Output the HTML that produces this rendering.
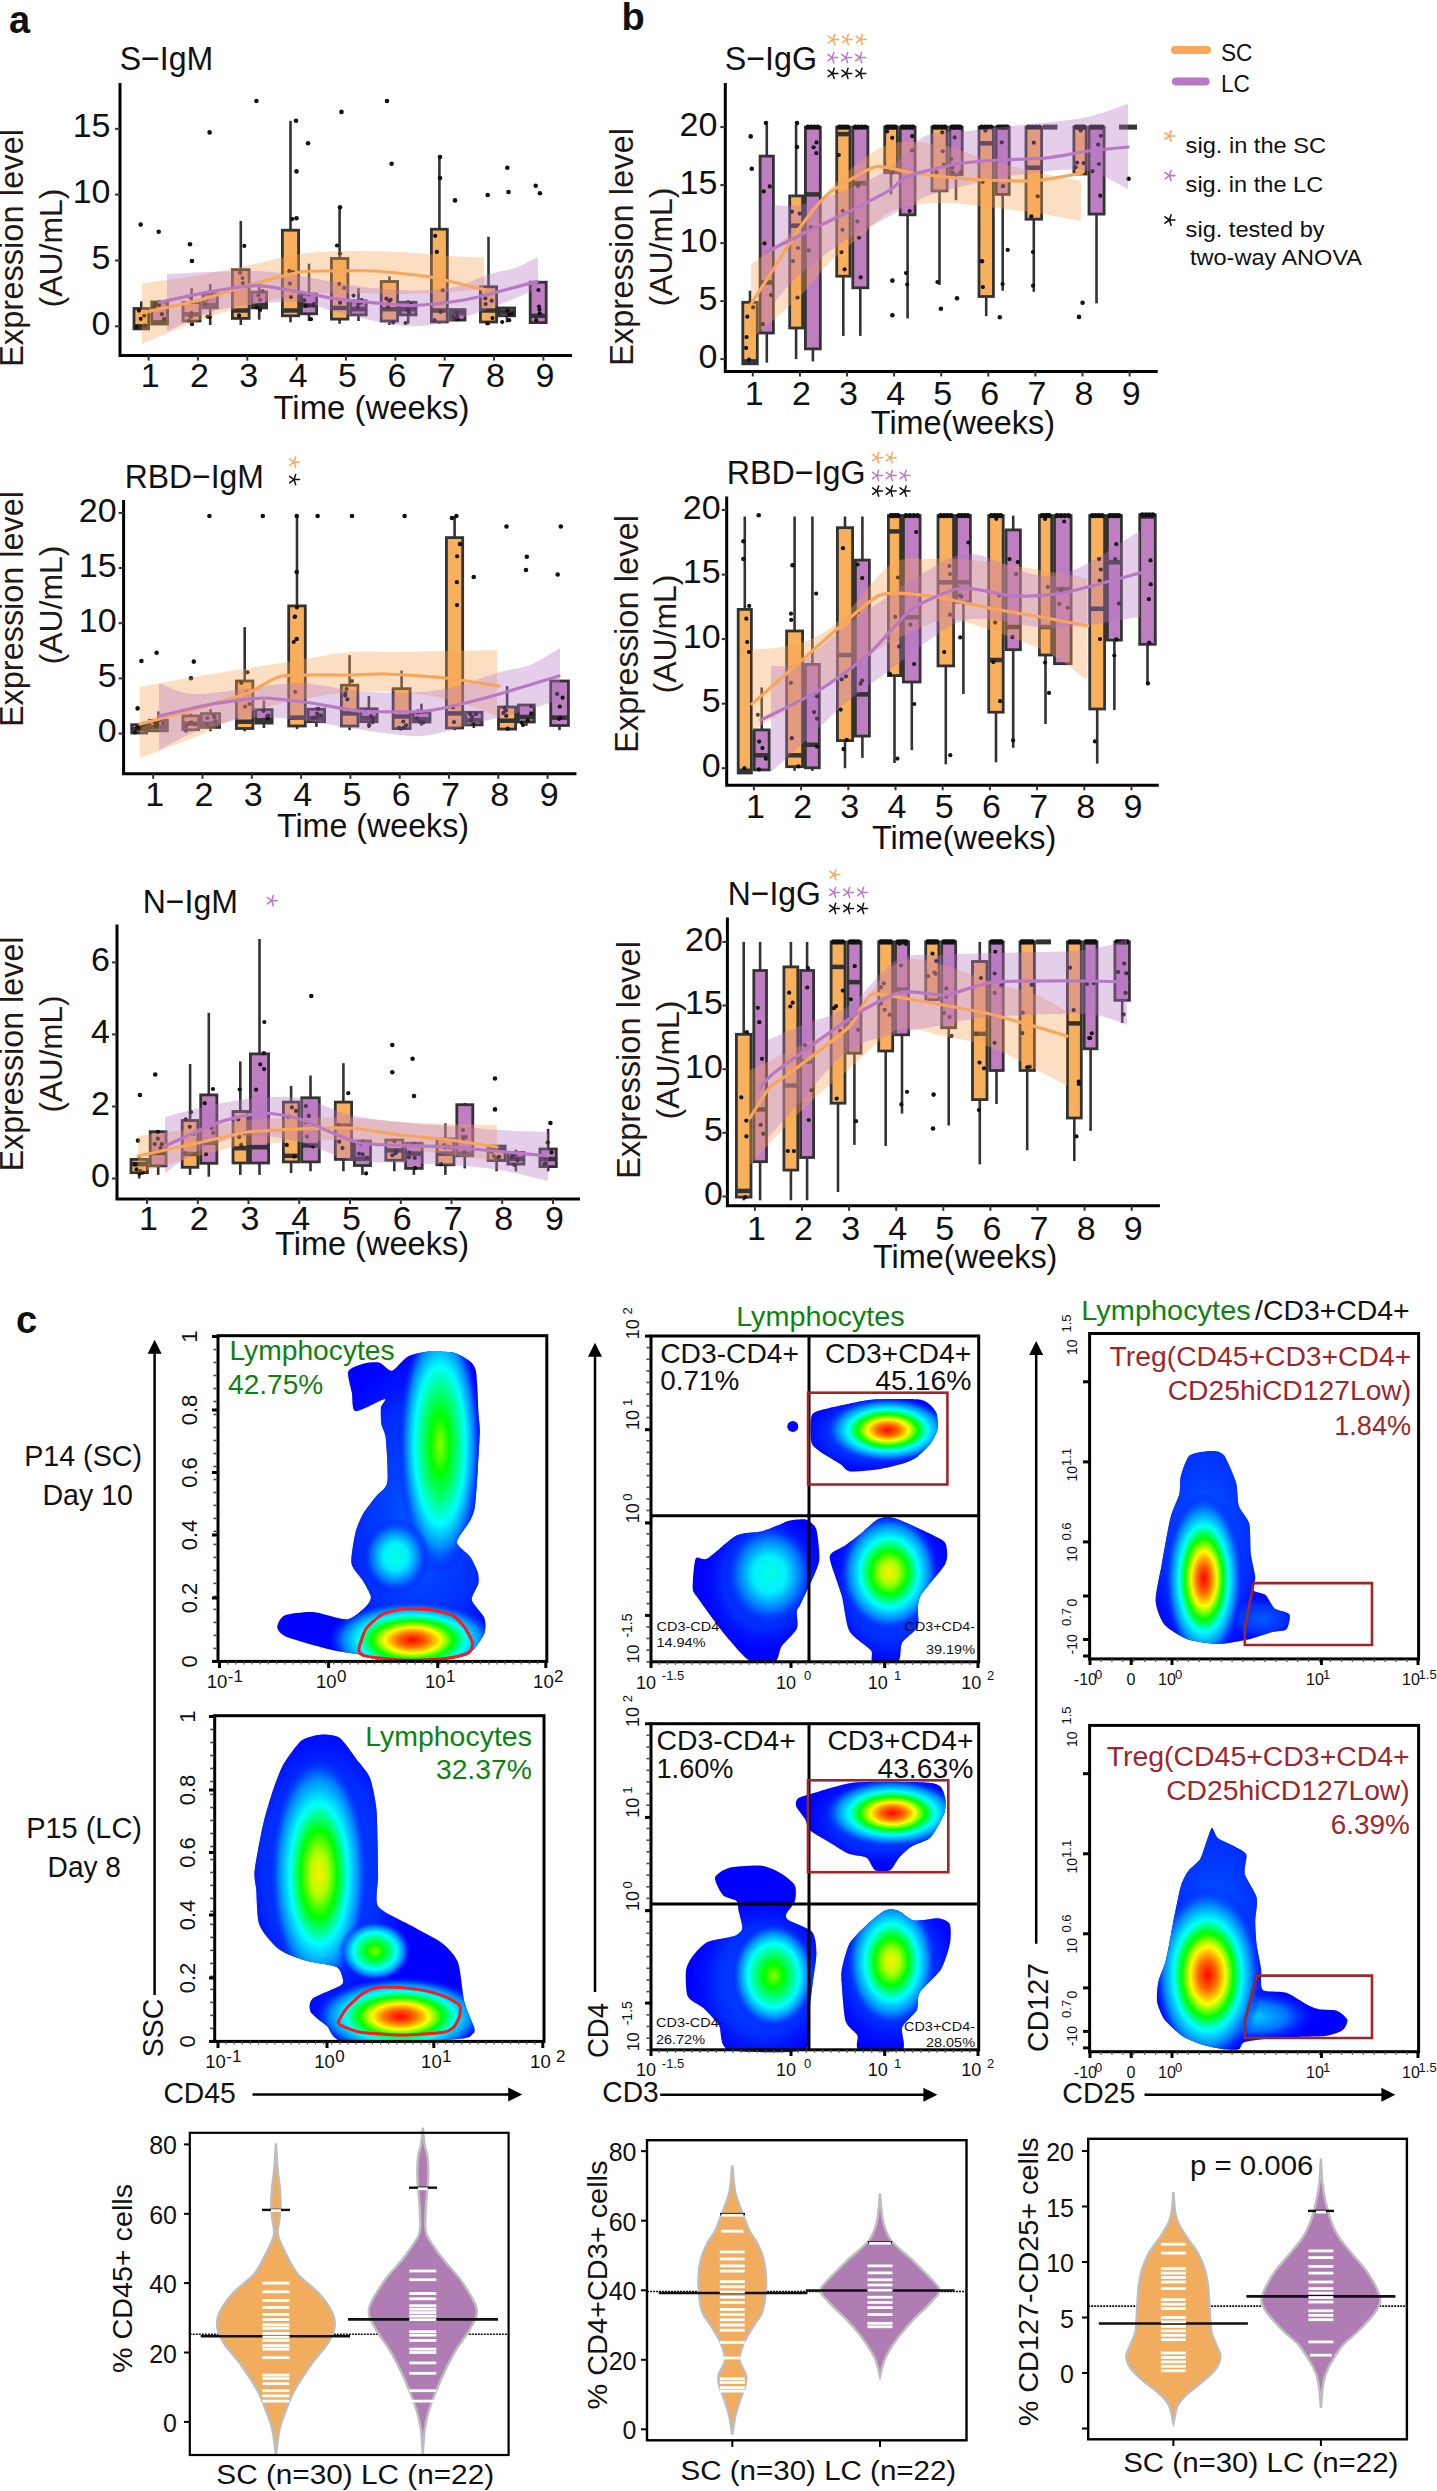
<!DOCTYPE html>
<html><head><meta charset="utf-8"><title>Figure</title>
<style>
html,body{margin:0;padding:0;background:#fff;}
body{width:1437px;height:2491px;overflow:hidden;}
svg{display:block;font-family:"Liberation Sans", sans-serif;}
</style></head><body>
<svg width="1437" height="2491" viewBox="0 0 1437 2491">
<rect width="1437" height="2491" fill="#fff"/>
<line x1="141.3" y1="301.3" x2="141.3" y2="308.5" stroke="#333333" stroke-width="2.6"/><rect x="134" y="308.5" width="14.6" height="20.4" fill="#F9B05C" stroke="#333333" stroke-width="2.8"/><line x1="134" y1="326.3" x2="148.6" y2="326.3" stroke="#333333" stroke-width="4.5"/><line x1="159.7" y1="300" x2="159.7" y2="301.9" stroke="#333333" stroke-width="2.6"/><line x1="159.7" y1="324.1" x2="159.7" y2="325" stroke="#333333" stroke-width="2.6"/><rect x="151.7" y="301.9" width="15.9" height="22.1" fill="#BE7EC1" stroke="#333333" stroke-width="2.8"/><line x1="151.7" y1="322.3" x2="167.6" y2="322.3" stroke="#333333" stroke-width="4.5"/><line x1="191.6" y1="288.1" x2="191.6" y2="302.6" stroke="#333333" stroke-width="2.6"/><line x1="191.6" y1="321" x2="191.6" y2="325" stroke="#333333" stroke-width="2.6"/><rect x="183" y="302.6" width="17.1" height="18.4" fill="#F9B05C" stroke="#333333" stroke-width="2.8"/><line x1="183" y1="314.4" x2="200.1" y2="314.4" stroke="#333333" stroke-width="4.5"/><line x1="210.2" y1="284.2" x2="210.2" y2="294" stroke="#333333" stroke-width="2.6"/><line x1="210.2" y1="307.9" x2="210.2" y2="325" stroke="#333333" stroke-width="2.6"/><rect x="202.9" y="294" width="14.5" height="13.8" fill="#BE7EC1" stroke="#333333" stroke-width="2.8"/><line x1="202.9" y1="305.2" x2="217.4" y2="305.2" stroke="#333333" stroke-width="4.5"/><line x1="240.8" y1="220.9" x2="240.8" y2="269.7" stroke="#333333" stroke-width="2.6"/><line x1="240.8" y1="318.4" x2="240.8" y2="325" stroke="#333333" stroke-width="2.6"/><rect x="232.4" y="269.7" width="16.7" height="48.7" fill="#F9B05C" stroke="#333333" stroke-width="2.8"/><line x1="232.4" y1="310.5" x2="249.1" y2="310.5" stroke="#333333" stroke-width="4.5"/><line x1="259.2" y1="282.8" x2="259.2" y2="292.1" stroke="#333333" stroke-width="2.6"/><line x1="259.2" y1="307.9" x2="259.2" y2="319.7" stroke="#333333" stroke-width="2.6"/><rect x="251.9" y="292.1" width="14.7" height="15.8" fill="#BE7EC1" stroke="#333333" stroke-width="2.8"/><line x1="251.9" y1="305.2" x2="266.6" y2="305.2" stroke="#333333" stroke-width="4.5"/><line x1="290.5" y1="120.8" x2="290.5" y2="230.2" stroke="#333333" stroke-width="2.6"/><line x1="290.5" y1="315.8" x2="290.5" y2="322.3" stroke="#333333" stroke-width="2.6"/><rect x="282.4" y="230.2" width="16.2" height="85.6" fill="#F9B05C" stroke="#333333" stroke-width="2.8"/><line x1="282.4" y1="310.5" x2="298.6" y2="310.5" stroke="#333333" stroke-width="4.5"/><line x1="309" y1="263.7" x2="309" y2="294" stroke="#333333" stroke-width="2.6"/><line x1="309" y1="313.8" x2="309" y2="321" stroke="#333333" stroke-width="2.6"/><rect x="301.4" y="294" width="15.2" height="19.8" fill="#BE7EC1" stroke="#333333" stroke-width="2.8"/><line x1="301.4" y1="305.2" x2="316.6" y2="305.2" stroke="#333333" stroke-width="4.5"/><line x1="339.6" y1="207.1" x2="339.6" y2="258.5" stroke="#333333" stroke-width="2.6"/><line x1="339.6" y1="319.1" x2="339.6" y2="323.7" stroke="#333333" stroke-width="2.6"/><rect x="331.4" y="258.5" width="16.5" height="60.6" fill="#F9B05C" stroke="#333333" stroke-width="2.8"/><line x1="331.4" y1="307.9" x2="347.9" y2="307.9" stroke="#333333" stroke-width="4.5"/><line x1="358.5" y1="288.1" x2="358.5" y2="300.9" stroke="#333333" stroke-width="2.6"/><line x1="358.5" y1="314.8" x2="358.5" y2="321" stroke="#333333" stroke-width="2.6"/><rect x="350.7" y="300.9" width="15.5" height="14" fill="#BE7EC1" stroke="#333333" stroke-width="2.8"/><line x1="350.7" y1="309.2" x2="366.2" y2="309.2" stroke="#333333" stroke-width="4.5"/><line x1="389.4" y1="276.3" x2="389.4" y2="281.5" stroke="#333333" stroke-width="2.6"/><line x1="389.4" y1="321" x2="389.4" y2="325" stroke="#333333" stroke-width="2.6"/><rect x="381.2" y="281.5" width="16.4" height="39.5" fill="#F9B05C" stroke="#333333" stroke-width="2.8"/><line x1="381.2" y1="309.2" x2="397.6" y2="309.2" stroke="#333333" stroke-width="4.5"/><line x1="408.2" y1="300" x2="408.2" y2="302.3" stroke="#333333" stroke-width="2.6"/><line x1="408.2" y1="315" x2="408.2" y2="323.7" stroke="#333333" stroke-width="2.6"/><rect x="400.4" y="302.3" width="15.6" height="12.6" fill="#BE7EC1" stroke="#333333" stroke-width="2.8"/><line x1="400.4" y1="309.2" x2="416" y2="309.2" stroke="#333333" stroke-width="4.5"/><line x1="439.4" y1="157.1" x2="439.4" y2="229.2" stroke="#333333" stroke-width="2.6"/><line x1="439.4" y1="322" x2="439.4" y2="323.7" stroke="#333333" stroke-width="2.6"/><rect x="431.4" y="229.2" width="15.9" height="92.7" fill="#F9B05C" stroke="#333333" stroke-width="2.8"/><line x1="431.4" y1="310.5" x2="447.3" y2="310.5" stroke="#333333" stroke-width="4.5"/><line x1="457.5" y1="309.2" x2="457.5" y2="309.6" stroke="#333333" stroke-width="2.6"/><line x1="457.5" y1="320.1" x2="457.5" y2="321" stroke="#333333" stroke-width="2.6"/><rect x="450.1" y="309.6" width="14.9" height="10.5" fill="#BE7EC1" stroke="#333333" stroke-width="2.8"/><line x1="450.1" y1="313.1" x2="465" y2="313.1" stroke="#333333" stroke-width="4.5"/><line x1="488.5" y1="236.7" x2="488.5" y2="286.8" stroke="#333333" stroke-width="2.6"/><line x1="488.5" y1="322" x2="488.5" y2="325" stroke="#333333" stroke-width="2.6"/><rect x="480.4" y="286.8" width="16.2" height="35.2" fill="#F9B05C" stroke="#333333" stroke-width="2.8"/><line x1="480.4" y1="310.5" x2="496.6" y2="310.5" stroke="#333333" stroke-width="4.5"/><line x1="507" y1="307.9" x2="507" y2="308" stroke="#333333" stroke-width="2.6"/><line x1="507" y1="315.8" x2="507" y2="322.3" stroke="#333333" stroke-width="2.6"/><rect x="499.4" y="308" width="15.2" height="7.8" fill="#BE7EC1" stroke="#333333" stroke-width="2.8"/><line x1="499.4" y1="311.8" x2="514.6" y2="311.8" stroke="#333333" stroke-width="4.5"/><line x1="538.2" y1="281.5" x2="538.2" y2="282.2" stroke="#333333" stroke-width="2.6"/><rect x="530.2" y="282.2" width="16" height="40.4" fill="#BE7EC1" stroke="#333333" stroke-width="2.8"/><line x1="530.2" y1="315.8" x2="546.2" y2="315.8" stroke="#333333" stroke-width="4.5"/>
<g fill="#111"><circle cx="140.7" cy="224.6" r="2.3"/><circle cx="158.7" cy="231.7" r="2.3"/><circle cx="190" cy="244.3" r="2.3"/><circle cx="192" cy="261" r="2.3"/><circle cx="209.6" cy="132.4" r="2.3"/><circle cx="256.4" cy="101" r="2.3"/><circle cx="308.1" cy="143.2" r="2.3"/><circle cx="341.5" cy="111.9" r="2.3"/><circle cx="387" cy="101" r="2.3"/><circle cx="391.6" cy="163.7" r="2.3"/><circle cx="455" cy="200.4" r="2.3"/><circle cx="487.7" cy="195" r="2.3"/><circle cx="507.3" cy="167.8" r="2.3"/><circle cx="508.5" cy="192" r="2.3"/><circle cx="535.7" cy="185.8" r="2.3"/><circle cx="539.9" cy="193.3" r="2.3"/><circle cx="296.5" cy="171.4" r="2.3"/><circle cx="296.5" cy="218.2" r="2.3"/><circle cx="440" cy="178.1" r="2.3"/><circle cx="340" cy="207.3" r="2.3"/><circle cx="296" cy="120.7" r="2.3"/><circle cx="440" cy="157" r="2.3"/><circle cx="144.8" cy="325.7" r="2.1"/><circle cx="138.9" cy="310.6" r="2.1"/><circle cx="140.8" cy="318.8" r="2.1"/><circle cx="144.2" cy="315.6" r="2.1"/><circle cx="136.6" cy="327" r="2.1"/><circle cx="159" cy="304.9" r="2.1"/><circle cx="154.7" cy="306.7" r="2.1"/><circle cx="161.9" cy="314.2" r="2.1"/><circle cx="164.1" cy="319" r="2.1"/><circle cx="155" cy="304.1" r="2.1"/><circle cx="192" cy="324.2" r="2.1"/><circle cx="190.4" cy="297.2" r="2.1"/><circle cx="190.8" cy="317" r="2.1"/><circle cx="188.8" cy="320.5" r="2.1"/><circle cx="191.5" cy="313" r="2.1"/><circle cx="207.5" cy="316.6" r="2.1"/><circle cx="209.7" cy="317.1" r="2.1"/><circle cx="205.4" cy="303.9" r="2.1"/><circle cx="210.7" cy="296.3" r="2.1"/><circle cx="207" cy="299" r="2.1"/><circle cx="244.3" cy="245.9" r="2.1"/><circle cx="239.1" cy="315.4" r="2.1"/><circle cx="242.9" cy="283.2" r="2.1"/><circle cx="240" cy="272.8" r="2.1"/><circle cx="242.5" cy="278" r="2.1"/><circle cx="260.1" cy="309.9" r="2.1"/><circle cx="262.7" cy="291.2" r="2.1"/><circle cx="260.1" cy="299.9" r="2.1"/><circle cx="256.7" cy="307.3" r="2.1"/><circle cx="258.4" cy="295.3" r="2.1"/><circle cx="291" cy="296.9" r="2.1"/><circle cx="292.2" cy="219.1" r="2.1"/><circle cx="289.9" cy="283.7" r="2.1"/><circle cx="293.3" cy="272.2" r="2.1"/><circle cx="289.4" cy="271.2" r="2.1"/><circle cx="304.3" cy="300.4" r="2.1"/><circle cx="311" cy="319.2" r="2.1"/><circle cx="309.9" cy="294.4" r="2.1"/><circle cx="305.7" cy="306" r="2.1"/><circle cx="313.8" cy="303.9" r="2.1"/><circle cx="340" cy="253.6" r="2.1"/><circle cx="337" cy="245.5" r="2.1"/><circle cx="344.2" cy="287.9" r="2.1"/><circle cx="339.2" cy="284.1" r="2.1"/><circle cx="340.1" cy="302.7" r="2.1"/><circle cx="353.5" cy="295.6" r="2.1"/><circle cx="361.7" cy="300.2" r="2.1"/><circle cx="360.9" cy="302.5" r="2.1"/><circle cx="358.6" cy="303.5" r="2.1"/><circle cx="357.7" cy="307" r="2.1"/><circle cx="393.1" cy="322.4" r="2.1"/><circle cx="386.4" cy="298.7" r="2.1"/><circle cx="389.2" cy="301.1" r="2.1"/><circle cx="387.9" cy="306.9" r="2.1"/><circle cx="390.6" cy="299.8" r="2.1"/><circle cx="407.8" cy="309.9" r="2.1"/><circle cx="405.5" cy="323" r="2.1"/><circle cx="409" cy="312.7" r="2.1"/><circle cx="411.2" cy="304.1" r="2.1"/><circle cx="411.4" cy="304.9" r="2.1"/><circle cx="442.8" cy="290.3" r="2.1"/><circle cx="435.2" cy="235.8" r="2.1"/><circle cx="434.5" cy="320.4" r="2.1"/><circle cx="436.8" cy="251.9" r="2.1"/><circle cx="440.6" cy="311.8" r="2.1"/><circle cx="453.2" cy="317" r="2.1"/><circle cx="457.8" cy="319.2" r="2.1"/><circle cx="455.3" cy="318.3" r="2.1"/><circle cx="457.1" cy="312.6" r="2.1"/><circle cx="457.3" cy="316.7" r="2.1"/><circle cx="487.4" cy="323.5" r="2.1"/><circle cx="485.4" cy="298.4" r="2.1"/><circle cx="492.5" cy="318.1" r="2.1"/><circle cx="485.6" cy="304" r="2.1"/><circle cx="491.7" cy="300.7" r="2.1"/><circle cx="502.2" cy="322" r="2.1"/><circle cx="509.2" cy="320.2" r="2.1"/><circle cx="509" cy="314.5" r="2.1"/><circle cx="507.4" cy="310.5" r="2.1"/><circle cx="511.8" cy="314" r="2.1"/><circle cx="538.4" cy="290" r="2.1"/><circle cx="539.7" cy="313.3" r="2.1"/><circle cx="539" cy="306.6" r="2.1"/><circle cx="539.5" cy="309.6" r="2.1"/><circle cx="536.2" cy="320.2" r="2.1"/></g>
<path d="M142 283.5 C151.7 282.1 182 278.1 200 275 C218 271.9 233.3 268.5 250 265 C266.7 261.5 283.3 256.3 300 254 C316.7 251.7 333.3 251.3 350 251 C366.7 250.7 383.3 251.2 400 252 C416.7 252.8 436 255.1 450 256 C464 256.9 478.3 257.2 484 257.5 L484 289 C478.3 289.5 464 291.2 450 292 C436 292.8 416.7 293.8 400 294 C383.3 294.2 366.7 292.8 350 293 C333.3 293.2 316.7 293 300 295 C283.3 297 266.7 300.8 250 305 C233.3 309.2 218 313.5 200 320 C182 326.5 151.7 340 142 344Z" fill="#F8A75A" fill-opacity="0.36"/>
<path d="M167 274 C180.8 273.5 227.8 270.7 250 271 C272.2 271.3 283.3 273.7 300 276 C316.7 278.3 333.3 282.7 350 285 C366.7 287.3 383.3 289.5 400 290 C416.7 290.5 435 290.7 450 288 C465 285.3 479.2 277.3 490 274 C500.8 270.7 507 270.8 515 268 C523 265.2 534.2 258.8 538 257 L538 288.8 C526.3 293.3 489.1 309.8 468 316 C446.9 322.2 432.4 326.7 411.5 326.3 C390.6 325.9 361.2 317.8 342.6 313.8 C324 309.8 315.4 303.9 300 302.3 C284.6 300.7 265.7 302.7 250.5 304.4 C235.3 306.1 222.9 308.2 209 312.7 C195.1 317.2 174 328.4 167 331.5Z" fill="#B878C5" fill-opacity="0.36"/>
<path d="M142 313 C147.8 311.7 189.2 302.8 200 300 C210.8 297.2 240 287.8 250 285 C260 282.2 291.1 273.4 300 272 C308.9 270.6 331.1 271.1 338.5 271 C345.9 270.9 364.9 270.4 374 271 C383.1 271.6 418.9 275.1 430 277 C441.1 278.9 479.1 288.5 484.6 289.8" fill="none" stroke="#F8A75A" stroke-width="3.2" stroke-linecap="round"/>
<path d="M159.7 302.3 C164.6 301.3 199.1 293.6 208.8 291.9 C218.5 290.2 247.7 285.6 256.8 285.6 C265.9 285.6 291.8 290.6 300 292 C308.2 293.4 327.4 297.8 338.5 299.2 C349.6 300.6 398.6 305.5 411.5 305.5 C424.4 305.5 455.5 301.6 468 299.2 C480.5 296.8 529.9 283.3 536.8 281.5" fill="none" stroke="#B878C5" stroke-width="3.2" stroke-linecap="round"/>
<path d="M120 83 V355.6 H572" fill="none" stroke="#000" stroke-width="3"/>
<line x1="115" y1="326.3" x2="120" y2="326.3" stroke="#333" stroke-width="2"/>
<text x="110.5" y="334.9" font-size="34" text-anchor="end" fill="#111111" font-weight="normal">0</text>
<line x1="115" y1="260.5" x2="120" y2="260.5" stroke="#333" stroke-width="2"/>
<text x="110.5" y="269.1" font-size="34" text-anchor="end" fill="#111111" font-weight="normal">5</text>
<line x1="115" y1="194.6" x2="120" y2="194.6" stroke="#333" stroke-width="2"/>
<text x="110.5" y="203.2" font-size="34" text-anchor="end" fill="#111111" font-weight="normal">10</text>
<line x1="115" y1="128.8" x2="120" y2="128.8" stroke="#333" stroke-width="2"/>
<text x="110.5" y="137.3" font-size="34" text-anchor="end" fill="#111111" font-weight="normal">15</text>
<line x1="148.6" y1="355.6" x2="148.6" y2="360.6" stroke="#333" stroke-width="2"/>
<text x="150.1" y="387" font-size="34" text-anchor="middle" fill="#111111" font-weight="normal">1</text>
<line x1="197.9" y1="355.6" x2="197.9" y2="360.6" stroke="#333" stroke-width="2"/>
<text x="199.4" y="387" font-size="34" text-anchor="middle" fill="#111111" font-weight="normal">2</text>
<line x1="247.3" y1="355.6" x2="247.3" y2="360.6" stroke="#333" stroke-width="2"/>
<text x="248.8" y="387" font-size="34" text-anchor="middle" fill="#111111" font-weight="normal">3</text>
<line x1="296.6" y1="355.6" x2="296.6" y2="360.6" stroke="#333" stroke-width="2"/>
<text x="298.1" y="387" font-size="34" text-anchor="middle" fill="#111111" font-weight="normal">4</text>
<line x1="346" y1="355.6" x2="346" y2="360.6" stroke="#333" stroke-width="2"/>
<text x="347.5" y="387" font-size="34" text-anchor="middle" fill="#111111" font-weight="normal">5</text>
<line x1="395.4" y1="355.6" x2="395.4" y2="360.6" stroke="#333" stroke-width="2"/>
<text x="396.9" y="387" font-size="34" text-anchor="middle" fill="#111111" font-weight="normal">6</text>
<line x1="444.7" y1="355.6" x2="444.7" y2="360.6" stroke="#333" stroke-width="2"/>
<text x="446.2" y="387" font-size="34" text-anchor="middle" fill="#111111" font-weight="normal">7</text>
<line x1="494" y1="355.6" x2="494" y2="360.6" stroke="#333" stroke-width="2"/>
<text x="495.5" y="387" font-size="34" text-anchor="middle" fill="#111111" font-weight="normal">8</text>
<line x1="543.4" y1="355.6" x2="543.4" y2="360.6" stroke="#333" stroke-width="2"/>
<text x="544.9" y="387" font-size="34" text-anchor="middle" fill="#111111" font-weight="normal">9</text>
<text x="119.7" y="70" font-size="34" text-anchor="start" fill="#111111" font-weight="normal" textLength="93.5" lengthAdjust="spacingAndGlyphs">S−IgM</text>
<text x="23" y="248" font-size="33" text-anchor="middle" fill="#231815" font-weight="normal" textLength="238" lengthAdjust="spacingAndGlyphs" transform="rotate(-90 23 248)">Expression level</text>
<text x="62" y="248" font-size="32" text-anchor="middle" fill="#231815" font-weight="normal" textLength="119" lengthAdjust="spacingAndGlyphs" transform="rotate(-90 62 248)">(AU/mL)</text>
<text x="273.5" y="418.8" font-size="32.5" text-anchor="start" fill="#111111" font-weight="normal" textLength="196" lengthAdjust="spacingAndGlyphs">Time (weeks)</text>
<rect x="131.7" y="724.7" width="14.9" height="8.3" fill="#F9B05C" stroke="#333333" stroke-width="2.8"/><line x1="131.7" y1="729.1" x2="146.6" y2="729.1" stroke="#333333" stroke-width="4.5"/><line x1="158.4" y1="711.4" x2="158.4" y2="720.3" stroke="#333333" stroke-width="2.6"/><line x1="158.4" y1="730.7" x2="158.4" y2="731.3" stroke="#333333" stroke-width="2.6"/><rect x="149.4" y="720.3" width="18" height="10.5" fill="#BE7EC1" stroke="#333333" stroke-width="2.8"/><line x1="149.4" y1="726.9" x2="167.4" y2="726.9" stroke="#333333" stroke-width="4.5"/><line x1="190.8" y1="713.6" x2="190.8" y2="715.9" stroke="#333333" stroke-width="2.6"/><line x1="190.8" y1="729.6" x2="190.8" y2="731.3" stroke="#333333" stroke-width="2.6"/><rect x="182.9" y="715.9" width="15.7" height="13.8" fill="#F9B05C" stroke="#333333" stroke-width="2.8"/><line x1="182.9" y1="723.6" x2="198.6" y2="723.6" stroke="#333333" stroke-width="4.5"/><line x1="210.5" y1="709.2" x2="210.5" y2="713.6" stroke="#333333" stroke-width="2.6"/><line x1="210.5" y1="727.4" x2="210.5" y2="731.3" stroke="#333333" stroke-width="2.6"/><rect x="201.4" y="713.6" width="18.2" height="13.8" fill="#BE7EC1" stroke="#333333" stroke-width="2.8"/><line x1="201.4" y1="723.6" x2="219.6" y2="723.6" stroke="#333333" stroke-width="4.5"/><line x1="244.7" y1="627.1" x2="244.7" y2="681" stroke="#333333" stroke-width="2.6"/><line x1="244.7" y1="728.5" x2="244.7" y2="731.3" stroke="#333333" stroke-width="2.6"/><rect x="236.4" y="681" width="16.5" height="47.5" fill="#F9B05C" stroke="#333333" stroke-width="2.8"/><line x1="236.4" y1="721.7" x2="252.9" y2="721.7" stroke="#333333" stroke-width="4.5"/><line x1="263.9" y1="700.4" x2="263.9" y2="709.6" stroke="#333333" stroke-width="2.6"/><line x1="263.9" y1="723" x2="263.9" y2="728" stroke="#333333" stroke-width="2.6"/><rect x="255.7" y="709.6" width="16.4" height="13.5" fill="#BE7EC1" stroke="#333333" stroke-width="2.8"/><line x1="255.7" y1="720.3" x2="272.1" y2="720.3" stroke="#333333" stroke-width="4.5"/><line x1="297" y1="516.2" x2="297" y2="605.9" stroke="#333333" stroke-width="2.6"/><line x1="297" y1="726" x2="297" y2="729.1" stroke="#333333" stroke-width="2.6"/><rect x="288.7" y="605.9" width="16.6" height="120.1" fill="#F9B05C" stroke="#333333" stroke-width="2.8"/><line x1="288.7" y1="717.6" x2="305.3" y2="717.6" stroke="#333333" stroke-width="4.5"/><line x1="316.4" y1="707" x2="316.4" y2="709.2" stroke="#333333" stroke-width="2.6"/><line x1="316.4" y1="721.7" x2="316.4" y2="726.9" stroke="#333333" stroke-width="2.6"/><rect x="308.1" y="709.2" width="16.5" height="12.5" fill="#BE7EC1" stroke="#333333" stroke-width="2.8"/><line x1="308.1" y1="718.1" x2="324.6" y2="718.1" stroke="#333333" stroke-width="4.5"/><line x1="349.6" y1="655.2" x2="349.6" y2="685.2" stroke="#333333" stroke-width="2.6"/><line x1="349.6" y1="726" x2="349.6" y2="730.2" stroke="#333333" stroke-width="2.6"/><rect x="341.4" y="685.2" width="16.5" height="40.8" fill="#F9B05C" stroke="#333333" stroke-width="2.8"/><line x1="341.4" y1="713.4" x2="357.9" y2="713.4" stroke="#333333" stroke-width="4.5"/><line x1="368.9" y1="696" x2="368.9" y2="708.8" stroke="#333333" stroke-width="2.6"/><line x1="368.9" y1="721.7" x2="368.9" y2="728" stroke="#333333" stroke-width="2.6"/><rect x="360.7" y="708.8" width="16.4" height="12.9" fill="#BE7EC1" stroke="#333333" stroke-width="2.8"/><line x1="360.7" y1="718.1" x2="377.1" y2="718.1" stroke="#333333" stroke-width="4.5"/><line x1="401.6" y1="670.6" x2="401.6" y2="688.7" stroke="#333333" stroke-width="2.6"/><line x1="401.6" y1="728.6" x2="401.6" y2="730.2" stroke="#333333" stroke-width="2.6"/><rect x="393.1" y="688.7" width="17" height="39.9" fill="#F9B05C" stroke="#333333" stroke-width="2.8"/><line x1="393.1" y1="716.5" x2="410.1" y2="716.5" stroke="#333333" stroke-width="4.5"/><line x1="421.4" y1="703.7" x2="421.4" y2="712.3" stroke="#333333" stroke-width="2.6"/><line x1="421.4" y1="722" x2="421.4" y2="725.8" stroke="#333333" stroke-width="2.6"/><rect x="412.9" y="712.3" width="17.1" height="9.7" fill="#BE7EC1" stroke="#333333" stroke-width="2.8"/><line x1="412.9" y1="719.2" x2="430" y2="719.2" stroke="#333333" stroke-width="4.5"/><line x1="454.6" y1="516.2" x2="454.6" y2="537.6" stroke="#333333" stroke-width="2.6"/><line x1="454.6" y1="728" x2="454.6" y2="730.2" stroke="#333333" stroke-width="2.6"/><rect x="446.4" y="537.6" width="16.3" height="190.4" fill="#F9B05C" stroke="#333333" stroke-width="2.8"/><line x1="446.4" y1="713.4" x2="462.7" y2="713.4" stroke="#333333" stroke-width="4.5"/><line x1="473.8" y1="711.4" x2="473.8" y2="712.3" stroke="#333333" stroke-width="2.6"/><line x1="473.8" y1="724.9" x2="473.8" y2="728" stroke="#333333" stroke-width="2.6"/><rect x="465.5" y="712.3" width="16.6" height="12.6" fill="#BE7EC1" stroke="#333333" stroke-width="2.8"/><line x1="465.5" y1="720.3" x2="482.1" y2="720.3" stroke="#333333" stroke-width="4.5"/><line x1="507.1" y1="686.1" x2="507.1" y2="707" stroke="#333333" stroke-width="2.6"/><line x1="507.1" y1="729.1" x2="507.1" y2="730.2" stroke="#333333" stroke-width="2.6"/><rect x="498.5" y="707" width="17.1" height="22.1" fill="#F9B05C" stroke="#333333" stroke-width="2.8"/><line x1="498.5" y1="720.7" x2="515.6" y2="720.7" stroke="#333333" stroke-width="4.5"/><line x1="526.4" y1="704.8" x2="526.4" y2="705" stroke="#333333" stroke-width="2.6"/><line x1="526.4" y1="722" x2="526.4" y2="725.8" stroke="#333333" stroke-width="2.6"/><rect x="518.4" y="705" width="15.9" height="17" fill="#BE7EC1" stroke="#333333" stroke-width="2.8"/><line x1="518.4" y1="717" x2="534.3" y2="717" stroke="#333333" stroke-width="4.5"/><line x1="559.5" y1="725.4" x2="559.5" y2="730.2" stroke="#333333" stroke-width="2.6"/><rect x="550.7" y="681" width="17.7" height="44.5" fill="#BE7EC1" stroke="#333333" stroke-width="2.8"/><line x1="550.7" y1="717.6" x2="568.4" y2="717.6" stroke="#333333" stroke-width="4.5"/>
<g fill="#111"><circle cx="296.7" cy="516" r="2.3"/><circle cx="317.6" cy="516" r="2.3"/><circle cx="352" cy="516" r="2.3"/><circle cx="404.6" cy="516" r="2.3"/><circle cx="456.4" cy="516" r="2.3"/><circle cx="506.5" cy="526.5" r="2.3"/><circle cx="526.8" cy="556.8" r="2.3"/><circle cx="526" cy="570" r="2.3"/><circle cx="560.8" cy="526.5" r="2.3"/><circle cx="557.7" cy="574.5" r="2.3"/><circle cx="473.7" cy="577" r="2.3"/><circle cx="209.4" cy="516" r="2.3"/><circle cx="262.8" cy="516" r="2.3"/><circle cx="141.4" cy="661" r="2.3"/><circle cx="156.6" cy="652.7" r="2.3"/><circle cx="137.6" cy="708.4" r="2.3"/><circle cx="193.8" cy="661.6" r="2.3"/><circle cx="191" cy="678.3" r="2.3"/><circle cx="296.7" cy="572" r="2.3"/><circle cx="296.7" cy="639" r="2.3"/><circle cx="452" cy="518" r="2.3"/><circle cx="460" cy="544" r="2.3"/><circle cx="143.6" cy="725" r="2.1"/><circle cx="135" cy="732.5" r="2.1"/><circle cx="141.5" cy="726" r="2.1"/><circle cx="137.2" cy="727.4" r="2.1"/><circle cx="140.2" cy="727.9" r="2.1"/><circle cx="155" cy="722.3" r="2.1"/><circle cx="157.3" cy="724.6" r="2.1"/><circle cx="163.3" cy="723.2" r="2.1"/><circle cx="158.8" cy="720.8" r="2.1"/><circle cx="156.1" cy="726.1" r="2.1"/><circle cx="186" cy="730.7" r="2.1"/><circle cx="188.9" cy="723.6" r="2.1"/><circle cx="194.7" cy="724.4" r="2.1"/><circle cx="191.4" cy="722.4" r="2.1"/><circle cx="186" cy="726.4" r="2.1"/><circle cx="206.9" cy="724.8" r="2.1"/><circle cx="215.5" cy="721.2" r="2.1"/><circle cx="207.3" cy="718.1" r="2.1"/><circle cx="213.5" cy="715.1" r="2.1"/><circle cx="214.6" cy="717.3" r="2.1"/><circle cx="247.5" cy="672.3" r="2.1"/><circle cx="249.5" cy="704" r="2.1"/><circle cx="241.3" cy="682.8" r="2.1"/><circle cx="246.8" cy="692.7" r="2.1"/><circle cx="245" cy="706.6" r="2.1"/><circle cx="268.1" cy="716.7" r="2.1"/><circle cx="267.2" cy="716.5" r="2.1"/><circle cx="267.7" cy="718.3" r="2.1"/><circle cx="263.5" cy="710.9" r="2.1"/><circle cx="268.1" cy="715.4" r="2.1"/><circle cx="296.9" cy="607.5" r="2.1"/><circle cx="295.2" cy="691.8" r="2.1"/><circle cx="293.7" cy="642" r="2.1"/><circle cx="294.7" cy="616.9" r="2.1"/><circle cx="295.1" cy="616.5" r="2.1"/><circle cx="318.4" cy="708.9" r="2.1"/><circle cx="316.5" cy="717.4" r="2.1"/><circle cx="317.2" cy="713.6" r="2.1"/><circle cx="313.4" cy="717.8" r="2.1"/><circle cx="320.7" cy="715.3" r="2.1"/><circle cx="345.4" cy="692.8" r="2.1"/><circle cx="351.9" cy="681" r="2.1"/><circle cx="346.6" cy="689" r="2.1"/><circle cx="345.2" cy="695.6" r="2.1"/><circle cx="347.4" cy="699.4" r="2.1"/><circle cx="372.7" cy="722.2" r="2.1"/><circle cx="369.1" cy="725.3" r="2.1"/><circle cx="366.3" cy="710.7" r="2.1"/><circle cx="372.7" cy="719" r="2.1"/><circle cx="371.1" cy="716.2" r="2.1"/><circle cx="400.2" cy="728.6" r="2.1"/><circle cx="403.3" cy="721.5" r="2.1"/><circle cx="406.1" cy="725.3" r="2.1"/><circle cx="403.9" cy="727.6" r="2.1"/><circle cx="399.2" cy="727.8" r="2.1"/><circle cx="418" cy="711.3" r="2.1"/><circle cx="423.4" cy="722.5" r="2.1"/><circle cx="416.9" cy="718.3" r="2.1"/><circle cx="418" cy="712.4" r="2.1"/><circle cx="419.9" cy="721.7" r="2.1"/><circle cx="457" cy="605.1" r="2.1"/><circle cx="452.9" cy="707.2" r="2.1"/><circle cx="454" cy="722.1" r="2.1"/><circle cx="456.9" cy="582.2" r="2.1"/><circle cx="457.1" cy="556.3" r="2.1"/><circle cx="475.9" cy="714.1" r="2.1"/><circle cx="471.1" cy="720.4" r="2.1"/><circle cx="472" cy="716.6" r="2.1"/><circle cx="473.3" cy="723.6" r="2.1"/><circle cx="470.1" cy="713.9" r="2.1"/><circle cx="506" cy="710.5" r="2.1"/><circle cx="503.5" cy="712.9" r="2.1"/><circle cx="504.6" cy="707.9" r="2.1"/><circle cx="506.2" cy="715.7" r="2.1"/><circle cx="507.6" cy="728.7" r="2.1"/><circle cx="521.9" cy="722.8" r="2.1"/><circle cx="523" cy="725.1" r="2.1"/><circle cx="527.7" cy="720.4" r="2.1"/><circle cx="531.2" cy="713.4" r="2.1"/><circle cx="531.3" cy="706.2" r="2.1"/><circle cx="559" cy="718.8" r="2.1"/><circle cx="560.5" cy="717.9" r="2.1"/><circle cx="562.6" cy="697.7" r="2.1"/><circle cx="557.1" cy="693.9" r="2.1"/><circle cx="559.8" cy="706.6" r="2.1"/></g>
<path d="M140 687 C150 685.2 181.7 679.2 200 676 C218.3 672.8 233.3 670.7 250 668 C266.7 665.3 283.3 662.7 300 660 C316.7 657.3 333.3 653.3 350 652 C366.7 650.7 383.3 652.2 400 652 C416.7 651.8 433.8 651.3 450 651 C466.2 650.7 489.2 650.2 497 650 L497 716 C489.2 713.3 466.2 704 450 700 C433.8 696 416.7 693.3 400 692 C383.3 690.7 366.7 690.7 350 692 C333.3 693.3 316.7 696.7 300 700 C283.3 703.3 266.7 706.2 250 712 C233.3 717.8 218.3 727.3 200 735 C181.7 742.7 150 754.2 140 758Z" fill="#F8A75A" fill-opacity="0.36"/>
<path d="M159 683 C164.7 684.8 177.8 693.2 193 694 C208.2 694.8 232.2 689.8 250 688 C267.8 686.2 283.3 682.7 300 683 C316.7 683.3 333.3 688.3 350 690 C366.7 691.7 383.3 693.3 400 693 C416.7 692.7 433.3 691.5 450 688 C466.7 684.5 486.7 675.8 500 672 C513.3 668.2 520 669 530 665 C540 661 555 650.8 560 648 L560 700 C553.3 702 533.3 708.3 520 712 C506.7 715.7 495 718.2 480 722 C465 725.8 443.3 732.8 430 735 C416.7 737.2 413.3 736.2 400 735 C386.7 733.8 366.7 730.5 350 728 C333.3 725.5 316.7 721.7 300 720 C283.3 718.3 266.7 716.3 250 718 C233.3 719.7 215.2 724.7 200 730 C184.8 735.3 165.8 746.7 159 750Z" fill="#B878C5" fill-opacity="0.36"/>
<path d="M140 724 C146 722.4 189 711.2 200 708 C211 704.8 241.8 695.2 250 692 C258.2 688.8 272.1 677.7 282 676 C291.9 674.3 338.5 675.2 349 675 C359.5 674.8 377.4 673.7 387 674 C396.6 674.3 433.8 676.8 445 678 C456.2 679.2 493.6 685.2 499 686" fill="none" stroke="#F8A75A" stroke-width="3.2" stroke-linecap="round"/>
<path d="M159 716 C164.3 714.8 201.6 705.8 212 704 C222.4 702.2 253.1 698.1 263 698 C272.9 697.9 301.4 701.7 311 703 C320.6 704.3 347.5 710.2 359 711 C370.5 711.8 413 712.4 426 711 C439 709.6 475.7 700.5 489 697 C502.3 693.5 552 678.1 559 676" fill="none" stroke="#B878C5" stroke-width="3.2" stroke-linecap="round"/>
<path d="M123.6 500 V773.8 H576.4" fill="none" stroke="#000" stroke-width="3"/>
<line x1="118.6" y1="733.5" x2="123.6" y2="733.5" stroke="#333" stroke-width="2"/>
<text x="116.6" y="742.1" font-size="34" text-anchor="end" fill="#111111" font-weight="normal">0</text>
<line x1="118.6" y1="678.4" x2="123.6" y2="678.4" stroke="#333" stroke-width="2"/>
<text x="116.6" y="687" font-size="34" text-anchor="end" fill="#111111" font-weight="normal">5</text>
<line x1="118.6" y1="623.2" x2="123.6" y2="623.2" stroke="#333" stroke-width="2"/>
<text x="116.6" y="631.8" font-size="34" text-anchor="end" fill="#111111" font-weight="normal">10</text>
<line x1="118.6" y1="568" x2="123.6" y2="568" stroke="#333" stroke-width="2"/>
<text x="116.6" y="576.6" font-size="34" text-anchor="end" fill="#111111" font-weight="normal">15</text>
<line x1="118.6" y1="512.9" x2="123.6" y2="512.9" stroke="#333" stroke-width="2"/>
<text x="116.6" y="521.5" font-size="34" text-anchor="end" fill="#111111" font-weight="normal">20</text>
<line x1="153.2" y1="773.8" x2="153.2" y2="778.8" stroke="#333" stroke-width="2"/>
<text x="154.7" y="806" font-size="34" text-anchor="middle" fill="#111111" font-weight="normal">1</text>
<line x1="202.5" y1="773.8" x2="202.5" y2="778.8" stroke="#333" stroke-width="2"/>
<text x="204" y="806" font-size="34" text-anchor="middle" fill="#111111" font-weight="normal">2</text>
<line x1="251.8" y1="773.8" x2="251.8" y2="778.8" stroke="#333" stroke-width="2"/>
<text x="253.3" y="806" font-size="34" text-anchor="middle" fill="#111111" font-weight="normal">3</text>
<line x1="301.1" y1="773.8" x2="301.1" y2="778.8" stroke="#333" stroke-width="2"/>
<text x="302.6" y="806" font-size="34" text-anchor="middle" fill="#111111" font-weight="normal">4</text>
<line x1="350.4" y1="773.8" x2="350.4" y2="778.8" stroke="#333" stroke-width="2"/>
<text x="351.9" y="806" font-size="34" text-anchor="middle" fill="#111111" font-weight="normal">5</text>
<line x1="399.7" y1="773.8" x2="399.7" y2="778.8" stroke="#333" stroke-width="2"/>
<text x="401.2" y="806" font-size="34" text-anchor="middle" fill="#111111" font-weight="normal">6</text>
<line x1="449" y1="773.8" x2="449" y2="778.8" stroke="#333" stroke-width="2"/>
<text x="450.5" y="806" font-size="34" text-anchor="middle" fill="#111111" font-weight="normal">7</text>
<line x1="498.3" y1="773.8" x2="498.3" y2="778.8" stroke="#333" stroke-width="2"/>
<text x="499.8" y="806" font-size="34" text-anchor="middle" fill="#111111" font-weight="normal">8</text>
<line x1="547.6" y1="773.8" x2="547.6" y2="778.8" stroke="#333" stroke-width="2"/>
<text x="549.1" y="806" font-size="34" text-anchor="middle" fill="#111111" font-weight="normal">9</text>
<text x="124.8" y="488" font-size="34" text-anchor="start" fill="#111111" font-weight="normal" textLength="139" lengthAdjust="spacingAndGlyphs">RBD−IgM</text>
<text x="23" y="609" font-size="33" text-anchor="middle" fill="#231815" font-weight="normal" textLength="236" lengthAdjust="spacingAndGlyphs" transform="rotate(-90 23 609)">Expression level</text>
<text x="62" y="605" font-size="32" text-anchor="middle" fill="#231815" font-weight="normal" textLength="119" lengthAdjust="spacingAndGlyphs" transform="rotate(-90 62 605)">(AU/mL)</text>
<text x="277" y="837.3" font-size="32.5" text-anchor="start" fill="#111111" font-weight="normal" textLength="192" lengthAdjust="spacingAndGlyphs">Time (weeks)</text>
<line x1="294" y1="462.3" x2="299.5" y2="462.3" stroke="#F9A85C" stroke-width="1.5" stroke-linecap="round"/><line x1="294" y1="462.3" x2="295.7" y2="467.5" stroke="#F9A85C" stroke-width="1.5" stroke-linecap="round"/><line x1="294" y1="462.3" x2="289.6" y2="465.5" stroke="#F9A85C" stroke-width="1.5" stroke-linecap="round"/><line x1="294" y1="462.3" x2="289.6" y2="459.1" stroke="#F9A85C" stroke-width="1.5" stroke-linecap="round"/><line x1="294" y1="462.3" x2="295.7" y2="457.1" stroke="#F9A85C" stroke-width="1.5" stroke-linecap="round"/>
<line x1="294" y1="479.6" x2="299.5" y2="479.6" stroke="#111" stroke-width="1.5" stroke-linecap="round"/><line x1="294" y1="479.6" x2="295.7" y2="484.8" stroke="#111" stroke-width="1.5" stroke-linecap="round"/><line x1="294" y1="479.6" x2="289.6" y2="482.8" stroke="#111" stroke-width="1.5" stroke-linecap="round"/><line x1="294" y1="479.6" x2="289.6" y2="476.4" stroke="#111" stroke-width="1.5" stroke-linecap="round"/><line x1="294" y1="479.6" x2="295.7" y2="474.4" stroke="#111" stroke-width="1.5" stroke-linecap="round"/>
<line x1="139.2" y1="1156.9" x2="139.2" y2="1159.4" stroke="#333333" stroke-width="2.6"/><line x1="139.2" y1="1172.7" x2="139.2" y2="1178.5" stroke="#333333" stroke-width="2.6"/><rect x="131" y="1159.4" width="16.4" height="13.3" fill="#F9B05C" stroke="#333333" stroke-width="2.8"/><line x1="131" y1="1164.1" x2="147.4" y2="1164.1" stroke="#333333" stroke-width="4.5"/><line x1="158.2" y1="1165.9" x2="158.2" y2="1174.9" stroke="#333333" stroke-width="2.6"/><rect x="150.2" y="1131.7" width="15.9" height="34.2" fill="#BE7EC1" stroke="#333333" stroke-width="2.8"/><line x1="150.2" y1="1152.9" x2="166.1" y2="1152.9" stroke="#333333" stroke-width="4.5"/><line x1="190.1" y1="1064" x2="190.1" y2="1120.5" stroke="#333333" stroke-width="2.6"/><line x1="190.1" y1="1167.3" x2="190.1" y2="1174.9" stroke="#333333" stroke-width="2.6"/><rect x="182.2" y="1120.5" width="15.7" height="46.8" fill="#F9B05C" stroke="#333333" stroke-width="2.8"/><line x1="182.2" y1="1154" x2="197.9" y2="1154" stroke="#333333" stroke-width="4.5"/><line x1="208.8" y1="1012.8" x2="208.8" y2="1094.9" stroke="#333333" stroke-width="2.6"/><line x1="208.8" y1="1163.4" x2="208.8" y2="1176.7" stroke="#333333" stroke-width="2.6"/><rect x="200.7" y="1094.9" width="16.2" height="68.4" fill="#BE7EC1" stroke="#333333" stroke-width="2.8"/><line x1="200.7" y1="1142.8" x2="216.9" y2="1142.8" stroke="#333333" stroke-width="4.5"/><line x1="240.3" y1="1061.4" x2="240.3" y2="1111.5" stroke="#333333" stroke-width="2.6"/><line x1="240.3" y1="1163" x2="240.3" y2="1174.9" stroke="#333333" stroke-width="2.6"/><rect x="233" y="1111.5" width="14.6" height="51.5" fill="#F9B05C" stroke="#333333" stroke-width="2.8"/><line x1="233" y1="1148.2" x2="247.6" y2="1148.2" stroke="#333333" stroke-width="4.5"/><line x1="259.5" y1="939" x2="259.5" y2="1053.9" stroke="#333333" stroke-width="2.6"/><line x1="259.5" y1="1163" x2="259.5" y2="1174.9" stroke="#333333" stroke-width="2.6"/><rect x="250.4" y="1053.9" width="18.2" height="109.1" fill="#BE7EC1" stroke="#333333" stroke-width="2.8"/><line x1="250.4" y1="1147.2" x2="268.6" y2="1147.2" stroke="#333333" stroke-width="4.5"/><line x1="291.1" y1="1085.9" x2="291.1" y2="1102.1" stroke="#333333" stroke-width="2.6"/><line x1="291.1" y1="1161.9" x2="291.1" y2="1173.1" stroke="#333333" stroke-width="2.6"/><rect x="283.4" y="1102.1" width="15.5" height="59.8" fill="#F9B05C" stroke="#333333" stroke-width="2.8"/><line x1="283.4" y1="1155.8" x2="298.9" y2="1155.8" stroke="#333333" stroke-width="4.5"/><line x1="310.5" y1="1075.5" x2="310.5" y2="1097.8" stroke="#333333" stroke-width="2.6"/><line x1="310.5" y1="1161.9" x2="310.5" y2="1171.3" stroke="#333333" stroke-width="2.6"/><rect x="301.7" y="1097.8" width="17.6" height="64.1" fill="#BE7EC1" stroke="#333333" stroke-width="2.8"/><line x1="301.7" y1="1145.4" x2="319.3" y2="1145.4" stroke="#333333" stroke-width="4.5"/><line x1="343.4" y1="1063.2" x2="343.4" y2="1102.1" stroke="#333333" stroke-width="2.6"/><line x1="343.4" y1="1159.4" x2="343.4" y2="1171.3" stroke="#333333" stroke-width="2.6"/><rect x="335.3" y="1102.1" width="16.3" height="57.3" fill="#F9B05C" stroke="#333333" stroke-width="2.8"/><line x1="335.3" y1="1125.6" x2="351.6" y2="1125.6" stroke="#333333" stroke-width="4.5"/><line x1="362.4" y1="1138.9" x2="362.4" y2="1141" stroke="#333333" stroke-width="2.6"/><line x1="362.4" y1="1165.5" x2="362.4" y2="1174.9" stroke="#333333" stroke-width="2.6"/><rect x="354.4" y="1141" width="16.1" height="24.5" fill="#BE7EC1" stroke="#333333" stroke-width="2.8"/><line x1="354.4" y1="1158.7" x2="370.5" y2="1158.7" stroke="#333333" stroke-width="4.5"/><line x1="394.3" y1="1138.9" x2="394.3" y2="1140" stroke="#333333" stroke-width="2.6"/><line x1="394.3" y1="1160.1" x2="394.3" y2="1171.3" stroke="#333333" stroke-width="2.6"/><rect x="385.8" y="1140" width="17" height="20.2" fill="#F9B05C" stroke="#333333" stroke-width="2.8"/><line x1="385.8" y1="1150.4" x2="402.8" y2="1150.4" stroke="#333333" stroke-width="4.5"/><line x1="413.9" y1="1142.5" x2="413.9" y2="1143.2" stroke="#333333" stroke-width="2.6"/><line x1="413.9" y1="1168.4" x2="413.9" y2="1174.9" stroke="#333333" stroke-width="2.6"/><rect x="405.6" y="1143.2" width="16.6" height="25.2" fill="#BE7EC1" stroke="#333333" stroke-width="2.8"/><line x1="405.6" y1="1153.6" x2="422.2" y2="1153.6" stroke="#333333" stroke-width="4.5"/><line x1="445.4" y1="1123.4" x2="445.4" y2="1138.9" stroke="#333333" stroke-width="2.6"/><line x1="445.4" y1="1164.8" x2="445.4" y2="1174.9" stroke="#333333" stroke-width="2.6"/><rect x="436.9" y="1138.9" width="17.1" height="25.9" fill="#F9B05C" stroke="#333333" stroke-width="2.8"/><line x1="436.9" y1="1153.6" x2="454" y2="1153.6" stroke="#333333" stroke-width="4.5"/><line x1="464.8" y1="1102.9" x2="464.8" y2="1104.7" stroke="#333333" stroke-width="2.6"/><line x1="464.8" y1="1155.8" x2="464.8" y2="1168.4" stroke="#333333" stroke-width="2.6"/><rect x="456.8" y="1104.7" width="16" height="51.1" fill="#BE7EC1" stroke="#333333" stroke-width="2.8"/><line x1="456.8" y1="1153.6" x2="472.8" y2="1153.6" stroke="#333333" stroke-width="4.5"/><line x1="496.6" y1="1160.5" x2="496.6" y2="1171.3" stroke="#333333" stroke-width="2.6"/><rect x="488.1" y="1146.1" width="17" height="14.4" fill="#F9B05C" stroke="#333333" stroke-width="2.8"/><line x1="488.1" y1="1149.7" x2="505.1" y2="1149.7" stroke="#333333" stroke-width="4.5"/><line x1="515.9" y1="1149.7" x2="515.9" y2="1152.6" stroke="#333333" stroke-width="2.6"/><line x1="515.9" y1="1164.1" x2="515.9" y2="1171.3" stroke="#333333" stroke-width="2.6"/><rect x="507.9" y="1152.6" width="16" height="11.5" fill="#BE7EC1" stroke="#333333" stroke-width="2.8"/><line x1="507.9" y1="1158.7" x2="523.9" y2="1158.7" stroke="#333333" stroke-width="4.5"/><line x1="548.1" y1="1128.8" x2="548.1" y2="1149" stroke="#333333" stroke-width="2.6"/><line x1="548.1" y1="1166.6" x2="548.1" y2="1171.3" stroke="#333333" stroke-width="2.6"/><rect x="539.9" y="1149" width="16.4" height="17.6" fill="#BE7EC1" stroke="#333333" stroke-width="2.8"/><line x1="539.9" y1="1159" x2="556.3" y2="1159" stroke="#333333" stroke-width="4.5"/>
<g fill="#111"><circle cx="311.3" cy="996" r="2.3"/><circle cx="392.3" cy="1045" r="2.3"/><circle cx="392.3" cy="1072.2" r="2.3"/><circle cx="412.6" cy="1058.7" r="2.3"/><circle cx="414" cy="1096" r="2.3"/><circle cx="495" cy="1078.5" r="2.3"/><circle cx="495" cy="1109.4" r="2.3"/><circle cx="550.4" cy="1123" r="2.3"/><circle cx="139.9" cy="1095" r="2.3"/><circle cx="155.2" cy="1074.5" r="2.3"/><circle cx="138" cy="1140.6" r="2.3"/><circle cx="139.6" cy="1173.7" r="2.1"/><circle cx="140.2" cy="1171" r="2.1"/><circle cx="134.9" cy="1164.4" r="2.1"/><circle cx="142.6" cy="1172.6" r="2.1"/><circle cx="136.5" cy="1169.3" r="2.1"/><circle cx="157.9" cy="1131.9" r="2.1"/><circle cx="157.9" cy="1138.7" r="2.1"/><circle cx="154.7" cy="1144" r="2.1"/><circle cx="161.8" cy="1144.2" r="2.1"/><circle cx="160.6" cy="1148" r="2.1"/><circle cx="185.7" cy="1119.4" r="2.1"/><circle cx="191" cy="1112.2" r="2.1"/><circle cx="185.4" cy="1153.2" r="2.1"/><circle cx="189.8" cy="1126.8" r="2.1"/><circle cx="193.8" cy="1133.7" r="2.1"/><circle cx="213" cy="1089" r="2.1"/><circle cx="211.8" cy="1128.2" r="2.1"/><circle cx="213.2" cy="1132.9" r="2.1"/><circle cx="204.8" cy="1103.2" r="2.1"/><circle cx="206" cy="1154.1" r="2.1"/><circle cx="239.7" cy="1089.5" r="2.1"/><circle cx="238.3" cy="1119.5" r="2.1"/><circle cx="239.2" cy="1136.9" r="2.1"/><circle cx="241.2" cy="1144.9" r="2.1"/><circle cx="244.3" cy="1132.9" r="2.1"/><circle cx="263.8" cy="1053.2" r="2.1"/><circle cx="264.4" cy="1022" r="2.1"/><circle cx="256.1" cy="1089.7" r="2.1"/><circle cx="264.1" cy="1069.1" r="2.1"/><circle cx="260.2" cy="1064.3" r="2.1"/><circle cx="288.3" cy="1116.7" r="2.1"/><circle cx="291.9" cy="1107.3" r="2.1"/><circle cx="286.8" cy="1144.9" r="2.1"/><circle cx="296" cy="1110.9" r="2.1"/><circle cx="294.2" cy="1156.6" r="2.1"/><circle cx="307" cy="1136.6" r="2.1"/><circle cx="313.2" cy="1146.4" r="2.1"/><circle cx="305.9" cy="1106" r="2.1"/><circle cx="305.9" cy="1122.5" r="2.1"/><circle cx="308.8" cy="1115.9" r="2.1"/><circle cx="348.3" cy="1093.2" r="2.1"/><circle cx="348.4" cy="1126.5" r="2.1"/><circle cx="339.2" cy="1141.7" r="2.1"/><circle cx="338.8" cy="1125.1" r="2.1"/><circle cx="342.5" cy="1148.1" r="2.1"/><circle cx="359" cy="1153.6" r="2.1"/><circle cx="366.1" cy="1173.4" r="2.1"/><circle cx="367" cy="1157.8" r="2.1"/><circle cx="361.2" cy="1143.6" r="2.1"/><circle cx="362.7" cy="1154.3" r="2.1"/><circle cx="395.3" cy="1150.8" r="2.1"/><circle cx="395.5" cy="1153.5" r="2.1"/><circle cx="394.4" cy="1141.2" r="2.1"/><circle cx="396.5" cy="1151.4" r="2.1"/><circle cx="392.3" cy="1155.3" r="2.1"/><circle cx="414.1" cy="1143.6" r="2.1"/><circle cx="409" cy="1157.3" r="2.1"/><circle cx="414.7" cy="1157.9" r="2.1"/><circle cx="415.1" cy="1167.9" r="2.1"/><circle cx="409.5" cy="1152.5" r="2.1"/><circle cx="445.1" cy="1147.4" r="2.1"/><circle cx="444" cy="1145.2" r="2.1"/><circle cx="447.8" cy="1146.5" r="2.1"/><circle cx="441.1" cy="1164.2" r="2.1"/><circle cx="450.1" cy="1147.3" r="2.1"/><circle cx="464.4" cy="1152.2" r="2.1"/><circle cx="463" cy="1130.1" r="2.1"/><circle cx="462.9" cy="1137.2" r="2.1"/><circle cx="465.8" cy="1136.9" r="2.1"/><circle cx="463.6" cy="1140.4" r="2.1"/><circle cx="491.9" cy="1151.8" r="2.1"/><circle cx="499" cy="1156.9" r="2.1"/><circle cx="493.8" cy="1156" r="2.1"/><circle cx="494" cy="1148.9" r="2.1"/><circle cx="496" cy="1157.8" r="2.1"/><circle cx="511.9" cy="1157.2" r="2.1"/><circle cx="514.2" cy="1164.8" r="2.1"/><circle cx="515.3" cy="1154.5" r="2.1"/><circle cx="512.6" cy="1154.2" r="2.1"/><circle cx="517.4" cy="1160.2" r="2.1"/><circle cx="547.6" cy="1142.6" r="2.1"/><circle cx="544.3" cy="1164" r="2.1"/><circle cx="545" cy="1157.3" r="2.1"/><circle cx="551.5" cy="1152.4" r="2.1"/><circle cx="545.9" cy="1163.4" r="2.1"/></g>
<path d="M138 1136 C148 1134.7 179.7 1130.7 198 1128 C216.3 1125.3 231 1121.7 248 1120 C265 1118.3 283 1118.3 300 1118 C317 1117.7 333.3 1117.3 350 1118 C366.7 1118.7 383.3 1121 400 1122 C416.7 1123 433.8 1123.5 450 1124 C466.2 1124.5 489.2 1124.8 497 1125 L497 1161 C489.2 1160 466.2 1157.2 450 1155 C433.8 1152.8 416.7 1150.5 400 1148 C383.3 1145.5 366.7 1141 350 1140 C333.3 1139 317 1141.2 300 1142 C283 1142.8 265 1142.7 248 1145 C231 1147.3 216.3 1151.3 198 1156 C179.7 1160.7 148 1170.2 138 1173Z" fill="#F8A75A" fill-opacity="0.36"/>
<path d="M165 1117 C170.8 1115.5 186.2 1111 200 1108 C213.8 1105 231.3 1100.7 248 1099 C264.7 1097.3 283 1095.3 300 1098 C317 1100.7 333.3 1111 350 1115 C366.7 1119 383.3 1120.2 400 1122 C416.7 1123.8 433.3 1124.7 450 1126 C466.7 1127.3 483.7 1129 500 1130 C516.3 1131 540 1131.7 548 1132 L548 1181 C540 1179.2 516.3 1172.7 500 1170 C483.7 1167.3 466.7 1166.2 450 1165 C433.3 1163.8 416.7 1163.8 400 1163 C383.3 1162.2 366.7 1163.5 350 1160 C333.3 1156.5 317 1146 300 1142 C283 1138 264.7 1134.7 248 1136 C231.3 1137.3 213.8 1143.8 200 1150 C186.2 1156.2 170.8 1169.2 165 1173Z" fill="#B878C5" fill-opacity="0.36"/>
<path d="M138 1156 C144 1154.7 187 1145.4 198 1143 C209 1140.6 237.8 1133.4 248 1132 C258.2 1130.6 289.8 1129.4 300 1129 C310.2 1128.6 340 1127.4 350 1128 C360 1128.6 390 1133.8 400 1135 C410 1136.2 440.3 1138.8 450 1140 C459.7 1141.2 492.3 1146.3 497 1147" fill="none" stroke="#F8A75A" stroke-width="3.2" stroke-linecap="round"/>
<path d="M165 1146 C170.5 1143.6 210.3 1125.3 220 1122 C229.7 1118.7 254 1113.3 262 1113 C270 1112.7 290.2 1116 300 1119 C309.8 1122 345 1140.2 360 1143 C375 1145.8 431.2 1145.7 450 1147 C468.8 1148.3 538.2 1155.1 548 1156" fill="none" stroke="#B878C5" stroke-width="3.2" stroke-linecap="round"/>
<path d="M117 924.6 V1199 H580" fill="none" stroke="#000" stroke-width="3"/>
<line x1="112" y1="1178.5" x2="117" y2="1178.5" stroke="#333" stroke-width="2"/>
<text x="110" y="1187.1" font-size="34" text-anchor="end" fill="#111111" font-weight="normal">0</text>
<line x1="112" y1="1106.5" x2="117" y2="1106.5" stroke="#333" stroke-width="2"/>
<text x="110" y="1115.1" font-size="34" text-anchor="end" fill="#111111" font-weight="normal">2</text>
<line x1="112" y1="1034.4" x2="117" y2="1034.4" stroke="#333" stroke-width="2"/>
<text x="110" y="1043" font-size="34" text-anchor="end" fill="#111111" font-weight="normal">4</text>
<line x1="112" y1="962.4" x2="117" y2="962.4" stroke="#333" stroke-width="2"/>
<text x="110" y="971" font-size="34" text-anchor="end" fill="#111111" font-weight="normal">6</text>
<line x1="147" y1="1199" x2="147" y2="1204" stroke="#333" stroke-width="2"/>
<text x="148.5" y="1229.5" font-size="34" text-anchor="middle" fill="#111111" font-weight="normal">1</text>
<line x1="197.8" y1="1199" x2="197.8" y2="1204" stroke="#333" stroke-width="2"/>
<text x="199.2" y="1229.5" font-size="34" text-anchor="middle" fill="#111111" font-weight="normal">2</text>
<line x1="248.5" y1="1199" x2="248.5" y2="1204" stroke="#333" stroke-width="2"/>
<text x="250" y="1229.5" font-size="34" text-anchor="middle" fill="#111111" font-weight="normal">3</text>
<line x1="299.2" y1="1199" x2="299.2" y2="1204" stroke="#333" stroke-width="2"/>
<text x="300.8" y="1229.5" font-size="34" text-anchor="middle" fill="#111111" font-weight="normal">4</text>
<line x1="350" y1="1199" x2="350" y2="1204" stroke="#333" stroke-width="2"/>
<text x="351.5" y="1229.5" font-size="34" text-anchor="middle" fill="#111111" font-weight="normal">5</text>
<line x1="400.8" y1="1199" x2="400.8" y2="1204" stroke="#333" stroke-width="2"/>
<text x="402.2" y="1229.5" font-size="34" text-anchor="middle" fill="#111111" font-weight="normal">6</text>
<line x1="451.5" y1="1199" x2="451.5" y2="1204" stroke="#333" stroke-width="2"/>
<text x="453" y="1229.5" font-size="34" text-anchor="middle" fill="#111111" font-weight="normal">7</text>
<line x1="502.2" y1="1199" x2="502.2" y2="1204" stroke="#333" stroke-width="2"/>
<text x="503.8" y="1229.5" font-size="34" text-anchor="middle" fill="#111111" font-weight="normal">8</text>
<line x1="553" y1="1199" x2="553" y2="1204" stroke="#333" stroke-width="2"/>
<text x="554.5" y="1229.5" font-size="34" text-anchor="middle" fill="#111111" font-weight="normal">9</text>
<text x="142.7" y="913.4" font-size="34" text-anchor="start" fill="#111111" font-weight="normal" textLength="95.2" lengthAdjust="spacingAndGlyphs">N−IgM</text>
<text x="23" y="1054" font-size="33" text-anchor="middle" fill="#231815" font-weight="normal" textLength="235" lengthAdjust="spacingAndGlyphs" transform="rotate(-90 23 1054)">Expression level</text>
<text x="62" y="1054" font-size="32" text-anchor="middle" fill="#231815" font-weight="normal" textLength="117" lengthAdjust="spacingAndGlyphs" transform="rotate(-90 62 1054)">(AU/mL)</text>
<text x="275" y="1255.3" font-size="32.5" text-anchor="start" fill="#111111" font-weight="normal" textLength="194" lengthAdjust="spacingAndGlyphs">Time (weeks)</text>
<line x1="271.7" y1="900.7" x2="277.2" y2="900.7" stroke="#B87BC4" stroke-width="1.5" stroke-linecap="round"/><line x1="271.7" y1="900.7" x2="273.4" y2="905.9" stroke="#B87BC4" stroke-width="1.5" stroke-linecap="round"/><line x1="271.7" y1="900.7" x2="267.3" y2="903.9" stroke="#B87BC4" stroke-width="1.5" stroke-linecap="round"/><line x1="271.7" y1="900.7" x2="267.3" y2="897.5" stroke="#B87BC4" stroke-width="1.5" stroke-linecap="round"/><line x1="271.7" y1="900.7" x2="273.4" y2="895.5" stroke="#B87BC4" stroke-width="1.5" stroke-linecap="round"/>
<line x1="750" y1="290.7" x2="750" y2="302.3" stroke="#333333" stroke-width="2.6"/><rect x="742.8" y="302.3" width="14.5" height="61.5" fill="#F9B05C" stroke="#333333" stroke-width="2.8"/><line x1="742.8" y1="361.4" x2="757.3" y2="361.4" stroke="#333333" stroke-width="4.5"/><line x1="766.8" y1="124.8" x2="766.8" y2="156.1" stroke="#333333" stroke-width="2.6"/><line x1="766.8" y1="333" x2="766.8" y2="362.6" stroke="#333333" stroke-width="2.6"/><rect x="760.1" y="156.1" width="13.3" height="176.9" fill="#BE7EC1" stroke="#333333" stroke-width="2.8"/><line x1="760.1" y1="282.5" x2="773.4" y2="282.5" stroke="#333333" stroke-width="4.5"/><line x1="796.1" y1="124.8" x2="796.1" y2="195.9" stroke="#333333" stroke-width="2.6"/><line x1="796.1" y1="328" x2="796.1" y2="359.1" stroke="#333333" stroke-width="2.6"/><rect x="789.7" y="195.9" width="12.9" height="132.1" fill="#F9B05C" stroke="#333333" stroke-width="2.8"/><line x1="789.7" y1="225.7" x2="802.6" y2="225.7" stroke="#333333" stroke-width="4.5"/><line x1="812.9" y1="348.9" x2="812.9" y2="361.4" stroke="#333333" stroke-width="2.6"/><rect x="805.4" y="127.1" width="14.9" height="221.8" fill="#BE7EC1" stroke="#333333" stroke-width="2.8"/><line x1="805.4" y1="194.4" x2="820.3" y2="194.4" stroke="#333333" stroke-width="4.5"/><line x1="843.3" y1="276.2" x2="843.3" y2="335.9" stroke="#333333" stroke-width="2.6"/><rect x="836.7" y="127.1" width="13.3" height="149.1" fill="#F9B05C" stroke="#333333" stroke-width="2.8"/><line x1="836.7" y1="134.1" x2="850" y2="134.1" stroke="#333333" stroke-width="4.5"/><line x1="860.3" y1="287.8" x2="860.3" y2="335.9" stroke="#333333" stroke-width="2.6"/><rect x="852.8" y="127.1" width="15.1" height="160.7" fill="#BE7EC1" stroke="#333333" stroke-width="2.8"/><line x1="852.8" y1="183.4" x2="867.9" y2="183.4" stroke="#333333" stroke-width="4.5"/><line x1="891" y1="172.8" x2="891" y2="194.4" stroke="#333333" stroke-width="2.6"/><rect x="884.7" y="127.1" width="12.7" height="45.7" fill="#F9B05C" stroke="#333333" stroke-width="2.8"/><line x1="884.7" y1="127.1" x2="897.4" y2="127.1" stroke="#333333" stroke-width="4.5"/><line x1="907.6" y1="214.8" x2="907.6" y2="318.5" stroke="#333333" stroke-width="2.6"/><rect x="900.2" y="127.1" width="14.9" height="87.7" fill="#BE7EC1" stroke="#333333" stroke-width="2.8"/><line x1="900.2" y1="127.1" x2="915.1" y2="127.1" stroke="#333333" stroke-width="4.5"/><line x1="939.5" y1="190.9" x2="939.5" y2="284.9" stroke="#333333" stroke-width="2.6"/><rect x="931.9" y="127.1" width="15.2" height="63.8" fill="#F9B05C" stroke="#333333" stroke-width="2.8"/><line x1="931.9" y1="127.1" x2="947.1" y2="127.1" stroke="#333333" stroke-width="4.5"/><line x1="956" y1="174.7" x2="956" y2="200.2" stroke="#333333" stroke-width="2.6"/><rect x="949.9" y="127.1" width="12.3" height="47.6" fill="#BE7EC1" stroke="#333333" stroke-width="2.8"/><line x1="949.9" y1="127.1" x2="962.2" y2="127.1" stroke="#333333" stroke-width="4.5"/><line x1="986.2" y1="296.5" x2="986.2" y2="316.2" stroke="#333333" stroke-width="2.6"/><rect x="979" y="127.1" width="14.4" height="169.4" fill="#F9B05C" stroke="#333333" stroke-width="2.8"/><line x1="979" y1="143.3" x2="993.4" y2="143.3" stroke="#333333" stroke-width="4.5"/><line x1="1002.7" y1="194.4" x2="1002.7" y2="290.7" stroke="#333333" stroke-width="2.6"/><rect x="996.2" y="127.1" width="13" height="67.3" fill="#BE7EC1" stroke="#333333" stroke-width="2.8"/><line x1="996.2" y1="127.1" x2="1009.2" y2="127.1" stroke="#333333" stroke-width="4.5"/><line x1="1033.8" y1="219.2" x2="1033.8" y2="291.8" stroke="#333333" stroke-width="2.6"/><rect x="1026" y="127.1" width="15.6" height="92.1" fill="#F9B05C" stroke="#333333" stroke-width="2.8"/><line x1="1026" y1="167.7" x2="1041.6" y2="167.7" stroke="#333333" stroke-width="4.5"/><line x1="1043" y1="127.1" x2="1057.4" y2="127.1" stroke="#333333" stroke-width="5"/><rect x="1073.9" y="127.1" width="12.3" height="46.9" fill="#F9B05C" stroke="#333333" stroke-width="2.8"/><line x1="1073.9" y1="127.1" x2="1086.2" y2="127.1" stroke="#333333" stroke-width="4.5"/><line x1="1096.5" y1="214.1" x2="1096.5" y2="303.4" stroke="#333333" stroke-width="2.6"/><rect x="1089" y="127.1" width="15.1" height="87" fill="#BE7EC1" stroke="#333333" stroke-width="2.8"/><line x1="1089" y1="127.1" x2="1104.1" y2="127.1" stroke="#333333" stroke-width="4.5"/><line x1="1119" y1="127.1" x2="1137" y2="127.1" stroke="#333333" stroke-width="5"/>
<g fill="#111"><circle cx="750.7" cy="136.4" r="2.3"/><circle cx="751.8" cy="168.7" r="2.3"/><circle cx="892.4" cy="280.6" r="2.3"/><circle cx="892.4" cy="315.2" r="2.3"/><circle cx="940.9" cy="308.7" r="2.3"/><circle cx="957" cy="298.3" r="2.3"/><circle cx="999.8" cy="317.3" r="2.3"/><circle cx="1079" cy="316.9" r="2.3"/><circle cx="1082.6" cy="302.7" r="2.3"/><circle cx="1128.6" cy="178.8" r="2.3"/><circle cx="766" cy="123" r="2.3"/><circle cx="797" cy="123" r="2.3"/><circle cx="797" cy="147" r="2.3"/><circle cx="746.1" cy="347.9" r="2.1"/><circle cx="746.6" cy="337.1" r="2.1"/><circle cx="749.1" cy="359.7" r="2.1"/><circle cx="753.1" cy="307.3" r="2.1"/><circle cx="747.3" cy="316.7" r="2.1"/><circle cx="764.5" cy="243.4" r="2.1"/><circle cx="762.8" cy="324.2" r="2.1"/><circle cx="771" cy="295.1" r="2.1"/><circle cx="769.8" cy="186.4" r="2.1"/><circle cx="763.7" cy="191.4" r="2.1"/><circle cx="797.4" cy="297.5" r="2.1"/><circle cx="799.7" cy="213.6" r="2.1"/><circle cx="792" cy="211.7" r="2.1"/><circle cx="797.9" cy="248" r="2.1"/><circle cx="792.9" cy="261.2" r="2.1"/><circle cx="808.7" cy="250.4" r="2.1"/><circle cx="816.5" cy="142.4" r="2.1"/><circle cx="810.9" cy="227.4" r="2.1"/><circle cx="813.6" cy="147.3" r="2.1"/><circle cx="816.3" cy="153.2" r="2.1"/><circle cx="808" cy="127.1" r="2.6"/><circle cx="811.2" cy="127.1" r="2.6"/><circle cx="814.5" cy="127.1" r="2.6"/><circle cx="817.7" cy="127.1" r="2.6"/><circle cx="842.5" cy="229.8" r="2.1"/><circle cx="842.7" cy="210.8" r="2.1"/><circle cx="841.4" cy="252.1" r="2.1"/><circle cx="838.8" cy="155" r="2.1"/><circle cx="844.6" cy="269.3" r="2.1"/><circle cx="839.3" cy="127.1" r="2.6"/><circle cx="842" cy="127.1" r="2.6"/><circle cx="844.7" cy="127.1" r="2.6"/><circle cx="847.4" cy="127.1" r="2.6"/><circle cx="860.7" cy="277.3" r="2.1"/><circle cx="858.8" cy="237.5" r="2.1"/><circle cx="857.3" cy="127.5" r="2.1"/><circle cx="857.4" cy="221.4" r="2.1"/><circle cx="858.1" cy="186.1" r="2.1"/><circle cx="855.4" cy="127.1" r="2.6"/><circle cx="858.7" cy="127.1" r="2.6"/><circle cx="862" cy="127.1" r="2.6"/><circle cx="865.3" cy="127.1" r="2.6"/><circle cx="893.5" cy="170.4" r="2.1"/><circle cx="891.6" cy="172.8" r="2.1"/><circle cx="887.1" cy="131.5" r="2.1"/><circle cx="888.3" cy="170" r="2.1"/><circle cx="892.2" cy="137.8" r="2.1"/><circle cx="887.3" cy="127.1" r="2.6"/><circle cx="889.8" cy="127.1" r="2.6"/><circle cx="892.3" cy="127.1" r="2.6"/><circle cx="894.8" cy="127.1" r="2.6"/><circle cx="906" cy="273.1" r="2.1"/><circle cx="907.2" cy="284.5" r="2.1"/><circle cx="909.6" cy="211" r="2.1"/><circle cx="912.2" cy="136.2" r="2.1"/><circle cx="912.2" cy="150.4" r="2.1"/><circle cx="902.8" cy="127.1" r="2.6"/><circle cx="906" cy="127.1" r="2.6"/><circle cx="909.3" cy="127.1" r="2.6"/><circle cx="912.5" cy="127.1" r="2.6"/><circle cx="937.4" cy="282" r="2.1"/><circle cx="942.3" cy="132.5" r="2.1"/><circle cx="943.9" cy="164.7" r="2.1"/><circle cx="942.7" cy="151.3" r="2.1"/><circle cx="936.4" cy="172.2" r="2.1"/><circle cx="934.5" cy="127.1" r="2.6"/><circle cx="937.8" cy="127.1" r="2.6"/><circle cx="941.2" cy="127.1" r="2.6"/><circle cx="944.5" cy="127.1" r="2.6"/><circle cx="952.4" cy="167.7" r="2.1"/><circle cx="960.7" cy="172.3" r="2.1"/><circle cx="951.1" cy="158.9" r="2.1"/><circle cx="952.7" cy="172.5" r="2.1"/><circle cx="954.7" cy="137.4" r="2.1"/><circle cx="952.5" cy="127.1" r="2.6"/><circle cx="954.9" cy="127.1" r="2.6"/><circle cx="957.2" cy="127.1" r="2.6"/><circle cx="959.6" cy="127.1" r="2.6"/><circle cx="982.2" cy="261.3" r="2.1"/><circle cx="985.4" cy="130.6" r="2.1"/><circle cx="981.8" cy="261.2" r="2.1"/><circle cx="982.9" cy="287.1" r="2.1"/><circle cx="982.7" cy="181.8" r="2.1"/><circle cx="981.6" cy="127.1" r="2.6"/><circle cx="984.7" cy="127.1" r="2.6"/><circle cx="987.7" cy="127.1" r="2.6"/><circle cx="990.8" cy="127.1" r="2.6"/><circle cx="1002.6" cy="284" r="2.1"/><circle cx="1007.7" cy="249.9" r="2.1"/><circle cx="1003" cy="186.2" r="2.1"/><circle cx="1001.8" cy="142.3" r="2.1"/><circle cx="1002.5" cy="127.9" r="2.1"/><circle cx="998.8" cy="127.1" r="2.6"/><circle cx="1001.4" cy="127.1" r="2.6"/><circle cx="1004" cy="127.1" r="2.6"/><circle cx="1006.6" cy="127.1" r="2.6"/><circle cx="1032.9" cy="252" r="2.1"/><circle cx="1033" cy="285.7" r="2.1"/><circle cx="1037.7" cy="196.3" r="2.1"/><circle cx="1033.8" cy="142.7" r="2.1"/><circle cx="1031.3" cy="216.3" r="2.1"/><circle cx="1028.6" cy="127.1" r="2.6"/><circle cx="1032.1" cy="127.1" r="2.6"/><circle cx="1035.5" cy="127.1" r="2.6"/><circle cx="1039" cy="127.1" r="2.6"/><circle cx="1077.1" cy="162.6" r="2.1"/><circle cx="1083.7" cy="163.1" r="2.1"/><circle cx="1075.6" cy="167.3" r="2.1"/><circle cx="1080.7" cy="130.5" r="2.1"/><circle cx="1079.1" cy="127.5" r="2.1"/><circle cx="1076.5" cy="127.1" r="2.6"/><circle cx="1078.9" cy="127.1" r="2.6"/><circle cx="1081.2" cy="127.1" r="2.6"/><circle cx="1083.6" cy="127.1" r="2.6"/><circle cx="1098.1" cy="144.6" r="2.1"/><circle cx="1099" cy="164" r="2.1"/><circle cx="1092.5" cy="171.1" r="2.1"/><circle cx="1100.3" cy="195.7" r="2.1"/><circle cx="1100.8" cy="135.8" r="2.1"/><circle cx="1091.6" cy="127.1" r="2.6"/><circle cx="1094.9" cy="127.1" r="2.6"/><circle cx="1098.2" cy="127.1" r="2.6"/><circle cx="1101.5" cy="127.1" r="2.6"/></g>
<path d="M751 265 C759 258.5 785.8 238.7 799 226 C812.2 213.3 819.5 200 830 189 C840.5 178 851.3 167.7 862 160 C872.7 152.3 880.8 145.5 894 143 C907.2 140.5 925.3 142.2 941 145 C956.7 147.8 972.2 155.5 988 160 C1003.8 164.5 1020.5 168.5 1036 172 C1051.5 175.5 1073.5 179.5 1081 181 L1081 221 C1073.5 219.7 1051.5 215.3 1036 213 C1020.5 210.7 1003.8 208.7 988 207 C972.2 205.3 956.7 202.5 941 203 C925.3 203.5 907.2 204.7 894 210 C880.8 215.3 872.7 226.3 862 235 C851.3 243.7 840.5 251.7 830 262 C819.5 272.3 812.2 284.2 799 297 C785.8 309.8 759 332 751 339Z" fill="#F8A75A" fill-opacity="0.36"/>
<path d="M774 205 C778.2 205 787 207.5 799 205 C811 202.5 830.8 196.2 846 190 C861.2 183.8 876.8 177 890 168 C903.2 159 912 142.2 925 136 C938 129.8 953.7 132.7 968 131 C982.3 129.3 992 128.2 1011 126 C1030 123.8 1062.5 121.7 1082 118 C1101.5 114.3 1120.3 106.3 1128 104 L1128 189 C1120.3 185.8 1101.5 172.2 1082 170 C1062.5 167.8 1030 173.5 1011 176 C992 178.5 982.3 181.5 968 185 C953.7 188.5 938 191.8 925 197 C912 202.2 903.2 208.8 890 216 C876.8 223.2 861.2 230.2 846 240 C830.8 249.8 811 264.5 799 275 C787 285.5 778.2 298.3 774 303Z" fill="#B878C5" fill-opacity="0.36"/>
<path d="M751 304 C753.7 299.8 773 269.8 778 262 C783 254.2 796 232.8 801 226 C806 219.2 820.6 199.9 828 194 C835.4 188.1 866.6 169.1 875 167 C883.4 164.9 902.7 171.8 912 173 C921.3 174.2 955.9 178.2 968 179 C980.1 179.8 1021.6 181.6 1033 181 C1044.4 180.4 1077.1 173.8 1082 173" fill="none" stroke="#F8A75A" stroke-width="3.2" stroke-linecap="round"/>
<path d="M765 253 C768.5 251.2 791.9 239 800 235 C808.1 231 837 217.5 846 213 C855 208.5 883.8 193.7 890 190 C896.2 186.3 901.3 178.6 908 176 C914.7 173.4 947.8 165.6 957 164 C966.2 162.4 991.1 160.6 1000 160 C1008.9 159.4 1037.1 158.9 1046 158 C1054.9 157.1 1080.8 152.1 1089 151 C1097.2 149.9 1124.1 147.4 1128 147" fill="none" stroke="#B878C5" stroke-width="3.2" stroke-linecap="round"/>
<path d="M725.3 83 V371.5 H1157.7" fill="none" stroke="#000" stroke-width="3"/>
<line x1="720.3" y1="359.1" x2="725.3" y2="359.1" stroke="#333" stroke-width="2"/>
<text x="717.3" y="367.7" font-size="34" text-anchor="end" fill="#111111" font-weight="normal">0</text>
<line x1="720.3" y1="301.1" x2="725.3" y2="301.1" stroke="#333" stroke-width="2"/>
<text x="717.3" y="309.7" font-size="34" text-anchor="end" fill="#111111" font-weight="normal">5</text>
<line x1="720.3" y1="243.1" x2="725.3" y2="243.1" stroke="#333" stroke-width="2"/>
<text x="717.3" y="251.7" font-size="34" text-anchor="end" fill="#111111" font-weight="normal">10</text>
<line x1="720.3" y1="185.1" x2="725.3" y2="185.1" stroke="#333" stroke-width="2"/>
<text x="717.3" y="193.7" font-size="34" text-anchor="end" fill="#111111" font-weight="normal">15</text>
<line x1="720.3" y1="127.1" x2="725.3" y2="127.1" stroke="#333" stroke-width="2"/>
<text x="717.3" y="135.7" font-size="34" text-anchor="end" fill="#111111" font-weight="normal">20</text>
<line x1="752.8" y1="371.5" x2="752.8" y2="376.5" stroke="#333" stroke-width="2"/>
<text x="754.3" y="404.5" font-size="34" text-anchor="middle" fill="#111111" font-weight="normal">1</text>
<line x1="799.9" y1="371.5" x2="799.9" y2="376.5" stroke="#333" stroke-width="2"/>
<text x="801.4" y="404.5" font-size="34" text-anchor="middle" fill="#111111" font-weight="normal">2</text>
<line x1="847" y1="371.5" x2="847" y2="376.5" stroke="#333" stroke-width="2"/>
<text x="848.5" y="404.5" font-size="34" text-anchor="middle" fill="#111111" font-weight="normal">3</text>
<line x1="894.1" y1="371.5" x2="894.1" y2="376.5" stroke="#333" stroke-width="2"/>
<text x="895.6" y="404.5" font-size="34" text-anchor="middle" fill="#111111" font-weight="normal">4</text>
<line x1="941.2" y1="371.5" x2="941.2" y2="376.5" stroke="#333" stroke-width="2"/>
<text x="942.7" y="404.5" font-size="34" text-anchor="middle" fill="#111111" font-weight="normal">5</text>
<line x1="988.3" y1="371.5" x2="988.3" y2="376.5" stroke="#333" stroke-width="2"/>
<text x="989.8" y="404.5" font-size="34" text-anchor="middle" fill="#111111" font-weight="normal">6</text>
<line x1="1035.4" y1="371.5" x2="1035.4" y2="376.5" stroke="#333" stroke-width="2"/>
<text x="1036.9" y="404.5" font-size="34" text-anchor="middle" fill="#111111" font-weight="normal">7</text>
<line x1="1082.5" y1="371.5" x2="1082.5" y2="376.5" stroke="#333" stroke-width="2"/>
<text x="1084" y="404.5" font-size="34" text-anchor="middle" fill="#111111" font-weight="normal">8</text>
<line x1="1129.6" y1="371.5" x2="1129.6" y2="376.5" stroke="#333" stroke-width="2"/>
<text x="1131.1" y="404.5" font-size="34" text-anchor="middle" fill="#111111" font-weight="normal">9</text>
<text x="724.7" y="70" font-size="34" text-anchor="start" fill="#111111" font-weight="normal" textLength="92.3" lengthAdjust="spacingAndGlyphs">S−IgG</text>
<text x="632.5" y="247" font-size="33" text-anchor="middle" fill="#231815" font-weight="normal" textLength="238" lengthAdjust="spacingAndGlyphs" transform="rotate(-90 632.5 247)">Expression level</text>
<text x="672" y="247" font-size="32" text-anchor="middle" fill="#231815" font-weight="normal" textLength="119" lengthAdjust="spacingAndGlyphs" transform="rotate(-90 672 247)">(AU/mL)</text>
<text x="870.8" y="434.3" font-size="32.5" text-anchor="start" fill="#111111" font-weight="normal" textLength="184.2" lengthAdjust="spacingAndGlyphs">Time(weeks)</text>
<line x1="833.1" y1="39.5" x2="838.6" y2="39.5" stroke="#F9A85C" stroke-width="1.5" stroke-linecap="round"/><line x1="833.1" y1="39.5" x2="834.8" y2="44.7" stroke="#F9A85C" stroke-width="1.5" stroke-linecap="round"/><line x1="833.1" y1="39.5" x2="828.7" y2="42.7" stroke="#F9A85C" stroke-width="1.5" stroke-linecap="round"/><line x1="833.1" y1="39.5" x2="828.7" y2="36.3" stroke="#F9A85C" stroke-width="1.5" stroke-linecap="round"/><line x1="833.1" y1="39.5" x2="834.8" y2="34.3" stroke="#F9A85C" stroke-width="1.5" stroke-linecap="round"/>
<line x1="846.7" y1="39.5" x2="852.2" y2="39.5" stroke="#F9A85C" stroke-width="1.5" stroke-linecap="round"/><line x1="846.7" y1="39.5" x2="848.4" y2="44.7" stroke="#F9A85C" stroke-width="1.5" stroke-linecap="round"/><line x1="846.7" y1="39.5" x2="842.3" y2="42.7" stroke="#F9A85C" stroke-width="1.5" stroke-linecap="round"/><line x1="846.7" y1="39.5" x2="842.3" y2="36.3" stroke="#F9A85C" stroke-width="1.5" stroke-linecap="round"/><line x1="846.7" y1="39.5" x2="848.4" y2="34.3" stroke="#F9A85C" stroke-width="1.5" stroke-linecap="round"/>
<line x1="860.7" y1="39.5" x2="866.2" y2="39.5" stroke="#F9A85C" stroke-width="1.5" stroke-linecap="round"/><line x1="860.7" y1="39.5" x2="862.4" y2="44.7" stroke="#F9A85C" stroke-width="1.5" stroke-linecap="round"/><line x1="860.7" y1="39.5" x2="856.3" y2="42.7" stroke="#F9A85C" stroke-width="1.5" stroke-linecap="round"/><line x1="860.7" y1="39.5" x2="856.3" y2="36.3" stroke="#F9A85C" stroke-width="1.5" stroke-linecap="round"/><line x1="860.7" y1="39.5" x2="862.4" y2="34.3" stroke="#F9A85C" stroke-width="1.5" stroke-linecap="round"/>
<line x1="832.2" y1="57.6" x2="837.7" y2="57.6" stroke="#B87BC4" stroke-width="1.5" stroke-linecap="round"/><line x1="832.2" y1="57.6" x2="833.9" y2="62.8" stroke="#B87BC4" stroke-width="1.5" stroke-linecap="round"/><line x1="832.2" y1="57.6" x2="827.8" y2="60.8" stroke="#B87BC4" stroke-width="1.5" stroke-linecap="round"/><line x1="832.2" y1="57.6" x2="827.8" y2="54.4" stroke="#B87BC4" stroke-width="1.5" stroke-linecap="round"/><line x1="832.2" y1="57.6" x2="833.9" y2="52.4" stroke="#B87BC4" stroke-width="1.5" stroke-linecap="round"/>
<line x1="846" y1="57.6" x2="851.5" y2="57.6" stroke="#B87BC4" stroke-width="1.5" stroke-linecap="round"/><line x1="846" y1="57.6" x2="847.7" y2="62.8" stroke="#B87BC4" stroke-width="1.5" stroke-linecap="round"/><line x1="846" y1="57.6" x2="841.6" y2="60.8" stroke="#B87BC4" stroke-width="1.5" stroke-linecap="round"/><line x1="846" y1="57.6" x2="841.6" y2="54.4" stroke="#B87BC4" stroke-width="1.5" stroke-linecap="round"/><line x1="846" y1="57.6" x2="847.7" y2="52.4" stroke="#B87BC4" stroke-width="1.5" stroke-linecap="round"/>
<line x1="860" y1="57.6" x2="865.5" y2="57.6" stroke="#B87BC4" stroke-width="1.5" stroke-linecap="round"/><line x1="860" y1="57.6" x2="861.7" y2="62.8" stroke="#B87BC4" stroke-width="1.5" stroke-linecap="round"/><line x1="860" y1="57.6" x2="855.6" y2="60.8" stroke="#B87BC4" stroke-width="1.5" stroke-linecap="round"/><line x1="860" y1="57.6" x2="855.6" y2="54.4" stroke="#B87BC4" stroke-width="1.5" stroke-linecap="round"/><line x1="860" y1="57.6" x2="861.7" y2="52.4" stroke="#B87BC4" stroke-width="1.5" stroke-linecap="round"/>
<line x1="832.5" y1="73.4" x2="838" y2="73.4" stroke="#111" stroke-width="1.5" stroke-linecap="round"/><line x1="832.5" y1="73.4" x2="834.2" y2="78.6" stroke="#111" stroke-width="1.5" stroke-linecap="round"/><line x1="832.5" y1="73.4" x2="828.1" y2="76.6" stroke="#111" stroke-width="1.5" stroke-linecap="round"/><line x1="832.5" y1="73.4" x2="828.1" y2="70.2" stroke="#111" stroke-width="1.5" stroke-linecap="round"/><line x1="832.5" y1="73.4" x2="834.2" y2="68.2" stroke="#111" stroke-width="1.5" stroke-linecap="round"/>
<line x1="846.3" y1="73.4" x2="851.8" y2="73.4" stroke="#111" stroke-width="1.5" stroke-linecap="round"/><line x1="846.3" y1="73.4" x2="848" y2="78.6" stroke="#111" stroke-width="1.5" stroke-linecap="round"/><line x1="846.3" y1="73.4" x2="841.9" y2="76.6" stroke="#111" stroke-width="1.5" stroke-linecap="round"/><line x1="846.3" y1="73.4" x2="841.9" y2="70.2" stroke="#111" stroke-width="1.5" stroke-linecap="round"/><line x1="846.3" y1="73.4" x2="848" y2="68.2" stroke="#111" stroke-width="1.5" stroke-linecap="round"/>
<line x1="860.3" y1="73.4" x2="865.8" y2="73.4" stroke="#111" stroke-width="1.5" stroke-linecap="round"/><line x1="860.3" y1="73.4" x2="862" y2="78.6" stroke="#111" stroke-width="1.5" stroke-linecap="round"/><line x1="860.3" y1="73.4" x2="855.9" y2="76.6" stroke="#111" stroke-width="1.5" stroke-linecap="round"/><line x1="860.3" y1="73.4" x2="855.9" y2="70.2" stroke="#111" stroke-width="1.5" stroke-linecap="round"/><line x1="860.3" y1="73.4" x2="862" y2="68.2" stroke="#111" stroke-width="1.5" stroke-linecap="round"/>
<line x1="744.8" y1="516.5" x2="744.8" y2="609.4" stroke="#333333" stroke-width="2.6"/><rect x="738.2" y="609.4" width="13.2" height="163.6" fill="#F9B05C" stroke="#333333" stroke-width="2.8"/><line x1="738.2" y1="770.8" x2="751.4" y2="770.8" stroke="#333333" stroke-width="4.5"/><line x1="761.7" y1="687.4" x2="761.7" y2="729.9" stroke="#333333" stroke-width="2.6"/><line x1="761.7" y1="769.9" x2="761.7" y2="770.8" stroke="#333333" stroke-width="2.6"/><rect x="754.2" y="729.9" width="15" height="40" fill="#BE7EC1" stroke="#333333" stroke-width="2.8"/><line x1="754.2" y1="755.3" x2="769.2" y2="755.3" stroke="#333333" stroke-width="4.5"/><line x1="794.6" y1="516.5" x2="794.6" y2="631" stroke="#333333" stroke-width="2.6"/><line x1="794.6" y1="766.7" x2="794.6" y2="770.8" stroke="#333333" stroke-width="2.6"/><rect x="786.6" y="631" width="16" height="135.7" fill="#F9B05C" stroke="#333333" stroke-width="2.8"/><line x1="786.6" y1="755.3" x2="802.6" y2="755.3" stroke="#333333" stroke-width="4.5"/><line x1="812.4" y1="516.5" x2="812.4" y2="664.4" stroke="#333333" stroke-width="2.6"/><line x1="812.4" y1="767.8" x2="812.4" y2="770.8" stroke="#333333" stroke-width="2.6"/><rect x="805.4" y="664.4" width="13.9" height="103.4" fill="#BE7EC1" stroke="#333333" stroke-width="2.8"/><line x1="805.4" y1="744.8" x2="819.3" y2="744.8" stroke="#333333" stroke-width="4.5"/><line x1="845" y1="516.5" x2="845" y2="527.7" stroke="#333333" stroke-width="2.6"/><line x1="845" y1="740.6" x2="845" y2="768.2" stroke="#333333" stroke-width="2.6"/><rect x="837.4" y="527.7" width="15.2" height="212.9" fill="#F9B05C" stroke="#333333" stroke-width="2.8"/><line x1="837.4" y1="655" x2="852.6" y2="655" stroke="#333333" stroke-width="4.5"/><line x1="862.4" y1="516.5" x2="862.4" y2="560.1" stroke="#333333" stroke-width="2.6"/><line x1="862.4" y1="736.1" x2="862.4" y2="757.9" stroke="#333333" stroke-width="2.6"/><rect x="855.4" y="560.1" width="14" height="176" fill="#BE7EC1" stroke="#333333" stroke-width="2.8"/><line x1="855.4" y1="694.4" x2="869.4" y2="694.4" stroke="#333333" stroke-width="4.5"/><line x1="894.5" y1="675.5" x2="894.5" y2="763" stroke="#333333" stroke-width="2.6"/><rect x="888.4" y="515.6" width="12.2" height="160" fill="#F9B05C" stroke="#333333" stroke-width="2.8"/><line x1="888.4" y1="531.4" x2="900.6" y2="531.4" stroke="#333333" stroke-width="4.5"/><line x1="911.8" y1="682" x2="911.8" y2="750.1" stroke="#333333" stroke-width="2.6"/><rect x="903.4" y="515.6" width="16.7" height="166.4" fill="#BE7EC1" stroke="#333333" stroke-width="2.8"/><line x1="903.4" y1="617.3" x2="920.1" y2="617.3" stroke="#333333" stroke-width="4.5"/><line x1="945.8" y1="665.8" x2="945.8" y2="764.3" stroke="#333333" stroke-width="2.6"/><rect x="938" y="515.6" width="15.6" height="150.3" fill="#F9B05C" stroke="#333333" stroke-width="2.8"/><line x1="938" y1="582.3" x2="953.6" y2="582.3" stroke="#333333" stroke-width="4.5"/><line x1="963.4" y1="602.2" x2="963.4" y2="694" stroke="#333333" stroke-width="2.6"/><rect x="956.4" y="515.6" width="14" height="86.6" fill="#BE7EC1" stroke="#333333" stroke-width="2.8"/><line x1="956.4" y1="582.3" x2="970.4" y2="582.3" stroke="#333333" stroke-width="4.5"/><line x1="996" y1="712.2" x2="996" y2="762.3" stroke="#333333" stroke-width="2.6"/><rect x="988.7" y="515.6" width="14.5" height="196.6" fill="#F9B05C" stroke="#333333" stroke-width="2.8"/><line x1="988.7" y1="660" x2="1003.2" y2="660" stroke="#333333" stroke-width="4.5"/><line x1="1013.2" y1="515.6" x2="1013.2" y2="529.9" stroke="#333333" stroke-width="2.6"/><line x1="1013.2" y1="649.7" x2="1013.2" y2="747.8" stroke="#333333" stroke-width="2.6"/><rect x="1006" y="529.9" width="14.4" height="119.8" fill="#BE7EC1" stroke="#333333" stroke-width="2.8"/><line x1="1006" y1="627" x2="1020.4" y2="627" stroke="#333333" stroke-width="4.5"/><line x1="1045.5" y1="655" x2="1045.5" y2="724" stroke="#333333" stroke-width="2.6"/><rect x="1039.4" y="515.6" width="12.3" height="139.4" fill="#F9B05C" stroke="#333333" stroke-width="2.8"/><line x1="1039.4" y1="627" x2="1051.7" y2="627" stroke="#333333" stroke-width="4.5"/><rect x="1054.5" y="515.6" width="16.6" height="148.1" fill="#BE7EC1" stroke="#333333" stroke-width="2.8"/><line x1="1054.5" y1="589.1" x2="1071.1" y2="589.1" stroke="#333333" stroke-width="4.5"/><line x1="1097.2" y1="708.9" x2="1097.2" y2="763.6" stroke="#333333" stroke-width="2.6"/><rect x="1089.7" y="515.6" width="14.9" height="193.4" fill="#F9B05C" stroke="#333333" stroke-width="2.8"/><line x1="1089.7" y1="608.8" x2="1104.6" y2="608.8" stroke="#333333" stroke-width="4.5"/><line x1="1114.4" y1="640" x2="1114.4" y2="710.1" stroke="#333333" stroke-width="2.6"/><rect x="1107.4" y="515.6" width="14" height="124.5" fill="#BE7EC1" stroke="#333333" stroke-width="2.8"/><line x1="1107.4" y1="562.3" x2="1121.4" y2="562.3" stroke="#333333" stroke-width="4.5"/><line x1="1147.5" y1="644.3" x2="1147.5" y2="685.3" stroke="#333333" stroke-width="2.6"/><rect x="1139.7" y="514.8" width="15.6" height="129.5" fill="#BE7EC1" stroke="#333333" stroke-width="2.8"/><line x1="1139.7" y1="516.5" x2="1155.3" y2="516.5" stroke="#333333" stroke-width="4.5"/>
<g fill="#111"><circle cx="758.7" cy="515.2" r="2.3"/><circle cx="743.4" cy="541.3" r="2.3"/><circle cx="743.4" cy="559" r="2.3"/><circle cx="792.5" cy="565.3" r="2.3"/><circle cx="843.7" cy="749" r="2.3"/><circle cx="747.2" cy="642.1" r="2.1"/><circle cx="749.2" cy="605.9" r="2.1"/><circle cx="749" cy="652" r="2.1"/><circle cx="744.5" cy="768.2" r="2.1"/><circle cx="746.3" cy="618.7" r="2.1"/><circle cx="757.8" cy="714.8" r="2.1"/><circle cx="759.2" cy="741.6" r="2.1"/><circle cx="762.4" cy="748.1" r="2.1"/><circle cx="758.9" cy="769.4" r="2.1"/><circle cx="765.9" cy="758.7" r="2.1"/><circle cx="791.2" cy="619.9" r="2.1"/><circle cx="791" cy="613.7" r="2.1"/><circle cx="790.9" cy="682.9" r="2.1"/><circle cx="798.3" cy="766.4" r="2.1"/><circle cx="791.8" cy="738.2" r="2.1"/><circle cx="816.1" cy="593.6" r="2.1"/><circle cx="817" cy="718.6" r="2.1"/><circle cx="814.1" cy="712.1" r="2.1"/><circle cx="816.8" cy="746.6" r="2.1"/><circle cx="817" cy="696.4" r="2.1"/><circle cx="843" cy="548.2" r="2.1"/><circle cx="841.7" cy="679.3" r="2.1"/><circle cx="840.7" cy="709.6" r="2.1"/><circle cx="846" cy="676.4" r="2.1"/><circle cx="846.8" cy="739.9" r="2.1"/><circle cx="860.5" cy="683.7" r="2.1"/><circle cx="862.2" cy="578.1" r="2.1"/><circle cx="862.2" cy="680.5" r="2.1"/><circle cx="858" cy="612.1" r="2.1"/><circle cx="857.6" cy="564.5" r="2.1"/><circle cx="897.9" cy="577.5" r="2.1"/><circle cx="897.4" cy="758.6" r="2.1"/><circle cx="895.3" cy="616.9" r="2.1"/><circle cx="890" cy="674.1" r="2.1"/><circle cx="899.1" cy="646.6" r="2.1"/><circle cx="891" cy="515.6" r="2.6"/><circle cx="893.3" cy="515.6" r="2.6"/><circle cx="895.7" cy="515.6" r="2.6"/><circle cx="898" cy="515.6" r="2.6"/><circle cx="914.3" cy="704" r="2.1"/><circle cx="916.2" cy="532.1" r="2.1"/><circle cx="910.3" cy="624.7" r="2.1"/><circle cx="914.5" cy="594.6" r="2.1"/><circle cx="914.2" cy="664" r="2.1"/><circle cx="906" cy="515.6" r="2.6"/><circle cx="909.8" cy="515.6" r="2.6"/><circle cx="913.7" cy="515.6" r="2.6"/><circle cx="917.5" cy="515.6" r="2.6"/><circle cx="949.4" cy="566" r="2.1"/><circle cx="950.3" cy="755.2" r="2.1"/><circle cx="944.2" cy="652.1" r="2.1"/><circle cx="950" cy="574" r="2.1"/><circle cx="950" cy="614.7" r="2.1"/><circle cx="940.6" cy="515.6" r="2.6"/><circle cx="944.1" cy="515.6" r="2.6"/><circle cx="947.5" cy="515.6" r="2.6"/><circle cx="951" cy="515.6" r="2.6"/><circle cx="961.5" cy="596.7" r="2.1"/><circle cx="960.2" cy="637.4" r="2.1"/><circle cx="959.9" cy="595.4" r="2.1"/><circle cx="968.4" cy="542.5" r="2.1"/><circle cx="958.9" cy="588.2" r="2.1"/><circle cx="959" cy="515.6" r="2.6"/><circle cx="961.9" cy="515.6" r="2.6"/><circle cx="964.9" cy="515.6" r="2.6"/><circle cx="967.8" cy="515.6" r="2.6"/><circle cx="996.3" cy="518.8" r="2.1"/><circle cx="993.3" cy="662.1" r="2.1"/><circle cx="999.2" cy="595.4" r="2.1"/><circle cx="995.2" cy="622.6" r="2.1"/><circle cx="1000.1" cy="701.2" r="2.1"/><circle cx="991.3" cy="515.6" r="2.6"/><circle cx="994.4" cy="515.6" r="2.6"/><circle cx="997.5" cy="515.6" r="2.6"/><circle cx="1000.6" cy="515.6" r="2.6"/><circle cx="1013.1" cy="740.4" r="2.1"/><circle cx="1009.5" cy="559.1" r="2.1"/><circle cx="1017.7" cy="562" r="2.1"/><circle cx="1016.1" cy="574.2" r="2.1"/><circle cx="1012.5" cy="636.9" r="2.1"/><circle cx="1049" cy="692.9" r="2.1"/><circle cx="1045.1" cy="662.6" r="2.1"/><circle cx="1049.1" cy="515.6" r="2.1"/><circle cx="1045.1" cy="518.9" r="2.1"/><circle cx="1047.8" cy="586.9" r="2.1"/><circle cx="1042" cy="515.6" r="2.6"/><circle cx="1044.4" cy="515.6" r="2.6"/><circle cx="1046.7" cy="515.6" r="2.6"/><circle cx="1049.1" cy="515.6" r="2.6"/><circle cx="1060.7" cy="592.7" r="2.1"/><circle cx="1059.3" cy="603.8" r="2.1"/><circle cx="1067.7" cy="607.8" r="2.1"/><circle cx="1064.1" cy="521.5" r="2.1"/><circle cx="1061.2" cy="589.7" r="2.1"/><circle cx="1057.1" cy="515.6" r="2.6"/><circle cx="1060.9" cy="515.6" r="2.6"/><circle cx="1064.7" cy="515.6" r="2.6"/><circle cx="1068.5" cy="515.6" r="2.6"/><circle cx="1094.9" cy="741.4" r="2.1"/><circle cx="1100.8" cy="569.6" r="2.1"/><circle cx="1100" cy="639.1" r="2.1"/><circle cx="1099.1" cy="559.1" r="2.1"/><circle cx="1099.7" cy="580.5" r="2.1"/><circle cx="1092.3" cy="515.6" r="2.6"/><circle cx="1095.5" cy="515.6" r="2.6"/><circle cx="1098.8" cy="515.6" r="2.6"/><circle cx="1102" cy="515.6" r="2.6"/><circle cx="1116.4" cy="639.4" r="2.1"/><circle cx="1114.3" cy="655.5" r="2.1"/><circle cx="1116.3" cy="544.2" r="2.1"/><circle cx="1118.9" cy="603.4" r="2.1"/><circle cx="1115.2" cy="559.1" r="2.1"/><circle cx="1110" cy="515.6" r="2.6"/><circle cx="1112.9" cy="515.6" r="2.6"/><circle cx="1115.9" cy="515.6" r="2.6"/><circle cx="1118.8" cy="515.6" r="2.6"/><circle cx="1148" cy="683.3" r="2.1"/><circle cx="1149.2" cy="642.6" r="2.1"/><circle cx="1150.7" cy="584.3" r="2.1"/><circle cx="1150.5" cy="560.4" r="2.1"/><circle cx="1148.9" cy="599.2" r="2.1"/><circle cx="1142.3" cy="514.8" r="2.6"/><circle cx="1145.8" cy="514.8" r="2.6"/><circle cx="1149.2" cy="514.8" r="2.6"/><circle cx="1152.7" cy="514.8" r="2.6"/></g>
<path d="M752 650 C760.2 648.8 786.3 648 801 643 C815.7 638 825.2 633 840 620 C854.8 607 875.2 575.2 890 565 C904.8 554.8 918.2 560 929 559 C939.8 558 944.8 558.5 955 559 C965.2 559.5 975.8 560.2 990 562 C1004.2 563.8 1023.8 567.3 1040 570 C1056.2 572.7 1079.2 576.7 1087 578 L1087 680 C1080 675.2 1064.2 660.3 1045 651 C1025.8 641.7 989.2 629.2 972 624 C954.8 618.8 954.8 617.3 942 620 C929.2 622.7 910.7 632 895 640 C879.3 648 863.7 657.8 848 668 C832.3 678.2 817 690.5 801 701 C785 711.5 760.2 726 752 731Z" fill="#F8A75A" fill-opacity="0.36"/>
<path d="M771 666 C776 665.3 788.2 669 801 662 C813.8 655 833.2 635.2 848 624 C862.8 612.8 877.2 603.7 890 595 C902.8 586.3 911.3 578.8 925 572 C938.7 565.2 950.5 553.3 972 554 C993.5 554.7 1026 579.8 1054 576 C1082 572.2 1125.7 538.5 1140 531 L1140 617 C1125.7 618.8 1082 627.7 1054 628 C1026 628.3 993.5 616.5 972 619 C950.5 621.5 938.7 634.5 925 643 C911.3 651.5 902.8 660.3 890 670 C877.2 679.7 862.8 688.5 848 701 C833.2 713.5 813.8 733.2 801 745 C788.2 756.8 776 767.5 771 772Z" fill="#B878C5" fill-opacity="0.36"/>
<path d="M752 704 C756.9 699.7 788.4 671.8 801 661 C813.6 650.2 865.2 602.5 878 596 C890.8 589.5 920.7 595.4 929 596 C937.3 596.6 954.5 600.7 961 602 C967.5 603.3 986 607.5 994 609 C1002 610.5 1031.6 615.3 1041 617 C1050.4 618.7 1083.3 625.1 1088 626" fill="none" stroke="#F8A75A" stroke-width="3.2" stroke-linecap="round"/>
<path d="M761 720 C766.7 717.1 807.3 697.5 818 691 C828.7 684.5 858.6 663.2 868 655 C877.4 646.8 902.7 615.7 912 609 C921.3 602.3 950.9 589.3 961 588 C971.1 586.7 1002.8 595.5 1013 596 C1023.2 596.5 1050.3 595.3 1063 593 C1075.7 590.7 1132.3 575 1140 573" fill="none" stroke="#B878C5" stroke-width="3.2" stroke-linecap="round"/>
<path d="M726.7 496.4 V785.3 H1158.8" fill="none" stroke="#000" stroke-width="3"/>
<line x1="721.7" y1="768.2" x2="726.7" y2="768.2" stroke="#333" stroke-width="2"/>
<text x="720.7" y="776.8" font-size="34" text-anchor="end" fill="#111111" font-weight="normal">0</text>
<line x1="721.7" y1="703.7" x2="726.7" y2="703.7" stroke="#333" stroke-width="2"/>
<text x="720.7" y="712.3" font-size="34" text-anchor="end" fill="#111111" font-weight="normal">5</text>
<line x1="721.7" y1="639.1" x2="726.7" y2="639.1" stroke="#333" stroke-width="2"/>
<text x="720.7" y="647.7" font-size="34" text-anchor="end" fill="#111111" font-weight="normal">10</text>
<line x1="721.7" y1="574.6" x2="726.7" y2="574.6" stroke="#333" stroke-width="2"/>
<text x="720.7" y="583.2" font-size="34" text-anchor="end" fill="#111111" font-weight="normal">15</text>
<line x1="721.7" y1="510" x2="726.7" y2="510" stroke="#333" stroke-width="2"/>
<text x="720.7" y="518.6" font-size="34" text-anchor="end" fill="#111111" font-weight="normal">20</text>
<line x1="753.9" y1="785.3" x2="753.9" y2="790.3" stroke="#333" stroke-width="2"/>
<text x="755.4" y="818.1" font-size="34" text-anchor="middle" fill="#111111" font-weight="normal">1</text>
<line x1="801.1" y1="785.3" x2="801.1" y2="790.3" stroke="#333" stroke-width="2"/>
<text x="802.6" y="818.1" font-size="34" text-anchor="middle" fill="#111111" font-weight="normal">2</text>
<line x1="848.3" y1="785.3" x2="848.3" y2="790.3" stroke="#333" stroke-width="2"/>
<text x="849.8" y="818.1" font-size="34" text-anchor="middle" fill="#111111" font-weight="normal">3</text>
<line x1="895.5" y1="785.3" x2="895.5" y2="790.3" stroke="#333" stroke-width="2"/>
<text x="897" y="818.1" font-size="34" text-anchor="middle" fill="#111111" font-weight="normal">4</text>
<line x1="942.7" y1="785.3" x2="942.7" y2="790.3" stroke="#333" stroke-width="2"/>
<text x="944.2" y="818.1" font-size="34" text-anchor="middle" fill="#111111" font-weight="normal">5</text>
<line x1="989.9" y1="785.3" x2="989.9" y2="790.3" stroke="#333" stroke-width="2"/>
<text x="991.4" y="818.1" font-size="34" text-anchor="middle" fill="#111111" font-weight="normal">6</text>
<line x1="1037.1" y1="785.3" x2="1037.1" y2="790.3" stroke="#333" stroke-width="2"/>
<text x="1038.6" y="818.1" font-size="34" text-anchor="middle" fill="#111111" font-weight="normal">7</text>
<line x1="1084.3" y1="785.3" x2="1084.3" y2="790.3" stroke="#333" stroke-width="2"/>
<text x="1085.8" y="818.1" font-size="34" text-anchor="middle" fill="#111111" font-weight="normal">8</text>
<line x1="1131.5" y1="785.3" x2="1131.5" y2="790.3" stroke="#333" stroke-width="2"/>
<text x="1133" y="818.1" font-size="34" text-anchor="middle" fill="#111111" font-weight="normal">9</text>
<text x="726.8" y="483.8" font-size="34" text-anchor="start" fill="#111111" font-weight="normal" textLength="138.8" lengthAdjust="spacingAndGlyphs">RBD−IgG</text>
<text x="637.5" y="634" font-size="33" text-anchor="middle" fill="#231815" font-weight="normal" textLength="238" lengthAdjust="spacingAndGlyphs" transform="rotate(-90 637.5 634)">Expression level</text>
<text x="676" y="634" font-size="32" text-anchor="middle" fill="#231815" font-weight="normal" textLength="119" lengthAdjust="spacingAndGlyphs" transform="rotate(-90 676 634)">(AU/mL)</text>
<text x="871.9" y="849.3" font-size="32.5" text-anchor="start" fill="#111111" font-weight="normal" textLength="184.4" lengthAdjust="spacingAndGlyphs">Time(weeks)</text>
<line x1="877" y1="457.7" x2="882.5" y2="457.7" stroke="#F9A85C" stroke-width="1.5" stroke-linecap="round"/><line x1="877" y1="457.7" x2="878.7" y2="462.9" stroke="#F9A85C" stroke-width="1.5" stroke-linecap="round"/><line x1="877" y1="457.7" x2="872.6" y2="460.9" stroke="#F9A85C" stroke-width="1.5" stroke-linecap="round"/><line x1="877" y1="457.7" x2="872.6" y2="454.5" stroke="#F9A85C" stroke-width="1.5" stroke-linecap="round"/><line x1="877" y1="457.7" x2="878.7" y2="452.5" stroke="#F9A85C" stroke-width="1.5" stroke-linecap="round"/>
<line x1="890.7" y1="457.7" x2="896.2" y2="457.7" stroke="#F9A85C" stroke-width="1.5" stroke-linecap="round"/><line x1="890.7" y1="457.7" x2="892.4" y2="462.9" stroke="#F9A85C" stroke-width="1.5" stroke-linecap="round"/><line x1="890.7" y1="457.7" x2="886.3" y2="460.9" stroke="#F9A85C" stroke-width="1.5" stroke-linecap="round"/><line x1="890.7" y1="457.7" x2="886.3" y2="454.5" stroke="#F9A85C" stroke-width="1.5" stroke-linecap="round"/><line x1="890.7" y1="457.7" x2="892.4" y2="452.5" stroke="#F9A85C" stroke-width="1.5" stroke-linecap="round"/>
<line x1="877" y1="475.5" x2="882.5" y2="475.5" stroke="#B87BC4" stroke-width="1.5" stroke-linecap="round"/><line x1="877" y1="475.5" x2="878.7" y2="480.7" stroke="#B87BC4" stroke-width="1.5" stroke-linecap="round"/><line x1="877" y1="475.5" x2="872.6" y2="478.7" stroke="#B87BC4" stroke-width="1.5" stroke-linecap="round"/><line x1="877" y1="475.5" x2="872.6" y2="472.3" stroke="#B87BC4" stroke-width="1.5" stroke-linecap="round"/><line x1="877" y1="475.5" x2="878.7" y2="470.3" stroke="#B87BC4" stroke-width="1.5" stroke-linecap="round"/>
<line x1="890.7" y1="475.5" x2="896.2" y2="475.5" stroke="#B87BC4" stroke-width="1.5" stroke-linecap="round"/><line x1="890.7" y1="475.5" x2="892.4" y2="480.7" stroke="#B87BC4" stroke-width="1.5" stroke-linecap="round"/><line x1="890.7" y1="475.5" x2="886.3" y2="478.7" stroke="#B87BC4" stroke-width="1.5" stroke-linecap="round"/><line x1="890.7" y1="475.5" x2="886.3" y2="472.3" stroke="#B87BC4" stroke-width="1.5" stroke-linecap="round"/><line x1="890.7" y1="475.5" x2="892.4" y2="470.3" stroke="#B87BC4" stroke-width="1.5" stroke-linecap="round"/>
<line x1="904.5" y1="475.5" x2="910" y2="475.5" stroke="#B87BC4" stroke-width="1.5" stroke-linecap="round"/><line x1="904.5" y1="475.5" x2="906.2" y2="480.7" stroke="#B87BC4" stroke-width="1.5" stroke-linecap="round"/><line x1="904.5" y1="475.5" x2="900.1" y2="478.7" stroke="#B87BC4" stroke-width="1.5" stroke-linecap="round"/><line x1="904.5" y1="475.5" x2="900.1" y2="472.3" stroke="#B87BC4" stroke-width="1.5" stroke-linecap="round"/><line x1="904.5" y1="475.5" x2="906.2" y2="470.3" stroke="#B87BC4" stroke-width="1.5" stroke-linecap="round"/>
<line x1="877" y1="491.1" x2="882.5" y2="491.1" stroke="#111" stroke-width="1.5" stroke-linecap="round"/><line x1="877" y1="491.1" x2="878.7" y2="496.3" stroke="#111" stroke-width="1.5" stroke-linecap="round"/><line x1="877" y1="491.1" x2="872.6" y2="494.3" stroke="#111" stroke-width="1.5" stroke-linecap="round"/><line x1="877" y1="491.1" x2="872.6" y2="487.9" stroke="#111" stroke-width="1.5" stroke-linecap="round"/><line x1="877" y1="491.1" x2="878.7" y2="485.9" stroke="#111" stroke-width="1.5" stroke-linecap="round"/>
<line x1="890.7" y1="491.1" x2="896.2" y2="491.1" stroke="#111" stroke-width="1.5" stroke-linecap="round"/><line x1="890.7" y1="491.1" x2="892.4" y2="496.3" stroke="#111" stroke-width="1.5" stroke-linecap="round"/><line x1="890.7" y1="491.1" x2="886.3" y2="494.3" stroke="#111" stroke-width="1.5" stroke-linecap="round"/><line x1="890.7" y1="491.1" x2="886.3" y2="487.9" stroke="#111" stroke-width="1.5" stroke-linecap="round"/><line x1="890.7" y1="491.1" x2="892.4" y2="485.9" stroke="#111" stroke-width="1.5" stroke-linecap="round"/>
<line x1="904.5" y1="491.1" x2="910" y2="491.1" stroke="#111" stroke-width="1.5" stroke-linecap="round"/><line x1="904.5" y1="491.1" x2="906.2" y2="496.3" stroke="#111" stroke-width="1.5" stroke-linecap="round"/><line x1="904.5" y1="491.1" x2="900.1" y2="494.3" stroke="#111" stroke-width="1.5" stroke-linecap="round"/><line x1="904.5" y1="491.1" x2="900.1" y2="487.9" stroke="#111" stroke-width="1.5" stroke-linecap="round"/><line x1="904.5" y1="491.1" x2="906.2" y2="485.9" stroke="#111" stroke-width="1.5" stroke-linecap="round"/>
<line x1="743.7" y1="941.9" x2="743.7" y2="1034.3" stroke="#333333" stroke-width="2.6"/><line x1="743.7" y1="1197.1" x2="743.7" y2="1200.3" stroke="#333333" stroke-width="2.6"/><rect x="736.4" y="1034.3" width="14.6" height="162.8" fill="#F9B05C" stroke="#333333" stroke-width="2.8"/><line x1="736.4" y1="1190.9" x2="751" y2="1190.9" stroke="#333333" stroke-width="4.5"/><line x1="760.1" y1="941.9" x2="760.1" y2="970.5" stroke="#333333" stroke-width="2.6"/><line x1="760.1" y1="1161.7" x2="760.1" y2="1200.3" stroke="#333333" stroke-width="2.6"/><rect x="753.8" y="970.5" width="12.7" height="191.2" fill="#BE7EC1" stroke="#333333" stroke-width="2.8"/><line x1="753.8" y1="1109.4" x2="766.5" y2="1109.4" stroke="#333333" stroke-width="4.5"/><line x1="790.9" y1="941.9" x2="790.9" y2="966.9" stroke="#333333" stroke-width="2.6"/><line x1="790.9" y1="1170" x2="790.9" y2="1200.3" stroke="#333333" stroke-width="2.6"/><rect x="783.9" y="966.9" width="13.9" height="203.2" fill="#F9B05C" stroke="#333333" stroke-width="2.8"/><line x1="783.9" y1="1085.5" x2="797.8" y2="1085.5" stroke="#333333" stroke-width="4.5"/><line x1="807.1" y1="941.9" x2="807.1" y2="970.5" stroke="#333333" stroke-width="2.6"/><line x1="807.1" y1="1157.5" x2="807.1" y2="1200.3" stroke="#333333" stroke-width="2.6"/><rect x="800.6" y="970.5" width="13" height="187" fill="#BE7EC1" stroke="#333333" stroke-width="2.8"/><line x1="800.6" y1="1061.6" x2="813.6" y2="1061.6" stroke="#333333" stroke-width="4.5"/><line x1="838" y1="1103.2" x2="838" y2="1192" stroke="#333333" stroke-width="2.6"/><rect x="831.1" y="941.9" width="13.9" height="161.3" fill="#F9B05C" stroke="#333333" stroke-width="2.8"/><line x1="831.1" y1="966.9" x2="845" y2="966.9" stroke="#333333" stroke-width="4.5"/><line x1="854.4" y1="1053.2" x2="854.4" y2="1144.9" stroke="#333333" stroke-width="2.6"/><rect x="847.8" y="941.9" width="13.2" height="111.3" fill="#BE7EC1" stroke="#333333" stroke-width="2.8"/><line x1="847.8" y1="982.1" x2="861" y2="982.1" stroke="#333333" stroke-width="4.5"/><line x1="885.7" y1="1051" x2="885.7" y2="1146" stroke="#333333" stroke-width="2.6"/><rect x="878.7" y="941.9" width="14" height="109.1" fill="#F9B05C" stroke="#333333" stroke-width="2.8"/><line x1="878.7" y1="941.9" x2="892.7" y2="941.9" stroke="#333333" stroke-width="4.5"/><line x1="902" y1="1034.8" x2="902" y2="1113.6" stroke="#333333" stroke-width="2.6"/><rect x="895.5" y="941.9" width="13.1" height="92.9" fill="#BE7EC1" stroke="#333333" stroke-width="2.8"/><line x1="895.5" y1="989.5" x2="908.6" y2="989.5" stroke="#333333" stroke-width="4.5"/><rect x="925.7" y="941.9" width="13.2" height="57.8" fill="#F9B05C" stroke="#333333" stroke-width="2.8"/><line x1="925.7" y1="941.9" x2="938.9" y2="941.9" stroke="#333333" stroke-width="4.5"/><line x1="948.7" y1="1027.7" x2="948.7" y2="1125.5" stroke="#333333" stroke-width="2.6"/><rect x="941.7" y="941.9" width="14" height="85.8" fill="#BE7EC1" stroke="#333333" stroke-width="2.8"/><line x1="941.7" y1="941.9" x2="955.7" y2="941.9" stroke="#333333" stroke-width="4.5"/><line x1="979.8" y1="941.9" x2="979.8" y2="961.5" stroke="#333333" stroke-width="2.6"/><line x1="979.8" y1="1099.6" x2="979.8" y2="1164.3" stroke="#333333" stroke-width="2.6"/><rect x="972.5" y="961.5" width="14.5" height="138.1" fill="#F9B05C" stroke="#333333" stroke-width="2.8"/><line x1="972.5" y1="1033.8" x2="987" y2="1033.8" stroke="#333333" stroke-width="4.5"/><line x1="996.5" y1="1070.5" x2="996.5" y2="1104" stroke="#333333" stroke-width="2.6"/><rect x="989.8" y="941.9" width="13.4" height="128.6" fill="#BE7EC1" stroke="#333333" stroke-width="2.8"/><line x1="989.8" y1="941.9" x2="1003.2" y2="941.9" stroke="#333333" stroke-width="4.5"/><line x1="1027.2" y1="1070.5" x2="1027.2" y2="1150.3" stroke="#333333" stroke-width="2.6"/><rect x="1020" y="941.9" width="14.4" height="128.6" fill="#F9B05C" stroke="#333333" stroke-width="2.8"/><line x1="1020" y1="941.9" x2="1034.4" y2="941.9" stroke="#333333" stroke-width="4.5"/><line x1="1035.8" y1="941.9" x2="1051" y2="941.9" stroke="#333333" stroke-width="5"/><line x1="1074.3" y1="1118" x2="1074.3" y2="1161" stroke="#333333" stroke-width="2.6"/><rect x="1067.4" y="941.9" width="13.9" height="176.1" fill="#F9B05C" stroke="#333333" stroke-width="2.8"/><line x1="1067.4" y1="1023.4" x2="1081.3" y2="1023.4" stroke="#333333" stroke-width="4.5"/><line x1="1090.6" y1="1048.8" x2="1090.6" y2="1130.9" stroke="#333333" stroke-width="2.6"/><rect x="1084.1" y="941.9" width="12.9" height="106.9" fill="#BE7EC1" stroke="#333333" stroke-width="2.8"/><line x1="1084.1" y1="941.9" x2="1097" y2="941.9" stroke="#333333" stroke-width="4.5"/><line x1="1122.2" y1="1000.3" x2="1122.2" y2="1023" stroke="#333333" stroke-width="2.6"/><rect x="1114.9" y="941.9" width="14.5" height="58.4" fill="#BE7EC1" stroke="#333333" stroke-width="2.8"/><line x1="1114.9" y1="941.9" x2="1129.4" y2="941.9" stroke="#333333" stroke-width="4.5"/>
<g fill="#111"><circle cx="933.6" cy="1094.6" r="2.3"/><circle cx="933" cy="1128.5" r="2.3"/><circle cx="746.9" cy="1032" r="2.1"/><circle cx="741.3" cy="1097.4" r="2.1"/><circle cx="745.3" cy="1197.1" r="2.1"/><circle cx="746.3" cy="1120.6" r="2.1"/><circle cx="746.4" cy="1136.4" r="2.1"/><circle cx="763.2" cy="1133.8" r="2.1"/><circle cx="759.3" cy="1022.2" r="2.1"/><circle cx="762" cy="1058.8" r="2.1"/><circle cx="760.7" cy="1124.8" r="2.1"/><circle cx="757.8" cy="1007.8" r="2.1"/><circle cx="792.7" cy="1002.7" r="2.1"/><circle cx="789.2" cy="992.7" r="2.1"/><circle cx="793.9" cy="1151.1" r="2.1"/><circle cx="790.3" cy="1006.5" r="2.1"/><circle cx="787.8" cy="1151" r="2.1"/><circle cx="805" cy="1045.3" r="2.1"/><circle cx="808" cy="968.1" r="2.1"/><circle cx="808.7" cy="1120" r="2.1"/><circle cx="811.4" cy="1090.2" r="2.1"/><circle cx="807.2" cy="987.5" r="2.1"/><circle cx="840" cy="1030.8" r="2.1"/><circle cx="842.8" cy="990.6" r="2.1"/><circle cx="836.7" cy="1098.6" r="2.1"/><circle cx="836.1" cy="1006.1" r="2.1"/><circle cx="833.9" cy="1008.2" r="2.1"/><circle cx="833.7" cy="941.9" r="2.6"/><circle cx="836.6" cy="941.9" r="2.6"/><circle cx="839.5" cy="941.9" r="2.6"/><circle cx="842.4" cy="941.9" r="2.6"/><circle cx="854.7" cy="966.2" r="2.1"/><circle cx="856" cy="1121.2" r="2.1"/><circle cx="851.4" cy="1018.4" r="2.1"/><circle cx="850.8" cy="999.3" r="2.1"/><circle cx="858.1" cy="1029.8" r="2.1"/><circle cx="850.4" cy="941.9" r="2.6"/><circle cx="853.1" cy="941.9" r="2.6"/><circle cx="855.7" cy="941.9" r="2.6"/><circle cx="858.4" cy="941.9" r="2.6"/><circle cx="880.8" cy="1003.5" r="2.1"/><circle cx="880.9" cy="987.2" r="2.1"/><circle cx="889.7" cy="1014.7" r="2.1"/><circle cx="883.8" cy="983.3" r="2.1"/><circle cx="884.6" cy="1009.8" r="2.1"/><circle cx="881.3" cy="941.9" r="2.6"/><circle cx="884.2" cy="941.9" r="2.6"/><circle cx="887.2" cy="941.9" r="2.6"/><circle cx="890.1" cy="941.9" r="2.6"/><circle cx="907" cy="1091.8" r="2.1"/><circle cx="901.3" cy="1104.4" r="2.1"/><circle cx="901" cy="965.5" r="2.1"/><circle cx="899.5" cy="943.7" r="2.1"/><circle cx="906" cy="943.8" r="2.1"/><circle cx="898.1" cy="941.9" r="2.6"/><circle cx="900.7" cy="941.9" r="2.6"/><circle cx="903.4" cy="941.9" r="2.6"/><circle cx="906" cy="941.9" r="2.6"/><circle cx="936.2" cy="961" r="2.1"/><circle cx="935.6" cy="973.8" r="2.1"/><circle cx="932.5" cy="953.7" r="2.1"/><circle cx="934.4" cy="972.5" r="2.1"/><circle cx="928.2" cy="976.1" r="2.1"/><circle cx="928.3" cy="941.9" r="2.6"/><circle cx="931" cy="941.9" r="2.6"/><circle cx="933.6" cy="941.9" r="2.6"/><circle cx="936.3" cy="941.9" r="2.6"/><circle cx="946.4" cy="988.4" r="2.1"/><circle cx="951.5" cy="1035.9" r="2.1"/><circle cx="943.9" cy="1012.9" r="2.1"/><circle cx="949.6" cy="1017.1" r="2.1"/><circle cx="946.3" cy="996.7" r="2.1"/><circle cx="944.3" cy="941.9" r="2.6"/><circle cx="947.2" cy="941.9" r="2.6"/><circle cx="950.2" cy="941.9" r="2.6"/><circle cx="953.1" cy="941.9" r="2.6"/><circle cx="984" cy="1068.3" r="2.1"/><circle cx="978.9" cy="1110.1" r="2.1"/><circle cx="980.9" cy="978.2" r="2.1"/><circle cx="979.5" cy="1062.6" r="2.1"/><circle cx="976.2" cy="1033.5" r="2.1"/><circle cx="994.6" cy="1042.8" r="2.1"/><circle cx="994.7" cy="973.5" r="2.1"/><circle cx="1001.2" cy="985.7" r="2.1"/><circle cx="995.3" cy="951.8" r="2.1"/><circle cx="994.7" cy="992.9" r="2.1"/><circle cx="992.4" cy="941.9" r="2.6"/><circle cx="995.1" cy="941.9" r="2.6"/><circle cx="997.9" cy="941.9" r="2.6"/><circle cx="1000.6" cy="941.9" r="2.6"/><circle cx="1027.1" cy="1067.3" r="2.1"/><circle cx="1031.6" cy="984.9" r="2.1"/><circle cx="1022.3" cy="1033.1" r="2.1"/><circle cx="1022.8" cy="1012.7" r="2.1"/><circle cx="1029.9" cy="1066.6" r="2.1"/><circle cx="1022.6" cy="941.9" r="2.6"/><circle cx="1025.7" cy="941.9" r="2.6"/><circle cx="1028.7" cy="941.9" r="2.6"/><circle cx="1031.8" cy="941.9" r="2.6"/><circle cx="1076.5" cy="1136.4" r="2.1"/><circle cx="1078.7" cy="1081.7" r="2.1"/><circle cx="1070" cy="967.7" r="2.1"/><circle cx="1078.8" cy="1084" r="2.1"/><circle cx="1073.6" cy="1010" r="2.1"/><circle cx="1070" cy="941.9" r="2.6"/><circle cx="1072.9" cy="941.9" r="2.6"/><circle cx="1075.8" cy="941.9" r="2.6"/><circle cx="1078.7" cy="941.9" r="2.6"/><circle cx="1093.7" cy="983.1" r="2.1"/><circle cx="1090.2" cy="1038" r="2.1"/><circle cx="1089.2" cy="1038.1" r="2.1"/><circle cx="1091.8" cy="1033.3" r="2.1"/><circle cx="1087" cy="984" r="2.1"/><circle cx="1086.7" cy="941.9" r="2.6"/><circle cx="1089.3" cy="941.9" r="2.6"/><circle cx="1091.8" cy="941.9" r="2.6"/><circle cx="1094.4" cy="941.9" r="2.6"/><circle cx="1118.1" cy="972.1" r="2.1"/><circle cx="1123.6" cy="1014.4" r="2.1"/><circle cx="1126.1" cy="973.3" r="2.1"/><circle cx="1124.2" cy="963.6" r="2.1"/><circle cx="1125.5" cy="992.9" r="2.1"/><circle cx="1117.5" cy="941.9" r="2.6"/><circle cx="1120.6" cy="941.9" r="2.6"/><circle cx="1123.7" cy="941.9" r="2.6"/><circle cx="1126.8" cy="941.9" r="2.6"/></g>
<path d="M750 1070 C758.7 1065.8 785.5 1053.5 802 1045 C818.5 1036.5 833.2 1032.7 849 1019 C864.8 1005.3 881.3 972 897 963 C912.7 954 927.5 961.8 943 965 C958.5 968.2 974.3 977 990 982 C1005.7 987 1024.2 990 1037 995 C1049.8 1000 1062 1009.2 1067 1012 L1067 1086 C1062 1083.3 1049.8 1076.5 1037 1070 C1024.2 1063.5 1005.7 1052.7 990 1047 C974.3 1041.3 958.5 1038.8 943 1036 C927.5 1033.2 912.7 1024.5 897 1030 C881.3 1035.5 864.8 1055.7 849 1069 C833.2 1082.3 818.5 1094 802 1110 C785.5 1126 758.7 1155.8 750 1165Z" fill="#F8A75A" fill-opacity="0.36"/>
<path d="M768 1040 C773.7 1037.5 788.5 1030.7 802 1025 C815.5 1019.3 833.2 1016.8 849 1006 C864.8 995.2 881.3 968.5 897 960 C912.7 951.5 927.5 956.2 943 955 C958.5 953.8 966.3 953.8 990 953 C1013.7 952.2 1062.2 952.3 1085 950 C1107.8 947.7 1120 940.8 1127 939 L1127 1025 C1120 1023.2 1107.8 1015.3 1085 1014 C1062.2 1012.7 1013.7 1015.2 990 1017 C966.3 1018.8 958.5 1022.2 943 1025 C927.5 1027.8 912.7 1029.8 897 1034 C881.3 1038.2 864.8 1039 849 1050 C833.2 1061 815.5 1085.3 802 1100 C788.5 1114.7 773.7 1131.7 768 1138Z" fill="#B878C5" fill-opacity="0.36"/>
<path d="M750 1118 C752 1114.9 766 1091.5 770 1087 C774 1082.5 782.1 1079 790 1073 C797.9 1067 841 1034.8 849 1027 C857 1019.2 865.2 998 870 995 C874.8 992 885 995.1 897 997 C909 998.9 973 1010.1 990 1014 C1007 1017.9 1059.3 1033.8 1067 1036" fill="none" stroke="#F8A75A" stroke-width="3.2" stroke-linecap="round"/>
<path d="M760 1088 C761.4 1086.5 764.5 1080.3 774 1073 C783.5 1065.7 842.3 1023.1 855 1015 C867.7 1006.9 891.9 994 901 992 C910.1 990 936.7 996 946 995 C955.3 994 979.9 983.4 994 982 C1008.1 980.6 1073.7 981 1087 981 C1100.3 981 1123 981.9 1127 982" fill="none" stroke="#B878C5" stroke-width="3.2" stroke-linecap="round"/>
<path d="M727.4 917.4 V1205.8 H1159.9" fill="none" stroke="#000" stroke-width="3"/>
<line x1="722.4" y1="1196.5" x2="727.4" y2="1196.5" stroke="#333" stroke-width="2"/>
<text x="722.9" y="1205.1" font-size="34" text-anchor="end" fill="#111111" font-weight="normal">0</text>
<line x1="722.4" y1="1132.8" x2="727.4" y2="1132.8" stroke="#333" stroke-width="2"/>
<text x="722.9" y="1141.4" font-size="34" text-anchor="end" fill="#111111" font-weight="normal">5</text>
<line x1="722.4" y1="1069.2" x2="727.4" y2="1069.2" stroke="#333" stroke-width="2"/>
<text x="722.9" y="1077.8" font-size="34" text-anchor="end" fill="#111111" font-weight="normal">10</text>
<line x1="722.4" y1="1005.5" x2="727.4" y2="1005.5" stroke="#333" stroke-width="2"/>
<text x="722.9" y="1014.1" font-size="34" text-anchor="end" fill="#111111" font-weight="normal">15</text>
<line x1="722.4" y1="941.9" x2="727.4" y2="941.9" stroke="#333" stroke-width="2"/>
<text x="722.9" y="950.5" font-size="34" text-anchor="end" fill="#111111" font-weight="normal">20</text>
<line x1="754.9" y1="1205.8" x2="754.9" y2="1210.8" stroke="#333" stroke-width="2"/>
<text x="756.4" y="1239.5" font-size="34" text-anchor="middle" fill="#111111" font-weight="normal">1</text>
<line x1="802" y1="1205.8" x2="802" y2="1210.8" stroke="#333" stroke-width="2"/>
<text x="803.5" y="1239.5" font-size="34" text-anchor="middle" fill="#111111" font-weight="normal">2</text>
<line x1="849.1" y1="1205.8" x2="849.1" y2="1210.8" stroke="#333" stroke-width="2"/>
<text x="850.6" y="1239.5" font-size="34" text-anchor="middle" fill="#111111" font-weight="normal">3</text>
<line x1="896.2" y1="1205.8" x2="896.2" y2="1210.8" stroke="#333" stroke-width="2"/>
<text x="897.7" y="1239.5" font-size="34" text-anchor="middle" fill="#111111" font-weight="normal">4</text>
<line x1="943.3" y1="1205.8" x2="943.3" y2="1210.8" stroke="#333" stroke-width="2"/>
<text x="944.8" y="1239.5" font-size="34" text-anchor="middle" fill="#111111" font-weight="normal">5</text>
<line x1="990.4" y1="1205.8" x2="990.4" y2="1210.8" stroke="#333" stroke-width="2"/>
<text x="991.9" y="1239.5" font-size="34" text-anchor="middle" fill="#111111" font-weight="normal">6</text>
<line x1="1037.5" y1="1205.8" x2="1037.5" y2="1210.8" stroke="#333" stroke-width="2"/>
<text x="1039" y="1239.5" font-size="34" text-anchor="middle" fill="#111111" font-weight="normal">7</text>
<line x1="1084.6" y1="1205.8" x2="1084.6" y2="1210.8" stroke="#333" stroke-width="2"/>
<text x="1086.1" y="1239.5" font-size="34" text-anchor="middle" fill="#111111" font-weight="normal">8</text>
<line x1="1131.7" y1="1205.8" x2="1131.7" y2="1210.8" stroke="#333" stroke-width="2"/>
<text x="1133.2" y="1239.5" font-size="34" text-anchor="middle" fill="#111111" font-weight="normal">9</text>
<text x="727.8" y="904.9" font-size="34" text-anchor="start" fill="#111111" font-weight="normal" textLength="92.9" lengthAdjust="spacingAndGlyphs">N−IgG</text>
<text x="639.5" y="1060" font-size="33" text-anchor="middle" fill="#231815" font-weight="normal" textLength="238" lengthAdjust="spacingAndGlyphs" transform="rotate(-90 639.5 1060)">Expression level</text>
<text x="679" y="1060" font-size="32" text-anchor="middle" fill="#231815" font-weight="normal" textLength="119" lengthAdjust="spacingAndGlyphs" transform="rotate(-90 679 1060)">(AU/mL)</text>
<text x="873" y="1268.3" font-size="32.5" text-anchor="start" fill="#111111" font-weight="normal" textLength="184.4" lengthAdjust="spacingAndGlyphs">Time(weeks)</text>
<line x1="834.3" y1="874.6" x2="839.8" y2="874.6" stroke="#F9A85C" stroke-width="1.5" stroke-linecap="round"/><line x1="834.3" y1="874.6" x2="836" y2="879.8" stroke="#F9A85C" stroke-width="1.5" stroke-linecap="round"/><line x1="834.3" y1="874.6" x2="829.9" y2="877.8" stroke="#F9A85C" stroke-width="1.5" stroke-linecap="round"/><line x1="834.3" y1="874.6" x2="829.9" y2="871.4" stroke="#F9A85C" stroke-width="1.5" stroke-linecap="round"/><line x1="834.3" y1="874.6" x2="836" y2="869.4" stroke="#F9A85C" stroke-width="1.5" stroke-linecap="round"/>
<line x1="834" y1="892.4" x2="839.5" y2="892.4" stroke="#B87BC4" stroke-width="1.5" stroke-linecap="round"/><line x1="834" y1="892.4" x2="835.7" y2="897.6" stroke="#B87BC4" stroke-width="1.5" stroke-linecap="round"/><line x1="834" y1="892.4" x2="829.6" y2="895.6" stroke="#B87BC4" stroke-width="1.5" stroke-linecap="round"/><line x1="834" y1="892.4" x2="829.6" y2="889.2" stroke="#B87BC4" stroke-width="1.5" stroke-linecap="round"/><line x1="834" y1="892.4" x2="835.7" y2="887.2" stroke="#B87BC4" stroke-width="1.5" stroke-linecap="round"/>
<line x1="848" y1="892.4" x2="853.5" y2="892.4" stroke="#B87BC4" stroke-width="1.5" stroke-linecap="round"/><line x1="848" y1="892.4" x2="849.7" y2="897.6" stroke="#B87BC4" stroke-width="1.5" stroke-linecap="round"/><line x1="848" y1="892.4" x2="843.6" y2="895.6" stroke="#B87BC4" stroke-width="1.5" stroke-linecap="round"/><line x1="848" y1="892.4" x2="843.6" y2="889.2" stroke="#B87BC4" stroke-width="1.5" stroke-linecap="round"/><line x1="848" y1="892.4" x2="849.7" y2="887.2" stroke="#B87BC4" stroke-width="1.5" stroke-linecap="round"/>
<line x1="862" y1="892.4" x2="867.5" y2="892.4" stroke="#B87BC4" stroke-width="1.5" stroke-linecap="round"/><line x1="862" y1="892.4" x2="863.7" y2="897.6" stroke="#B87BC4" stroke-width="1.5" stroke-linecap="round"/><line x1="862" y1="892.4" x2="857.6" y2="895.6" stroke="#B87BC4" stroke-width="1.5" stroke-linecap="round"/><line x1="862" y1="892.4" x2="857.6" y2="889.2" stroke="#B87BC4" stroke-width="1.5" stroke-linecap="round"/><line x1="862" y1="892.4" x2="863.7" y2="887.2" stroke="#B87BC4" stroke-width="1.5" stroke-linecap="round"/>
<line x1="834" y1="908.4" x2="839.5" y2="908.4" stroke="#111" stroke-width="1.5" stroke-linecap="round"/><line x1="834" y1="908.4" x2="835.7" y2="913.6" stroke="#111" stroke-width="1.5" stroke-linecap="round"/><line x1="834" y1="908.4" x2="829.6" y2="911.6" stroke="#111" stroke-width="1.5" stroke-linecap="round"/><line x1="834" y1="908.4" x2="829.6" y2="905.2" stroke="#111" stroke-width="1.5" stroke-linecap="round"/><line x1="834" y1="908.4" x2="835.7" y2="903.2" stroke="#111" stroke-width="1.5" stroke-linecap="round"/>
<line x1="848" y1="908.4" x2="853.5" y2="908.4" stroke="#111" stroke-width="1.5" stroke-linecap="round"/><line x1="848" y1="908.4" x2="849.7" y2="913.6" stroke="#111" stroke-width="1.5" stroke-linecap="round"/><line x1="848" y1="908.4" x2="843.6" y2="911.6" stroke="#111" stroke-width="1.5" stroke-linecap="round"/><line x1="848" y1="908.4" x2="843.6" y2="905.2" stroke="#111" stroke-width="1.5" stroke-linecap="round"/><line x1="848" y1="908.4" x2="849.7" y2="903.2" stroke="#111" stroke-width="1.5" stroke-linecap="round"/>
<line x1="862" y1="908.4" x2="867.5" y2="908.4" stroke="#111" stroke-width="1.5" stroke-linecap="round"/><line x1="862" y1="908.4" x2="863.7" y2="913.6" stroke="#111" stroke-width="1.5" stroke-linecap="round"/><line x1="862" y1="908.4" x2="857.6" y2="911.6" stroke="#111" stroke-width="1.5" stroke-linecap="round"/><line x1="862" y1="908.4" x2="857.6" y2="905.2" stroke="#111" stroke-width="1.5" stroke-linecap="round"/><line x1="862" y1="908.4" x2="863.7" y2="903.2" stroke="#111" stroke-width="1.5" stroke-linecap="round"/>
<line x1="1175" y1="50" x2="1207" y2="50" stroke="#F8A75A" stroke-width="8" stroke-linecap="round"/>
<line x1="1176" y1="81.6" x2="1205.6" y2="81.6" stroke="#B878C5" stroke-width="8" stroke-linecap="round"/>
<text x="1221" y="61" font-size="23" text-anchor="start" fill="#111111" font-weight="normal" textLength="31.4" lengthAdjust="spacingAndGlyphs">SC</text>
<text x="1221" y="91.6" font-size="23" text-anchor="start" fill="#111111" font-weight="normal" textLength="29" lengthAdjust="spacingAndGlyphs">LC</text>
<line x1="1169.4" y1="136" x2="1174.9" y2="136" stroke="#F9A85C" stroke-width="1.6" stroke-linecap="round"/><line x1="1169.4" y1="136" x2="1171.1" y2="141.2" stroke="#F9A85C" stroke-width="1.6" stroke-linecap="round"/><line x1="1169.4" y1="136" x2="1165" y2="139.2" stroke="#F9A85C" stroke-width="1.6" stroke-linecap="round"/><line x1="1169.4" y1="136" x2="1165" y2="132.8" stroke="#F9A85C" stroke-width="1.6" stroke-linecap="round"/><line x1="1169.4" y1="136" x2="1171.1" y2="130.8" stroke="#F9A85C" stroke-width="1.6" stroke-linecap="round"/>
<line x1="1169.4" y1="175.6" x2="1174.9" y2="175.6" stroke="#B87BC4" stroke-width="1.6" stroke-linecap="round"/><line x1="1169.4" y1="175.6" x2="1171.1" y2="180.8" stroke="#B87BC4" stroke-width="1.6" stroke-linecap="round"/><line x1="1169.4" y1="175.6" x2="1165" y2="178.8" stroke="#B87BC4" stroke-width="1.6" stroke-linecap="round"/><line x1="1169.4" y1="175.6" x2="1165" y2="172.4" stroke="#B87BC4" stroke-width="1.6" stroke-linecap="round"/><line x1="1169.4" y1="175.6" x2="1171.1" y2="170.4" stroke="#B87BC4" stroke-width="1.6" stroke-linecap="round"/>
<line x1="1169.4" y1="220" x2="1174.9" y2="220" stroke="#111" stroke-width="1.6" stroke-linecap="round"/><line x1="1169.4" y1="220" x2="1171.1" y2="225.2" stroke="#111" stroke-width="1.6" stroke-linecap="round"/><line x1="1169.4" y1="220" x2="1165" y2="223.2" stroke="#111" stroke-width="1.6" stroke-linecap="round"/><line x1="1169.4" y1="220" x2="1165" y2="216.8" stroke="#111" stroke-width="1.6" stroke-linecap="round"/><line x1="1169.4" y1="220" x2="1171.1" y2="214.8" stroke="#111" stroke-width="1.6" stroke-linecap="round"/>
<text x="1185.6" y="153" font-size="22" text-anchor="start" fill="#111111" font-weight="normal" textLength="140.4" lengthAdjust="spacingAndGlyphs">sig. in the SC</text>
<text x="1185.6" y="192.4" font-size="22" text-anchor="start" fill="#111111" font-weight="normal" textLength="137.6" lengthAdjust="spacingAndGlyphs">sig. in the LC</text>
<text x="1185.6" y="237" font-size="22" text-anchor="start" fill="#111111" font-weight="normal" textLength="139" lengthAdjust="spacingAndGlyphs">sig. tested by</text>
<text x="1190" y="265" font-size="22" text-anchor="start" fill="#111111" font-weight="normal" textLength="172" lengthAdjust="spacingAndGlyphs">two-way ANOVA</text>
<text x="9" y="33" font-size="38" text-anchor="start" fill="#111111" font-weight="bold">a</text><text x="621.5" y="30" font-size="38" text-anchor="start" fill="#111111" font-weight="bold">b</text>
<defs>
<radialGradient id="jR"><stop offset="0" stop-color="#ff0000"/><stop offset="0.17" stop-color="#ff6a00"/><stop offset="0.32" stop-color="#ffff00"/><stop offset="0.47" stop-color="#00ff00"/><stop offset="0.62" stop-color="#00ffff"/><stop offset="0.8" stop-color="#0080ff"/><stop offset="1" stop-color="#0000ff" stop-opacity="0"/></radialGradient>
<radialGradient id="jY"><stop offset="0" stop-color="#ffee00"/><stop offset="0.18" stop-color="#b0ff00"/><stop offset="0.36" stop-color="#00ff00"/><stop offset="0.58" stop-color="#00ffff"/><stop offset="0.8" stop-color="#0080ff"/><stop offset="1" stop-color="#0000ff" stop-opacity="0"/></radialGradient>
<radialGradient id="jG"><stop offset="0" stop-color="#90ff00"/><stop offset="0.22" stop-color="#00ff00"/><stop offset="0.42" stop-color="#00ff80"/><stop offset="0.6" stop-color="#00ffff"/><stop offset="0.8" stop-color="#0080ff"/><stop offset="1" stop-color="#0000ff" stop-opacity="0"/></radialGradient>
<radialGradient id="jC"><stop offset="0" stop-color="#00ffe0"/><stop offset="0.35" stop-color="#00f0ff"/><stop offset="0.7" stop-color="#0070ff"/><stop offset="1" stop-color="#0000ff" stop-opacity="0"/></radialGradient>
<radialGradient id="jB"><stop offset="0" stop-color="#0060ff"/><stop offset="0.6" stop-color="#0040ff" stop-opacity="0.7"/><stop offset="1" stop-color="#0000ff" stop-opacity="0"/></radialGradient>
<radialGradient id="jL"><stop offset="0" stop-color="#00c8ff"/><stop offset="0.5" stop-color="#0070ff"/><stop offset="1" stop-color="#0000ff" stop-opacity="0"/></radialGradient>
</defs>
<clipPath id="cl1"><path d="M348.3 1371.2 C349.7 1367.8 360.3 1364.5 364 1363.5 C367.7 1362.5 376.5 1361.9 379.7 1362.7 C383 1363.6 388.6 1371.5 391.8 1370.8 C395.1 1370.1 403.5 1358.9 407.6 1356.7 C411.6 1354.5 421.2 1352.3 426.6 1351.8 C431.9 1351.4 448.1 1351.5 453.2 1352.6 C458.3 1353.8 467.5 1359.2 470.1 1361.5 C472.8 1363.8 475.2 1366.2 476.2 1372.4 C477.2 1378.6 478.2 1407.9 478.6 1414.8 C479 1421.7 479.9 1425 479.8 1431.3 C479.7 1437.6 478.4 1460.2 477.8 1468.9 C477.2 1477.6 475.9 1500 475 1506 C474.1 1512 472.3 1516.3 470.1 1520.5 C468 1524.8 456.8 1538.1 456.8 1542.3 C456.8 1546.5 467.7 1553.3 470.1 1556.8 C472.6 1560.4 476.9 1569.4 477.8 1572.6 C478.7 1575.7 478.9 1580.7 478.2 1583.9 C477.5 1587.1 471 1596.1 471.8 1600 C472.5 1604 482.8 1613.9 484.3 1617.8 C485.7 1621.7 485.9 1629.4 484.3 1633.5 C482.6 1637.6 474.6 1649.9 470.1 1652.9 C465.7 1655.9 456.2 1658.5 445.9 1659.3 C435.7 1660.2 392.2 1660.7 382.2 1660.1 C372.1 1659.6 365.5 1655.7 359.6 1654.5 C353.6 1653.3 339.5 1651.7 330.9 1649.7 C322.3 1647.6 292.4 1639.4 286.1 1636.7 C279.9 1634.1 277.4 1629.5 277.2 1627.1 C277.1 1624.6 280.3 1617.1 284.5 1615.4 C288.7 1613.6 305.9 1611.7 313.2 1612.1 C320.5 1612.6 340.9 1620 347.1 1619.4 C353.2 1618.7 363.2 1609.1 366 1606.5 C368.8 1603.8 371.2 1599.8 370.9 1596.8 C370.5 1593.8 365.1 1584.6 362.8 1580.6 C360.5 1576.7 352.3 1568.9 351.5 1563.3 C350.6 1557.7 354.2 1538.3 355.5 1532.6 C356.8 1526.9 360.4 1518.7 362.8 1514.5 C365.2 1510.2 373.2 1500.1 376.1 1496.3 C379 1492.5 386.3 1488.9 387.4 1482.2 C388.5 1475.4 386.5 1445.4 385.8 1438.6 C385.1 1431.8 381.9 1427.7 381.4 1424.1 C380.8 1420.4 380.6 1410.4 381 1407.5 C381.3 1404.6 387.6 1398.6 384.6 1399 C381.6 1399.5 359.3 1411.9 355.5 1411.2 C351.7 1410.4 352.7 1397.7 351.9 1393 C351 1388.3 346.9 1374.6 348.3 1371.2Z"/></clipPath><path d="M348.3 1371.2 C349.7 1367.8 360.3 1364.5 364 1363.5 C367.7 1362.5 376.5 1361.9 379.7 1362.7 C383 1363.6 388.6 1371.5 391.8 1370.8 C395.1 1370.1 403.5 1358.9 407.6 1356.7 C411.6 1354.5 421.2 1352.3 426.6 1351.8 C431.9 1351.4 448.1 1351.5 453.2 1352.6 C458.3 1353.8 467.5 1359.2 470.1 1361.5 C472.8 1363.8 475.2 1366.2 476.2 1372.4 C477.2 1378.6 478.2 1407.9 478.6 1414.8 C479 1421.7 479.9 1425 479.8 1431.3 C479.7 1437.6 478.4 1460.2 477.8 1468.9 C477.2 1477.6 475.9 1500 475 1506 C474.1 1512 472.3 1516.3 470.1 1520.5 C468 1524.8 456.8 1538.1 456.8 1542.3 C456.8 1546.5 467.7 1553.3 470.1 1556.8 C472.6 1560.4 476.9 1569.4 477.8 1572.6 C478.7 1575.7 478.9 1580.7 478.2 1583.9 C477.5 1587.1 471 1596.1 471.8 1600 C472.5 1604 482.8 1613.9 484.3 1617.8 C485.7 1621.7 485.9 1629.4 484.3 1633.5 C482.6 1637.6 474.6 1649.9 470.1 1652.9 C465.7 1655.9 456.2 1658.5 445.9 1659.3 C435.7 1660.2 392.2 1660.7 382.2 1660.1 C372.1 1659.6 365.5 1655.7 359.6 1654.5 C353.6 1653.3 339.5 1651.7 330.9 1649.7 C322.3 1647.6 292.4 1639.4 286.1 1636.7 C279.9 1634.1 277.4 1629.5 277.2 1627.1 C277.1 1624.6 280.3 1617.1 284.5 1615.4 C288.7 1613.6 305.9 1611.7 313.2 1612.1 C320.5 1612.6 340.9 1620 347.1 1619.4 C353.2 1618.7 363.2 1609.1 366 1606.5 C368.8 1603.8 371.2 1599.8 370.9 1596.8 C370.5 1593.8 365.1 1584.6 362.8 1580.6 C360.5 1576.7 352.3 1568.9 351.5 1563.3 C350.6 1557.7 354.2 1538.3 355.5 1532.6 C356.8 1526.9 360.4 1518.7 362.8 1514.5 C365.2 1510.2 373.2 1500.1 376.1 1496.3 C379 1492.5 386.3 1488.9 387.4 1482.2 C388.5 1475.4 386.5 1445.4 385.8 1438.6 C385.1 1431.8 381.9 1427.7 381.4 1424.1 C380.8 1420.4 380.6 1410.4 381 1407.5 C381.3 1404.6 387.6 1398.6 384.6 1399 C381.6 1399.5 359.3 1411.9 355.5 1411.2 C351.7 1410.4 352.7 1397.7 351.9 1393 C351 1388.3 346.9 1374.6 348.3 1371.2Z" fill="#0000ff"/><g clip-path="url(#cl1)"><ellipse cx="419.7" cy="1522.1" rx="104.9" ry="193.7" fill="url(#jB)"/><ellipse cx="439.9" cy="1444.6" rx="42.4" ry="131.2" fill="url(#jG)"/><ellipse cx="395.5" cy="1556.4" rx="34.3" ry="38.3" fill="url(#jC)"/><ellipse cx="412.4" cy="1640" rx="86.8" ry="40.4" fill="url(#jR)"/></g>
<path d="M358.8 1649.7 C358.8 1646.9 363.7 1632.2 366 1628.7 C368.4 1625.2 378.5 1616.5 382.2 1614.5 C385.8 1612.6 397.9 1609.4 402.7 1608.9 C407.5 1608.4 425.2 1609.1 430.2 1609.7 C435.1 1610.3 449 1613.6 452.4 1615.4 C455.8 1617.1 462.5 1624.3 464.5 1627.1 C466.5 1629.8 472.2 1640.6 472.6 1643.2 C473 1645.8 471.2 1651.3 468.5 1652.9 C465.9 1654.4 452.2 1657.8 445.9 1658.5 C439.7 1659.3 414 1660.4 406 1660.1 C398 1659.9 370.7 1657.2 366 1656.1 C361.3 1655.1 358.8 1652.4 358.8 1649.7Z" fill="none" stroke="#ff1a1a" stroke-width="3"/>
<rect x="218" y="1335.7" width="328.8" height="325.7" fill="none" stroke="#000" stroke-width="3"/>
<line x1="219.5" y1="1661.4" x2="219.5" y2="1664.4" stroke="#555" stroke-width="1.3"/><line x1="227.7" y1="1661.4" x2="227.7" y2="1664.4" stroke="#555" stroke-width="1.3"/><line x1="235.8" y1="1661.4" x2="235.8" y2="1664.4" stroke="#555" stroke-width="1.3"/><line x1="244" y1="1661.4" x2="244" y2="1664.4" stroke="#555" stroke-width="1.3"/><line x1="252.1" y1="1661.4" x2="252.1" y2="1664.4" stroke="#555" stroke-width="1.3"/><line x1="260.3" y1="1661.4" x2="260.3" y2="1664.4" stroke="#555" stroke-width="1.3"/><line x1="268.4" y1="1661.4" x2="268.4" y2="1664.4" stroke="#555" stroke-width="1.3"/><line x1="276.6" y1="1661.4" x2="276.6" y2="1664.4" stroke="#555" stroke-width="1.3"/><line x1="284.8" y1="1661.4" x2="284.8" y2="1664.4" stroke="#555" stroke-width="1.3"/><line x1="292.9" y1="1661.4" x2="292.9" y2="1664.4" stroke="#555" stroke-width="1.3"/><line x1="301.1" y1="1661.4" x2="301.1" y2="1664.4" stroke="#555" stroke-width="1.3"/><line x1="309.2" y1="1661.4" x2="309.2" y2="1664.4" stroke="#555" stroke-width="1.3"/><line x1="317.4" y1="1661.4" x2="317.4" y2="1664.4" stroke="#555" stroke-width="1.3"/><line x1="325.5" y1="1661.4" x2="325.5" y2="1664.4" stroke="#555" stroke-width="1.3"/><line x1="333.7" y1="1661.4" x2="333.7" y2="1664.4" stroke="#555" stroke-width="1.3"/><line x1="341.9" y1="1661.4" x2="341.9" y2="1664.4" stroke="#555" stroke-width="1.3"/><line x1="350" y1="1661.4" x2="350" y2="1664.4" stroke="#555" stroke-width="1.3"/><line x1="358.2" y1="1661.4" x2="358.2" y2="1664.4" stroke="#555" stroke-width="1.3"/><line x1="366.3" y1="1661.4" x2="366.3" y2="1664.4" stroke="#555" stroke-width="1.3"/><line x1="374.5" y1="1661.4" x2="374.5" y2="1664.4" stroke="#555" stroke-width="1.3"/><line x1="382.6" y1="1661.4" x2="382.6" y2="1664.4" stroke="#555" stroke-width="1.3"/><line x1="390.8" y1="1661.4" x2="390.8" y2="1664.4" stroke="#555" stroke-width="1.3"/><line x1="399" y1="1661.4" x2="399" y2="1664.4" stroke="#555" stroke-width="1.3"/><line x1="407.1" y1="1661.4" x2="407.1" y2="1664.4" stroke="#555" stroke-width="1.3"/><line x1="415.3" y1="1661.4" x2="415.3" y2="1664.4" stroke="#555" stroke-width="1.3"/><line x1="423.4" y1="1661.4" x2="423.4" y2="1664.4" stroke="#555" stroke-width="1.3"/><line x1="431.6" y1="1661.4" x2="431.6" y2="1664.4" stroke="#555" stroke-width="1.3"/><line x1="439.8" y1="1661.4" x2="439.8" y2="1664.4" stroke="#555" stroke-width="1.3"/><line x1="447.9" y1="1661.4" x2="447.9" y2="1664.4" stroke="#555" stroke-width="1.3"/><line x1="456.1" y1="1661.4" x2="456.1" y2="1664.4" stroke="#555" stroke-width="1.3"/><line x1="464.2" y1="1661.4" x2="464.2" y2="1664.4" stroke="#555" stroke-width="1.3"/><line x1="472.4" y1="1661.4" x2="472.4" y2="1664.4" stroke="#555" stroke-width="1.3"/><line x1="480.5" y1="1661.4" x2="480.5" y2="1664.4" stroke="#555" stroke-width="1.3"/><line x1="488.7" y1="1661.4" x2="488.7" y2="1664.4" stroke="#555" stroke-width="1.3"/><line x1="496.9" y1="1661.4" x2="496.9" y2="1664.4" stroke="#555" stroke-width="1.3"/><line x1="505" y1="1661.4" x2="505" y2="1664.4" stroke="#555" stroke-width="1.3"/><line x1="513.2" y1="1661.4" x2="513.2" y2="1664.4" stroke="#555" stroke-width="1.3"/><line x1="521.3" y1="1661.4" x2="521.3" y2="1664.4" stroke="#555" stroke-width="1.3"/><line x1="529.5" y1="1661.4" x2="529.5" y2="1664.4" stroke="#555" stroke-width="1.3"/><line x1="537.6" y1="1661.4" x2="537.6" y2="1664.4" stroke="#555" stroke-width="1.3"/><line x1="545.8" y1="1661.4" x2="545.8" y2="1664.4" stroke="#555" stroke-width="1.3"/>
<line x1="213.5" y1="1336.5" x2="216.5" y2="1336.5" stroke="#444" stroke-width="1.6"/><line x1="213.5" y1="1349.5" x2="216.5" y2="1349.5" stroke="#444" stroke-width="1.6"/><line x1="213.5" y1="1362.5" x2="216.5" y2="1362.5" stroke="#444" stroke-width="1.6"/><line x1="213.5" y1="1375.5" x2="216.5" y2="1375.5" stroke="#444" stroke-width="1.6"/><line x1="213.5" y1="1388.5" x2="216.5" y2="1388.5" stroke="#444" stroke-width="1.6"/><line x1="213.5" y1="1401.5" x2="216.5" y2="1401.5" stroke="#444" stroke-width="1.6"/><line x1="213.5" y1="1414.5" x2="216.5" y2="1414.5" stroke="#444" stroke-width="1.6"/><line x1="213.5" y1="1427.5" x2="216.5" y2="1427.5" stroke="#444" stroke-width="1.6"/><line x1="213.5" y1="1440.5" x2="216.5" y2="1440.5" stroke="#444" stroke-width="1.6"/><line x1="213.5" y1="1453.5" x2="216.5" y2="1453.5" stroke="#444" stroke-width="1.6"/><line x1="213.5" y1="1466.5" x2="216.5" y2="1466.5" stroke="#444" stroke-width="1.6"/><line x1="213.5" y1="1479.5" x2="216.5" y2="1479.5" stroke="#444" stroke-width="1.6"/><line x1="213.5" y1="1492.5" x2="216.5" y2="1492.5" stroke="#444" stroke-width="1.6"/><line x1="213.5" y1="1505.4" x2="216.5" y2="1505.4" stroke="#444" stroke-width="1.6"/><line x1="213.5" y1="1518.4" x2="216.5" y2="1518.4" stroke="#444" stroke-width="1.6"/><line x1="213.5" y1="1531.4" x2="216.5" y2="1531.4" stroke="#444" stroke-width="1.6"/><line x1="213.5" y1="1544.4" x2="216.5" y2="1544.4" stroke="#444" stroke-width="1.6"/><line x1="213.5" y1="1557.4" x2="216.5" y2="1557.4" stroke="#444" stroke-width="1.6"/><line x1="213.5" y1="1570.4" x2="216.5" y2="1570.4" stroke="#444" stroke-width="1.6"/><line x1="213.5" y1="1583.4" x2="216.5" y2="1583.4" stroke="#444" stroke-width="1.6"/><line x1="213.5" y1="1596.4" x2="216.5" y2="1596.4" stroke="#444" stroke-width="1.6"/><line x1="213.5" y1="1609.4" x2="216.5" y2="1609.4" stroke="#444" stroke-width="1.6"/><line x1="213.5" y1="1622.4" x2="216.5" y2="1622.4" stroke="#444" stroke-width="1.6"/><line x1="213.5" y1="1635.4" x2="216.5" y2="1635.4" stroke="#444" stroke-width="1.6"/><line x1="213.5" y1="1648.4" x2="216.5" y2="1648.4" stroke="#444" stroke-width="1.6"/><line x1="213.5" y1="1661.4" x2="216.5" y2="1661.4" stroke="#444" stroke-width="1.6"/>
<line x1="212" y1="1661.4" x2="218" y2="1661.4" stroke="#000" stroke-width="3"/>
<text x="197" y="1661.4" font-size="22" text-anchor="middle" fill="#111111" font-weight="normal" transform="rotate(-90 197 1661.4)">0</text>
<line x1="212" y1="1598" x2="218" y2="1598" stroke="#000" stroke-width="3"/>
<text x="197" y="1598" font-size="22" text-anchor="middle" fill="#111111" font-weight="normal" transform="rotate(-90 197 1598)">0.2</text>
<line x1="212" y1="1535" x2="218" y2="1535" stroke="#000" stroke-width="3"/>
<text x="197" y="1535" font-size="22" text-anchor="middle" fill="#111111" font-weight="normal" transform="rotate(-90 197 1535)">0.4</text>
<line x1="212" y1="1472.5" x2="218" y2="1472.5" stroke="#000" stroke-width="3"/>
<text x="197" y="1472.5" font-size="22" text-anchor="middle" fill="#111111" font-weight="normal" transform="rotate(-90 197 1472.5)">0.6</text>
<line x1="212" y1="1410" x2="218" y2="1410" stroke="#000" stroke-width="3"/>
<text x="197" y="1410" font-size="22" text-anchor="middle" fill="#111111" font-weight="normal" transform="rotate(-90 197 1410)">0.8</text>
<line x1="212" y1="1336.5" x2="218" y2="1336.5" stroke="#000" stroke-width="3"/>
<text x="197" y="1336.5" font-size="22" text-anchor="middle" fill="#111111" font-weight="normal" transform="rotate(-90 197 1336.5)">1</text>
<line x1="219.5" y1="1661.4" x2="219.5" y2="1668" stroke="#000" stroke-width="3"/>
<text x="206.8" y="1687.7" font-size="18.5" text-anchor="start" fill="#111111" font-weight="normal">10</text><text x="227.8" y="1681.7" font-size="17" text-anchor="start" fill="#111111" font-weight="normal">-1</text>
<line x1="328.6" y1="1661.4" x2="328.6" y2="1668" stroke="#000" stroke-width="3"/>
<text x="315.9" y="1687.7" font-size="18.5" text-anchor="start" fill="#111111" font-weight="normal">10</text><text x="336.9" y="1681.7" font-size="17" text-anchor="start" fill="#111111" font-weight="normal">0</text>
<line x1="437.7" y1="1661.4" x2="437.7" y2="1668" stroke="#000" stroke-width="3"/>
<text x="425" y="1687.7" font-size="18.5" text-anchor="start" fill="#111111" font-weight="normal">10</text><text x="446" y="1681.7" font-size="17" text-anchor="start" fill="#111111" font-weight="normal">1</text>
<line x1="545.8" y1="1661.4" x2="545.8" y2="1668" stroke="#000" stroke-width="3"/>
<text x="533.1" y="1687.7" font-size="18.5" text-anchor="start" fill="#111111" font-weight="normal">10</text><text x="554.1" y="1681.7" font-size="17" text-anchor="start" fill="#111111" font-weight="normal">2</text>
<text x="229.4" y="1360" font-size="28" text-anchor="start" fill="#0E820E" font-weight="normal" textLength="165.3" lengthAdjust="spacingAndGlyphs">Lymphocytes</text>
<text x="228.1" y="1393.9" font-size="28" text-anchor="start" fill="#0E820E" font-weight="normal" textLength="95.2" lengthAdjust="spacingAndGlyphs">42.75%</text>
<clipPath id="cl2"><path d="M320.4 1734.7 C324.9 1734.3 335.3 1734.7 339.8 1737.9 C344.3 1741.1 355.2 1757.4 358.8 1762.1 C362.3 1766.8 368 1772.6 370.1 1778.2 C372.1 1783.8 375.6 1799 376.5 1810.1 C377.5 1821.3 377.9 1862.7 378.1 1873.9 C378.3 1885.1 374.4 1900.2 378.1 1906.2 C381.8 1912.1 402.6 1920.8 410 1925.1 C417.4 1929.4 436.3 1938.6 441.9 1942.9 C447.5 1947.2 455.4 1955.3 458 1962.3 C460.7 1969.2 462.6 1994.6 464.5 2002.2 C466.4 2009.8 473.2 2023.9 474.2 2027.6 C475.1 2031.4 474.4 2032.8 472.6 2034.1 C470.7 2035.4 472.8 2038 458 2038.9 C443.3 2039.9 361.5 2043.7 346.2 2042.2 C330.9 2040.7 331 2029.6 326.9 2026 C322.7 2022.5 312.4 2015.1 310.7 2011.9 C309 2008.7 309 2002 312.3 1999 C315.7 1996 336.2 1988.3 339.8 1986.1 C343.4 1983.8 343.4 1981.8 343 1979.6 C342.6 1977.4 340.9 1969.3 336.6 1967.1 C332.2 1964.9 312.6 1962.7 305.9 1960.6 C299.2 1958.6 284.3 1953.5 278.9 1949.3 C273.4 1945.2 262.1 1932.1 259.5 1925.1 C256.8 1918.2 256.8 1896.3 256.3 1890 C255.7 1883.7 253.9 1878.5 254.6 1871.1 C255.4 1863.6 260.8 1834.9 262.7 1826.3 C264.6 1817.6 268.5 1804.1 270.8 1797.2 C273 1790.3 278.6 1773.5 282.1 1766.9 C285.6 1760.4 296.6 1744.9 301 1741.1 C305.5 1737.3 315.9 1735 320.4 1734.7Z"/></clipPath><path d="M320.4 1734.7 C324.9 1734.3 335.3 1734.7 339.8 1737.9 C344.3 1741.1 355.2 1757.4 358.8 1762.1 C362.3 1766.8 368 1772.6 370.1 1778.2 C372.1 1783.8 375.6 1799 376.5 1810.1 C377.5 1821.3 377.9 1862.7 378.1 1873.9 C378.3 1885.1 374.4 1900.2 378.1 1906.2 C381.8 1912.1 402.6 1920.8 410 1925.1 C417.4 1929.4 436.3 1938.6 441.9 1942.9 C447.5 1947.2 455.4 1955.3 458 1962.3 C460.7 1969.2 462.6 1994.6 464.5 2002.2 C466.4 2009.8 473.2 2023.9 474.2 2027.6 C475.1 2031.4 474.4 2032.8 472.6 2034.1 C470.7 2035.4 472.8 2038 458 2038.9 C443.3 2039.9 361.5 2043.7 346.2 2042.2 C330.9 2040.7 331 2029.6 326.9 2026 C322.7 2022.5 312.4 2015.1 310.7 2011.9 C309 2008.7 309 2002 312.3 1999 C315.7 1996 336.2 1988.3 339.8 1986.1 C343.4 1983.8 343.4 1981.8 343 1979.6 C342.6 1977.4 340.9 1969.3 336.6 1967.1 C332.2 1964.9 312.6 1962.7 305.9 1960.6 C299.2 1958.6 284.3 1953.5 278.9 1949.3 C273.4 1945.2 262.1 1932.1 259.5 1925.1 C256.8 1918.2 256.8 1896.3 256.3 1890 C255.7 1883.7 253.9 1878.5 254.6 1871.1 C255.4 1863.6 260.8 1834.9 262.7 1826.3 C264.6 1817.6 268.5 1804.1 270.8 1797.2 C273 1790.3 278.6 1773.5 282.1 1766.9 C285.6 1760.4 296.6 1744.9 301 1741.1 C305.5 1737.3 315.9 1735 320.4 1734.7Z" fill="#0000ff"/><g clip-path="url(#cl2)"><ellipse cx="322.8" cy="1869.8" rx="100.9" ry="169.5" fill="url(#jB)"/><ellipse cx="318.8" cy="1873.9" rx="50.4" ry="121.1" fill="url(#jY)"/><ellipse cx="374.9" cy="1951" rx="36.3" ry="30.7" fill="url(#jG)"/><ellipse cx="400.3" cy="2016.3" rx="88.8" ry="40.4" fill="url(#jR)"/></g>
<path d="M338.2 2022.8 C338.2 2020.9 343.9 2011.5 346.2 2008.7 C348.6 2005.8 359 1996.2 362 1994.1 C365 1992 372.4 1988.3 376.5 1987.7 C380.7 1987 398.6 1987.4 403.6 1987.7 C408.5 1988 421.8 1989.9 426.2 1990.9 C430.5 1991.9 443.4 1995.9 446.7 1997.4 C450.1 1998.8 458.4 2003.5 459.6 2005.4 C460.9 2007.3 460.3 2014.1 459.6 2016.3 C459 2018.6 455 2026 453.2 2027.6 C451.4 2029.2 447 2031.8 441.9 2032.5 C436.8 2033.2 409.9 2034.9 401.9 2034.9 C393.9 2034.9 367.6 2033.2 362 2032.5 C356.4 2031.8 348.6 2028.6 346.2 2027.6 C343.9 2026.7 338.2 2024.7 338.2 2022.8Z" fill="none" stroke="#ff1a1a" stroke-width="3"/>
<rect x="214.7" y="1715.7" width="329.3" height="325.7" fill="none" stroke="#000" stroke-width="3"/>
<line x1="210.2" y1="1716.5" x2="213.2" y2="1716.5" stroke="#444" stroke-width="1.6"/><line x1="210.2" y1="1729.5" x2="213.2" y2="1729.5" stroke="#444" stroke-width="1.6"/><line x1="210.2" y1="1742.5" x2="213.2" y2="1742.5" stroke="#444" stroke-width="1.6"/><line x1="210.2" y1="1755.5" x2="213.2" y2="1755.5" stroke="#444" stroke-width="1.6"/><line x1="210.2" y1="1768.5" x2="213.2" y2="1768.5" stroke="#444" stroke-width="1.6"/><line x1="210.2" y1="1781.5" x2="213.2" y2="1781.5" stroke="#444" stroke-width="1.6"/><line x1="210.2" y1="1794.5" x2="213.2" y2="1794.5" stroke="#444" stroke-width="1.6"/><line x1="210.2" y1="1807.5" x2="213.2" y2="1807.5" stroke="#444" stroke-width="1.6"/><line x1="210.2" y1="1820.5" x2="213.2" y2="1820.5" stroke="#444" stroke-width="1.6"/><line x1="210.2" y1="1833.5" x2="213.2" y2="1833.5" stroke="#444" stroke-width="1.6"/><line x1="210.2" y1="1846.5" x2="213.2" y2="1846.5" stroke="#444" stroke-width="1.6"/><line x1="210.2" y1="1859.5" x2="213.2" y2="1859.5" stroke="#444" stroke-width="1.6"/><line x1="210.2" y1="1872.5" x2="213.2" y2="1872.5" stroke="#444" stroke-width="1.6"/><line x1="210.2" y1="1885.4" x2="213.2" y2="1885.4" stroke="#444" stroke-width="1.6"/><line x1="210.2" y1="1898.4" x2="213.2" y2="1898.4" stroke="#444" stroke-width="1.6"/><line x1="210.2" y1="1911.4" x2="213.2" y2="1911.4" stroke="#444" stroke-width="1.6"/><line x1="210.2" y1="1924.4" x2="213.2" y2="1924.4" stroke="#444" stroke-width="1.6"/><line x1="210.2" y1="1937.4" x2="213.2" y2="1937.4" stroke="#444" stroke-width="1.6"/><line x1="210.2" y1="1950.4" x2="213.2" y2="1950.4" stroke="#444" stroke-width="1.6"/><line x1="210.2" y1="1963.4" x2="213.2" y2="1963.4" stroke="#444" stroke-width="1.6"/><line x1="210.2" y1="1976.4" x2="213.2" y2="1976.4" stroke="#444" stroke-width="1.6"/><line x1="210.2" y1="1989.4" x2="213.2" y2="1989.4" stroke="#444" stroke-width="1.6"/><line x1="210.2" y1="2002.4" x2="213.2" y2="2002.4" stroke="#444" stroke-width="1.6"/><line x1="210.2" y1="2015.4" x2="213.2" y2="2015.4" stroke="#444" stroke-width="1.6"/><line x1="210.2" y1="2028.4" x2="213.2" y2="2028.4" stroke="#444" stroke-width="1.6"/><line x1="210.2" y1="2041.4" x2="213.2" y2="2041.4" stroke="#444" stroke-width="1.6"/>
<line x1="218" y1="2041.4" x2="218" y2="2044.4" stroke="#555" stroke-width="1.3"/><line x1="226.1" y1="2041.4" x2="226.1" y2="2044.4" stroke="#555" stroke-width="1.3"/><line x1="234.2" y1="2041.4" x2="234.2" y2="2044.4" stroke="#555" stroke-width="1.3"/><line x1="242.4" y1="2041.4" x2="242.4" y2="2044.4" stroke="#555" stroke-width="1.3"/><line x1="250.5" y1="2041.4" x2="250.5" y2="2044.4" stroke="#555" stroke-width="1.3"/><line x1="258.6" y1="2041.4" x2="258.6" y2="2044.4" stroke="#555" stroke-width="1.3"/><line x1="266.8" y1="2041.4" x2="266.8" y2="2044.4" stroke="#555" stroke-width="1.3"/><line x1="274.9" y1="2041.4" x2="274.9" y2="2044.4" stroke="#555" stroke-width="1.3"/><line x1="283" y1="2041.4" x2="283" y2="2044.4" stroke="#555" stroke-width="1.3"/><line x1="291.1" y1="2041.4" x2="291.1" y2="2044.4" stroke="#555" stroke-width="1.3"/><line x1="299.2" y1="2041.4" x2="299.2" y2="2044.4" stroke="#555" stroke-width="1.3"/><line x1="307.4" y1="2041.4" x2="307.4" y2="2044.4" stroke="#555" stroke-width="1.3"/><line x1="315.5" y1="2041.4" x2="315.5" y2="2044.4" stroke="#555" stroke-width="1.3"/><line x1="323.6" y1="2041.4" x2="323.6" y2="2044.4" stroke="#555" stroke-width="1.3"/><line x1="331.8" y1="2041.4" x2="331.8" y2="2044.4" stroke="#555" stroke-width="1.3"/><line x1="339.9" y1="2041.4" x2="339.9" y2="2044.4" stroke="#555" stroke-width="1.3"/><line x1="348" y1="2041.4" x2="348" y2="2044.4" stroke="#555" stroke-width="1.3"/><line x1="356.1" y1="2041.4" x2="356.1" y2="2044.4" stroke="#555" stroke-width="1.3"/><line x1="364.2" y1="2041.4" x2="364.2" y2="2044.4" stroke="#555" stroke-width="1.3"/><line x1="372.4" y1="2041.4" x2="372.4" y2="2044.4" stroke="#555" stroke-width="1.3"/><line x1="380.5" y1="2041.4" x2="380.5" y2="2044.4" stroke="#555" stroke-width="1.3"/><line x1="388.6" y1="2041.4" x2="388.6" y2="2044.4" stroke="#555" stroke-width="1.3"/><line x1="396.8" y1="2041.4" x2="396.8" y2="2044.4" stroke="#555" stroke-width="1.3"/><line x1="404.9" y1="2041.4" x2="404.9" y2="2044.4" stroke="#555" stroke-width="1.3"/><line x1="413" y1="2041.4" x2="413" y2="2044.4" stroke="#555" stroke-width="1.3"/><line x1="421.1" y1="2041.4" x2="421.1" y2="2044.4" stroke="#555" stroke-width="1.3"/><line x1="429.2" y1="2041.4" x2="429.2" y2="2044.4" stroke="#555" stroke-width="1.3"/><line x1="437.4" y1="2041.4" x2="437.4" y2="2044.4" stroke="#555" stroke-width="1.3"/><line x1="445.5" y1="2041.4" x2="445.5" y2="2044.4" stroke="#555" stroke-width="1.3"/><line x1="453.6" y1="2041.4" x2="453.6" y2="2044.4" stroke="#555" stroke-width="1.3"/><line x1="461.8" y1="2041.4" x2="461.8" y2="2044.4" stroke="#555" stroke-width="1.3"/><line x1="469.9" y1="2041.4" x2="469.9" y2="2044.4" stroke="#555" stroke-width="1.3"/><line x1="478" y1="2041.4" x2="478" y2="2044.4" stroke="#555" stroke-width="1.3"/><line x1="486.1" y1="2041.4" x2="486.1" y2="2044.4" stroke="#555" stroke-width="1.3"/><line x1="494.2" y1="2041.4" x2="494.2" y2="2044.4" stroke="#555" stroke-width="1.3"/><line x1="502.4" y1="2041.4" x2="502.4" y2="2044.4" stroke="#555" stroke-width="1.3"/><line x1="510.5" y1="2041.4" x2="510.5" y2="2044.4" stroke="#555" stroke-width="1.3"/><line x1="518.6" y1="2041.4" x2="518.6" y2="2044.4" stroke="#555" stroke-width="1.3"/><line x1="526.8" y1="2041.4" x2="526.8" y2="2044.4" stroke="#555" stroke-width="1.3"/><line x1="534.9" y1="2041.4" x2="534.9" y2="2044.4" stroke="#555" stroke-width="1.3"/><line x1="543" y1="2041.4" x2="543" y2="2044.4" stroke="#555" stroke-width="1.3"/>
<line x1="209" y1="2041.4" x2="215" y2="2041.4" stroke="#000" stroke-width="3"/>
<text x="195" y="2041.4" font-size="22" text-anchor="middle" fill="#111111" font-weight="normal" transform="rotate(-90 195 2041.4)">0</text>
<line x1="209" y1="1978" x2="215" y2="1978" stroke="#000" stroke-width="3"/>
<text x="195" y="1978" font-size="22" text-anchor="middle" fill="#111111" font-weight="normal" transform="rotate(-90 195 1978)">0.2</text>
<line x1="209" y1="1915" x2="215" y2="1915" stroke="#000" stroke-width="3"/>
<text x="195" y="1915" font-size="22" text-anchor="middle" fill="#111111" font-weight="normal" transform="rotate(-90 195 1915)">0.4</text>
<line x1="209" y1="1852.5" x2="215" y2="1852.5" stroke="#000" stroke-width="3"/>
<text x="195" y="1852.5" font-size="22" text-anchor="middle" fill="#111111" font-weight="normal" transform="rotate(-90 195 1852.5)">0.6</text>
<line x1="209" y1="1790" x2="215" y2="1790" stroke="#000" stroke-width="3"/>
<text x="195" y="1790" font-size="22" text-anchor="middle" fill="#111111" font-weight="normal" transform="rotate(-90 195 1790)">0.8</text>
<line x1="209" y1="1716.5" x2="215" y2="1716.5" stroke="#000" stroke-width="3"/>
<text x="195" y="1716.5" font-size="22" text-anchor="middle" fill="#111111" font-weight="normal" transform="rotate(-90 195 1716.5)">1</text>
<line x1="218" y1="2041.4" x2="218" y2="2048" stroke="#000" stroke-width="3"/>
<text x="205.3" y="2067.6" font-size="18.5" text-anchor="start" fill="#111111" font-weight="normal">10</text><text x="226.3" y="2061.6" font-size="17" text-anchor="start" fill="#111111" font-weight="normal">-1</text>
<line x1="327" y1="2041.4" x2="327" y2="2048" stroke="#000" stroke-width="3"/>
<text x="314.3" y="2067.6" font-size="18.5" text-anchor="start" fill="#111111" font-weight="normal">10</text><text x="335.3" y="2061.6" font-size="17" text-anchor="start" fill="#111111" font-weight="normal">0</text>
<line x1="433.8" y1="2041.4" x2="433.8" y2="2048" stroke="#000" stroke-width="3"/>
<text x="421.1" y="2067.6" font-size="18.5" text-anchor="start" fill="#111111" font-weight="normal">10</text><text x="442.1" y="2061.6" font-size="17" text-anchor="start" fill="#111111" font-weight="normal">1</text>
<line x1="542.8" y1="2041.4" x2="542.8" y2="2048" stroke="#000" stroke-width="3"/>
<text x="530.1" y="2067.6" font-size="18.5" text-anchor="start" fill="#111111" font-weight="normal">10</text><text x="556.1" y="2061.6" font-size="17" text-anchor="start" fill="#111111" font-weight="normal">2</text>
<text x="531.9" y="1746" font-size="28" text-anchor="end" fill="#0E820E" font-weight="normal" textLength="166.7" lengthAdjust="spacingAndGlyphs">Lymphocytes</text>
<text x="531.9" y="1779" font-size="28" text-anchor="end" fill="#0E820E" font-weight="normal" textLength="96" lengthAdjust="spacingAndGlyphs">32.37%</text>
<text x="16" y="1332.5" font-size="38" text-anchor="start" fill="#111111" font-weight="bold">c</text>
<text x="24.2" y="1465.6" font-size="29.5" text-anchor="start" fill="#111111" font-weight="normal" textLength="117.8" lengthAdjust="spacingAndGlyphs">P14 (SC)</text>
<text x="42.4" y="1505.2" font-size="29.5" text-anchor="start" fill="#111111" font-weight="normal" textLength="90.6" lengthAdjust="spacingAndGlyphs">Day 10</text>
<text x="26.2" y="1837.6" font-size="29.5" text-anchor="start" fill="#111111" font-weight="normal" textLength="115.8" lengthAdjust="spacingAndGlyphs">P15 (LC)</text>
<text x="47.6" y="1877.2" font-size="29.5" text-anchor="start" fill="#111111" font-weight="normal" textLength="73.4" lengthAdjust="spacingAndGlyphs">Day 8</text>
<line x1="154.6" y1="1351.7" x2="154.6" y2="1995" stroke="#000" stroke-width="2.5"/><path d="M154.6 1339.7 L147.6 1353.7 L161.6 1353.7Z" fill="#000"/>
<text x="163.4" y="2028" font-size="29" text-anchor="middle" fill="#111111" font-weight="normal" textLength="58.5" lengthAdjust="spacingAndGlyphs" transform="rotate(-90 163.4 2028)">SSC</text>
<text x="163.4" y="2102.5" font-size="29" text-anchor="start" fill="#111111" font-weight="normal" textLength="72.4" lengthAdjust="spacingAndGlyphs">CD45</text>
<line x1="252.5" y1="2094.6" x2="510.2" y2="2094.6" stroke="#000" stroke-width="2.5"/><path d="M522.2 2094.6 L508.2 2087.6 L508.2 2101.6Z" fill="#000"/>
<clipPath id="cl3"><path d="M811.5 1416.3 C812.6 1412.5 816.2 1411.7 821.3 1410.1 C826.4 1408.5 849.1 1403.7 855.3 1402.5 C861.4 1401.2 866.5 1399.8 873.9 1399.4 C881.4 1399.1 912.4 1398.8 918.9 1399.4 C925.5 1400.1 928.2 1403.2 930.3 1404.9 C932.3 1406.6 935.9 1410.9 936.7 1413.8 C937.5 1416.7 938.1 1426.5 937.3 1430 C936.6 1433.5 932.6 1440.7 930.3 1443.8 C928 1446.9 920.7 1454.1 917.7 1456.4 C914.8 1458.6 909.5 1461.3 905.2 1462.8 C900.8 1464.3 886.8 1467.9 880.4 1468.9 C873.9 1469.9 854.7 1471.9 850.1 1471.4 C845.4 1470.8 843.8 1466.3 840.3 1464 C836.8 1461.7 823.4 1454 820 1451.5 C816.7 1449 812.5 1446.7 811.5 1442.6 C810.5 1438.5 810.3 1420 811.5 1416.3Z"/></clipPath><path d="M811.5 1416.3 C812.6 1412.5 816.2 1411.7 821.3 1410.1 C826.4 1408.5 849.1 1403.7 855.3 1402.5 C861.4 1401.2 866.5 1399.8 873.9 1399.4 C881.4 1399.1 912.4 1398.8 918.9 1399.4 C925.5 1400.1 928.2 1403.2 930.3 1404.9 C932.3 1406.6 935.9 1410.9 936.7 1413.8 C937.5 1416.7 938.1 1426.5 937.3 1430 C936.6 1433.5 932.6 1440.7 930.3 1443.8 C928 1446.9 920.7 1454.1 917.7 1456.4 C914.8 1458.6 909.5 1461.3 905.2 1462.8 C900.8 1464.3 886.8 1467.9 880.4 1468.9 C873.9 1469.9 854.7 1471.9 850.1 1471.4 C845.4 1470.8 843.8 1466.3 840.3 1464 C836.8 1461.7 823.4 1454 820 1451.5 C816.7 1449 812.5 1446.7 811.5 1442.6 C810.5 1438.5 810.3 1420 811.5 1416.3Z" fill="#0000ff"/><g clip-path="url(#cl3)"><ellipse cx="873.9" cy="1433.1" rx="79.6" ry="45.9" fill="url(#jB)"/><ellipse cx="887.7" cy="1430" rx="64.3" ry="33.7" fill="url(#jR)"/></g>
<circle cx="792.8" cy="1426.4" r="5.5" fill="#0000ff"/>
<clipPath id="cl4"><path d="M695.7 1558.6 C697.5 1555.2 702.6 1561.3 707.4 1558.6 C712.1 1555.9 730.1 1538.5 736.5 1535.4 C742.8 1532.2 757.1 1532.5 761.9 1531.4 C766.7 1530.2 774.3 1526.8 777.5 1525.6 C780.7 1524.3 785.7 1521.3 789.1 1520.7 C792.5 1520 803.4 1518.7 806.6 1519.7 C809.8 1520.8 814.9 1525 816.4 1529.5 C817.9 1534.1 819.7 1553.4 819.4 1558.6 C819.2 1563.8 816.7 1569 814.5 1574.2 C812.4 1579.5 802.8 1599.3 800.8 1603.6 C798.7 1608 797.2 1608.4 796.8 1611.3 C796.3 1614.2 798.6 1624.6 796.8 1628.7 C795 1632.9 784 1642.7 781.5 1646.5 C779 1650.3 779 1659.5 775.3 1661.2 C771.7 1662.9 756.1 1664.3 750.2 1661.2 C744.3 1658.1 731 1642 724.8 1634.6 C718.7 1627.2 701.3 1603.2 697.6 1597.8 C693.8 1592.4 692.9 1592.6 692.7 1588 C692.5 1583.4 694 1562.1 695.7 1558.6Z"/></clipPath><path d="M695.7 1558.6 C697.5 1555.2 702.6 1561.3 707.4 1558.6 C712.1 1555.9 730.1 1538.5 736.5 1535.4 C742.8 1532.2 757.1 1532.5 761.9 1531.4 C766.7 1530.2 774.3 1526.8 777.5 1525.6 C780.7 1524.3 785.7 1521.3 789.1 1520.7 C792.5 1520 803.4 1518.7 806.6 1519.7 C809.8 1520.8 814.9 1525 816.4 1529.5 C817.9 1534.1 819.7 1553.4 819.4 1558.6 C819.2 1563.8 816.7 1569 814.5 1574.2 C812.4 1579.5 802.8 1599.3 800.8 1603.6 C798.7 1608 797.2 1608.4 796.8 1611.3 C796.3 1614.2 798.6 1624.6 796.8 1628.7 C795 1632.9 784 1642.7 781.5 1646.5 C779 1650.3 779 1659.5 775.3 1661.2 C771.7 1662.9 756.1 1664.3 750.2 1661.2 C744.3 1658.1 731 1642 724.8 1634.6 C718.7 1627.2 701.3 1603.2 697.6 1597.8 C693.8 1592.4 692.9 1592.6 692.7 1588 C692.5 1583.4 694 1562.1 695.7 1558.6Z" fill="#0000ff"/><g clip-path="url(#cl4)"><ellipse cx="763.7" cy="1580.1" rx="67.4" ry="79.6" fill="url(#jB)"/><ellipse cx="769.5" cy="1574.2" rx="45.9" ry="52.1" fill="url(#jC)"/></g>
<clipPath id="cl5"><path d="M861.1 1533.5 C865 1530.4 874.7 1520.5 878.8 1518.8 C882.9 1517.1 889 1516.4 896.3 1518.8 C903.5 1521.2 935.1 1535.8 941 1539.3 C946.9 1542.8 946.3 1545.9 946.8 1548.8 C947.3 1551.8 947.9 1559.2 945 1564.4 C942 1569.7 924.9 1588.8 921.7 1593.8 C918.5 1598.8 918.2 1603.5 917.7 1607.3 C917.3 1611.2 919.5 1622.8 917.7 1626.9 C915.9 1631 904.4 1638.5 902.1 1642.5 C899.8 1646.5 901.5 1659 898.1 1661.2 C894.7 1663.4 876.2 1662.5 873 1661.2 C869.8 1659.9 873.6 1653.7 870.9 1650.2 C868.1 1646.6 852.8 1637.2 849.4 1630.9 C846 1624.5 844 1603.9 841.8 1595.7 C839.5 1587.5 831.3 1565.8 830.2 1560.8 C829 1555.8 830.2 1554.6 832 1552.8 C833.8 1551 842.1 1547.4 845.5 1545.2 C848.9 1542.9 857.2 1536.6 861.1 1533.5Z"/></clipPath><path d="M861.1 1533.5 C865 1530.4 874.7 1520.5 878.8 1518.8 C882.9 1517.1 889 1516.4 896.3 1518.8 C903.5 1521.2 935.1 1535.8 941 1539.3 C946.9 1542.8 946.3 1545.9 946.8 1548.8 C947.3 1551.8 947.9 1559.2 945 1564.4 C942 1569.7 924.9 1588.8 921.7 1593.8 C918.5 1598.8 918.2 1603.5 917.7 1607.3 C917.3 1611.2 919.5 1622.8 917.7 1626.9 C915.9 1631 904.4 1638.5 902.1 1642.5 C899.8 1646.5 901.5 1659 898.1 1661.2 C894.7 1663.4 876.2 1662.5 873 1661.2 C869.8 1659.9 873.6 1653.7 870.9 1650.2 C868.1 1646.6 852.8 1637.2 849.4 1630.9 C846 1624.5 844 1603.9 841.8 1595.7 C839.5 1587.5 831.3 1565.8 830.2 1560.8 C829 1555.8 830.2 1554.6 832 1552.8 C833.8 1551 842.1 1547.4 845.5 1545.2 C848.9 1542.9 857.2 1536.6 861.1 1533.5Z" fill="#0000ff"/><g clip-path="url(#cl5)"><ellipse cx="889.2" cy="1586.2" rx="70.4" ry="91.9" fill="url(#jB)"/><ellipse cx="889.2" cy="1572.4" rx="50.5" ry="59.7" fill="url(#jY)"/></g>
<rect x="651" y="1336" width="327.7" height="325.8" fill="none" stroke="#000" stroke-width="3"/>
<line x1="809" y1="1336" x2="809" y2="1661.8" stroke="#000" stroke-width="3"/>
<line x1="651" y1="1515.8" x2="978.7" y2="1515.8" stroke="#000" stroke-width="3"/>
<rect x="808.1" y="1392.7" width="139.3" height="91.8" fill="none" stroke="#A0262A" stroke-width="2.6"/>
<line x1="651" y1="1661.8" x2="651" y2="1664.8" stroke="#555" stroke-width="1.3"/><line x1="659.2" y1="1661.8" x2="659.2" y2="1664.8" stroke="#555" stroke-width="1.3"/><line x1="667.4" y1="1661.8" x2="667.4" y2="1664.8" stroke="#555" stroke-width="1.3"/><line x1="675.5" y1="1661.8" x2="675.5" y2="1664.8" stroke="#555" stroke-width="1.3"/><line x1="683.7" y1="1661.8" x2="683.7" y2="1664.8" stroke="#555" stroke-width="1.3"/><line x1="691.9" y1="1661.8" x2="691.9" y2="1664.8" stroke="#555" stroke-width="1.3"/><line x1="700" y1="1661.8" x2="700" y2="1664.8" stroke="#555" stroke-width="1.3"/><line x1="708.2" y1="1661.8" x2="708.2" y2="1664.8" stroke="#555" stroke-width="1.3"/><line x1="716.4" y1="1661.8" x2="716.4" y2="1664.8" stroke="#555" stroke-width="1.3"/><line x1="724.6" y1="1661.8" x2="724.6" y2="1664.8" stroke="#555" stroke-width="1.3"/><line x1="732.8" y1="1661.8" x2="732.8" y2="1664.8" stroke="#555" stroke-width="1.3"/><line x1="740.9" y1="1661.8" x2="740.9" y2="1664.8" stroke="#555" stroke-width="1.3"/><line x1="749.1" y1="1661.8" x2="749.1" y2="1664.8" stroke="#555" stroke-width="1.3"/><line x1="757.3" y1="1661.8" x2="757.3" y2="1664.8" stroke="#555" stroke-width="1.3"/><line x1="765.5" y1="1661.8" x2="765.5" y2="1664.8" stroke="#555" stroke-width="1.3"/><line x1="773.6" y1="1661.8" x2="773.6" y2="1664.8" stroke="#555" stroke-width="1.3"/><line x1="781.8" y1="1661.8" x2="781.8" y2="1664.8" stroke="#555" stroke-width="1.3"/><line x1="790" y1="1661.8" x2="790" y2="1664.8" stroke="#555" stroke-width="1.3"/><line x1="798.1" y1="1661.8" x2="798.1" y2="1664.8" stroke="#555" stroke-width="1.3"/><line x1="806.3" y1="1661.8" x2="806.3" y2="1664.8" stroke="#555" stroke-width="1.3"/><line x1="814.5" y1="1661.8" x2="814.5" y2="1664.8" stroke="#555" stroke-width="1.3"/><line x1="822.7" y1="1661.8" x2="822.7" y2="1664.8" stroke="#555" stroke-width="1.3"/><line x1="830.9" y1="1661.8" x2="830.9" y2="1664.8" stroke="#555" stroke-width="1.3"/><line x1="839" y1="1661.8" x2="839" y2="1664.8" stroke="#555" stroke-width="1.3"/><line x1="847.2" y1="1661.8" x2="847.2" y2="1664.8" stroke="#555" stroke-width="1.3"/><line x1="855.4" y1="1661.8" x2="855.4" y2="1664.8" stroke="#555" stroke-width="1.3"/><line x1="863.5" y1="1661.8" x2="863.5" y2="1664.8" stroke="#555" stroke-width="1.3"/><line x1="871.7" y1="1661.8" x2="871.7" y2="1664.8" stroke="#555" stroke-width="1.3"/><line x1="879.9" y1="1661.8" x2="879.9" y2="1664.8" stroke="#555" stroke-width="1.3"/><line x1="888.1" y1="1661.8" x2="888.1" y2="1664.8" stroke="#555" stroke-width="1.3"/><line x1="896.2" y1="1661.8" x2="896.2" y2="1664.8" stroke="#555" stroke-width="1.3"/><line x1="904.4" y1="1661.8" x2="904.4" y2="1664.8" stroke="#555" stroke-width="1.3"/><line x1="912.6" y1="1661.8" x2="912.6" y2="1664.8" stroke="#555" stroke-width="1.3"/><line x1="920.8" y1="1661.8" x2="920.8" y2="1664.8" stroke="#555" stroke-width="1.3"/><line x1="929" y1="1661.8" x2="929" y2="1664.8" stroke="#555" stroke-width="1.3"/><line x1="937.1" y1="1661.8" x2="937.1" y2="1664.8" stroke="#555" stroke-width="1.3"/><line x1="945.3" y1="1661.8" x2="945.3" y2="1664.8" stroke="#555" stroke-width="1.3"/><line x1="953.5" y1="1661.8" x2="953.5" y2="1664.8" stroke="#555" stroke-width="1.3"/><line x1="961.6" y1="1661.8" x2="961.6" y2="1664.8" stroke="#555" stroke-width="1.3"/><line x1="969.8" y1="1661.8" x2="969.8" y2="1664.8" stroke="#555" stroke-width="1.3"/><line x1="978" y1="1661.8" x2="978" y2="1664.8" stroke="#555" stroke-width="1.3"/>
<line x1="646.5" y1="1336" x2="649.5" y2="1336" stroke="#444" stroke-width="1.6"/><line x1="646.5" y1="1347.6" x2="649.5" y2="1347.6" stroke="#444" stroke-width="1.6"/><line x1="646.5" y1="1359.3" x2="649.5" y2="1359.3" stroke="#444" stroke-width="1.6"/><line x1="646.5" y1="1370.9" x2="649.5" y2="1370.9" stroke="#444" stroke-width="1.6"/><line x1="646.5" y1="1382.5" x2="649.5" y2="1382.5" stroke="#444" stroke-width="1.6"/><line x1="646.5" y1="1394.2" x2="649.5" y2="1394.2" stroke="#444" stroke-width="1.6"/><line x1="646.5" y1="1405.8" x2="649.5" y2="1405.8" stroke="#444" stroke-width="1.6"/><line x1="646.5" y1="1417.5" x2="649.5" y2="1417.5" stroke="#444" stroke-width="1.6"/><line x1="646.5" y1="1429.1" x2="649.5" y2="1429.1" stroke="#444" stroke-width="1.6"/><line x1="646.5" y1="1440.7" x2="649.5" y2="1440.7" stroke="#444" stroke-width="1.6"/><line x1="646.5" y1="1452.4" x2="649.5" y2="1452.4" stroke="#444" stroke-width="1.6"/><line x1="646.5" y1="1464" x2="649.5" y2="1464" stroke="#444" stroke-width="1.6"/><line x1="646.5" y1="1475.6" x2="649.5" y2="1475.6" stroke="#444" stroke-width="1.6"/><line x1="646.5" y1="1487.3" x2="649.5" y2="1487.3" stroke="#444" stroke-width="1.6"/><line x1="646.5" y1="1498.9" x2="649.5" y2="1498.9" stroke="#444" stroke-width="1.6"/><line x1="646.5" y1="1510.5" x2="649.5" y2="1510.5" stroke="#444" stroke-width="1.6"/><line x1="646.5" y1="1522.2" x2="649.5" y2="1522.2" stroke="#444" stroke-width="1.6"/><line x1="646.5" y1="1533.8" x2="649.5" y2="1533.8" stroke="#444" stroke-width="1.6"/><line x1="646.5" y1="1545.4" x2="649.5" y2="1545.4" stroke="#444" stroke-width="1.6"/><line x1="646.5" y1="1557.1" x2="649.5" y2="1557.1" stroke="#444" stroke-width="1.6"/><line x1="646.5" y1="1568.7" x2="649.5" y2="1568.7" stroke="#444" stroke-width="1.6"/><line x1="646.5" y1="1580.3" x2="649.5" y2="1580.3" stroke="#444" stroke-width="1.6"/><line x1="646.5" y1="1592" x2="649.5" y2="1592" stroke="#444" stroke-width="1.6"/><line x1="646.5" y1="1603.6" x2="649.5" y2="1603.6" stroke="#444" stroke-width="1.6"/><line x1="646.5" y1="1615.3" x2="649.5" y2="1615.3" stroke="#444" stroke-width="1.6"/><line x1="646.5" y1="1626.9" x2="649.5" y2="1626.9" stroke="#444" stroke-width="1.6"/><line x1="646.5" y1="1638.5" x2="649.5" y2="1638.5" stroke="#444" stroke-width="1.6"/><line x1="646.5" y1="1650.2" x2="649.5" y2="1650.2" stroke="#444" stroke-width="1.6"/><line x1="646.5" y1="1661.8" x2="649.5" y2="1661.8" stroke="#444" stroke-width="1.6"/>
<line x1="645" y1="1336.1" x2="651" y2="1336.1" stroke="#000" stroke-width="3"/>
<line x1="645" y1="1429.7" x2="651" y2="1429.7" stroke="#000" stroke-width="3"/>
<line x1="645" y1="1523" x2="651" y2="1523" stroke="#000" stroke-width="3"/>
<line x1="645" y1="1615.4" x2="651" y2="1615.4" stroke="#000" stroke-width="3"/>
<text x="639.3" y="1339.3" font-size="18" text-anchor="start" fill="#111111" font-weight="normal" transform="rotate(-90 639.3 1339.3)">10</text><text x="632" y="1314.5" font-size="13" text-anchor="start" fill="#111111" font-weight="normal" transform="rotate(-90 632 1314.5)">2</text>
<text x="639.3" y="1430" font-size="18" text-anchor="start" fill="#111111" font-weight="normal" transform="rotate(-90 639.3 1430)">10</text><text x="632" y="1406" font-size="13" text-anchor="start" fill="#111111" font-weight="normal" transform="rotate(-90 632 1406)">1</text>
<text x="639.3" y="1523.2" font-size="18" text-anchor="start" fill="#111111" font-weight="normal" transform="rotate(-90 639.3 1523.2)">10</text><text x="632" y="1500.7" font-size="13" text-anchor="start" fill="#111111" font-weight="normal" transform="rotate(-90 632 1500.7)">0</text>
<text x="639.3" y="1663.5" font-size="17" text-anchor="start" fill="#111111" font-weight="normal" transform="rotate(-90 639.3 1663.5)">10</text><text x="632" y="1637.6" font-size="14" text-anchor="start" fill="#111111" font-weight="normal" transform="rotate(-90 632 1637.6)">-1.5</text>
<line x1="651" y1="1661.8" x2="651" y2="1668" stroke="#000" stroke-width="3"/>
<line x1="791" y1="1661.8" x2="791" y2="1668" stroke="#000" stroke-width="3"/>
<line x1="884.7" y1="1661.8" x2="884.7" y2="1668" stroke="#000" stroke-width="3"/>
<line x1="978" y1="1661.8" x2="978" y2="1668" stroke="#000" stroke-width="3"/>
<text x="636.1" y="1688.6" font-size="18" text-anchor="start" fill="#111111" font-weight="normal">10</text><text x="661.8" y="1679.8" font-size="13" text-anchor="start" fill="#111111" font-weight="normal">-1.5</text>
<text x="776" y="1688.6" font-size="18" text-anchor="start" fill="#111111" font-weight="normal">10</text><text x="804" y="1679.8" font-size="13" text-anchor="start" fill="#111111" font-weight="normal">0</text>
<text x="867.8" y="1688.6" font-size="18" text-anchor="start" fill="#111111" font-weight="normal">10</text><text x="894" y="1679.8" font-size="13" text-anchor="start" fill="#111111" font-weight="normal">1</text>
<text x="961.2" y="1688.6" font-size="18" text-anchor="start" fill="#111111" font-weight="normal">10</text><text x="987" y="1679.8" font-size="13" text-anchor="start" fill="#111111" font-weight="normal">2</text>
<text x="736.2" y="1325.5" font-size="28" text-anchor="start" fill="#0E820E" font-weight="normal" textLength="168.4" lengthAdjust="spacingAndGlyphs">Lymphocytes</text>
<text x="660.2" y="1362.5" font-size="28" text-anchor="start" fill="#111111" font-weight="normal" textLength="138.8" lengthAdjust="spacingAndGlyphs">CD3-CD4+</text>
<text x="660.2" y="1390.2" font-size="28" text-anchor="start" fill="#111111" font-weight="normal" textLength="79" lengthAdjust="spacingAndGlyphs">0.71%</text>
<text x="825" y="1362.5" font-size="28" text-anchor="start" fill="#111111" font-weight="normal" textLength="146.3" lengthAdjust="spacingAndGlyphs">CD3+CD4+</text>
<text x="971.3" y="1390.2" font-size="28" text-anchor="end" fill="#111111" font-weight="normal" textLength="96" lengthAdjust="spacingAndGlyphs">45.16%</text>
<text x="656.5" y="1630.6" font-size="13" text-anchor="start" fill="#111111" font-weight="normal" textLength="67.5" lengthAdjust="spacingAndGlyphs">CD3-CD4-</text>
<text x="656.5" y="1647.4" font-size="13" text-anchor="start" fill="#111111" font-weight="normal" textLength="49" lengthAdjust="spacingAndGlyphs">14.94%</text>
<text x="904.6" y="1630.6" font-size="13" text-anchor="start" fill="#111111" font-weight="normal" textLength="70.4" lengthAdjust="spacingAndGlyphs">CD3+CD4-</text>
<text x="975" y="1653.5" font-size="13" text-anchor="end" fill="#111111" font-weight="normal" textLength="49" lengthAdjust="spacingAndGlyphs">39.19%</text>
<clipPath id="cl6"><path d="M797.7 1798.7 C799.5 1797.2 804.8 1795.7 811.5 1793.8 C818.2 1791.9 842 1783.8 855.3 1782.5 C868.5 1781.2 915.4 1782 925.4 1782.5 C935.3 1782.9 938.1 1784.6 940.4 1786.5 C942.7 1788.3 944.8 1795.5 945.3 1798.7 C945.7 1801.9 945.8 1809.5 944.1 1814 C942.3 1818.5 934.1 1833.8 930.3 1837.6 C926.5 1841.4 915.2 1844.1 911.6 1846.5 C908 1848.8 901.5 1855 899 1857.8 C896.5 1860.6 893 1868.9 890.2 1870.3 C887.4 1871.8 877.9 1871.8 875.2 1870.3 C872.4 1868.9 869.7 1859.7 866.6 1857.8 C863.5 1855.9 853.1 1855.6 848.8 1853.8 C844.6 1852.1 834.7 1845.5 830.2 1842.8 C825.6 1840 812.9 1833 809.9 1830.2 C807 1827.5 806.7 1821.7 805 1818.9 C803.4 1816.1 797 1808.7 796.2 1806.4 C795.3 1804 795.9 1800.2 797.7 1798.7Z"/></clipPath><path d="M797.7 1798.7 C799.5 1797.2 804.8 1795.7 811.5 1793.8 C818.2 1791.9 842 1783.8 855.3 1782.5 C868.5 1781.2 915.4 1782 925.4 1782.5 C935.3 1782.9 938.1 1784.6 940.4 1786.5 C942.7 1788.3 944.8 1795.5 945.3 1798.7 C945.7 1801.9 945.8 1809.5 944.1 1814 C942.3 1818.5 934.1 1833.8 930.3 1837.6 C926.5 1841.4 915.2 1844.1 911.6 1846.5 C908 1848.8 901.5 1855 899 1857.8 C896.5 1860.6 893 1868.9 890.2 1870.3 C887.4 1871.8 877.9 1871.8 875.2 1870.3 C872.4 1868.9 869.7 1859.7 866.6 1857.8 C863.5 1855.9 853.1 1855.6 848.8 1853.8 C844.6 1852.1 834.7 1845.5 830.2 1842.8 C825.6 1840 812.9 1833 809.9 1830.2 C807 1827.5 806.7 1821.7 805 1818.9 C803.4 1816.1 797 1808.7 796.2 1806.4 C795.3 1804 795.9 1800.2 797.7 1798.7Z" fill="#0000ff"/><g clip-path="url(#cl6)"><ellipse cx="883.1" cy="1819.2" rx="85.7" ry="52.1" fill="url(#jB)"/><ellipse cx="892.3" cy="1813.1" rx="69.8" ry="35.2" fill="url(#jR)"/></g>
<clipPath id="cl7"><path d="M715 1877.7 C715.7 1874.5 723.3 1869.3 728.8 1867.9 C734.3 1866.5 755.7 1865.1 761.9 1865.8 C768 1866.4 777.6 1871.4 781.5 1873.7 C785.3 1876 793.4 1882.2 794.9 1885.4 C796.5 1888.5 796 1897.6 794.9 1901 C793.9 1904.4 786.7 1912.2 786.1 1914.4 C785.4 1916.7 786.1 1918.5 789.1 1920.6 C792.2 1922.6 809.2 1928.3 812.4 1932.2 C815.6 1936.1 816.4 1947.5 816.4 1953.6 C816.4 1959.8 813.3 1977.6 812.4 1984.9 C811.5 1992.1 809.6 2008.2 808.7 2015.8 C807.8 2023.4 814.1 2045.8 804.7 2049.8 C795.4 2053.7 738.8 2052.6 728.8 2049.8 C718.8 2047 722 2030.4 719 2025.6 C716 2020.7 707 2011.5 703.4 2008.1 C699.7 2004.7 689.8 2000.8 687.8 1996.5 C685.7 1992.2 685.5 1975.7 685.9 1971.1 C686.4 1966.5 689.3 1960.7 691.8 1957.3 C694.3 1953.9 702.4 1944.5 707.4 1942 C712.4 1939.5 730.6 1937.5 734.6 1935.9 C738.7 1934.3 741.8 1931.1 742.3 1928.2 C742.7 1925.3 739.3 1913.9 738.6 1910.8 C737.9 1907.6 738.3 1902.8 736.5 1901 C734.6 1899.1 725.5 1897.9 723 1895.2 C720.5 1892.4 714.3 1880.9 715 1877.7Z"/></clipPath><path d="M715 1877.7 C715.7 1874.5 723.3 1869.3 728.8 1867.9 C734.3 1866.5 755.7 1865.1 761.9 1865.8 C768 1866.4 777.6 1871.4 781.5 1873.7 C785.3 1876 793.4 1882.2 794.9 1885.4 C796.5 1888.5 796 1897.6 794.9 1901 C793.9 1904.4 786.7 1912.2 786.1 1914.4 C785.4 1916.7 786.1 1918.5 789.1 1920.6 C792.2 1922.6 809.2 1928.3 812.4 1932.2 C815.6 1936.1 816.4 1947.5 816.4 1953.6 C816.4 1959.8 813.3 1977.6 812.4 1984.9 C811.5 1992.1 809.6 2008.2 808.7 2015.8 C807.8 2023.4 814.1 2045.8 804.7 2049.8 C795.4 2053.7 738.8 2052.6 728.8 2049.8 C718.8 2047 722 2030.4 719 2025.6 C716 2020.7 707 2011.5 703.4 2008.1 C699.7 2004.7 689.8 2000.8 687.8 1996.5 C685.7 1992.2 685.5 1975.7 685.9 1971.1 C686.4 1966.5 689.3 1960.7 691.8 1957.3 C694.3 1953.9 702.4 1944.5 707.4 1942 C712.4 1939.5 730.6 1937.5 734.6 1935.9 C738.7 1934.3 741.8 1931.1 742.3 1928.2 C742.7 1925.3 739.3 1913.9 738.6 1910.8 C737.9 1907.6 738.3 1902.8 736.5 1901 C734.6 1899.1 725.5 1897.9 723 1895.2 C720.5 1892.4 714.3 1880.9 715 1877.7Z" fill="#0000ff"/><g clip-path="url(#cl7)"><ellipse cx="763.7" cy="1981.5" rx="79.6" ry="91.9" fill="url(#jB)"/><ellipse cx="773.5" cy="1975.4" rx="42.9" ry="53.6" fill="url(#jG)"/></g>
<clipPath id="cl8"><path d="M884.7 1910.8 C888.5 1908.9 894.7 1909.6 898.1 1910.8 C901.5 1911.9 909 1919.7 913.7 1920.6 C918.5 1921.5 934.9 1918 939.2 1918.4 C943.4 1918.8 948.6 1921.3 949.9 1924.2 C951.1 1927.2 950.9 1938.6 949.9 1943.8 C948.8 1949.1 944.5 1963.6 941 1969.2 C937.5 1974.9 922.4 1987.8 919.6 1992.5 C916.7 1997.3 918.8 2005.9 916.8 2010 C914.8 2014 903.8 2022.8 902.1 2027.4 C900.4 2032.1 907.1 2047.2 902.1 2049.8 C897.1 2052.4 864.5 2051.5 859.2 2049.8 C854 2048.1 859 2038.7 857.4 2035.4 C855.8 2032.1 847.6 2027.5 845.8 2021.6 C843.9 2015.7 842.3 1991 841.8 1984.9 C841.3 1978.8 840.9 1974 841.8 1969.2 C842.7 1964.5 846.7 1948.8 849.4 1943.8 C852.2 1938.8 861 1930.2 865.1 1926.4 C869.2 1922.5 880.8 1912.6 884.7 1910.8Z"/></clipPath><path d="M884.7 1910.8 C888.5 1908.9 894.7 1909.6 898.1 1910.8 C901.5 1911.9 909 1919.7 913.7 1920.6 C918.5 1921.5 934.9 1918 939.2 1918.4 C943.4 1918.8 948.6 1921.3 949.9 1924.2 C951.1 1927.2 950.9 1938.6 949.9 1943.8 C948.8 1949.1 944.5 1963.6 941 1969.2 C937.5 1974.9 922.4 1987.8 919.6 1992.5 C916.7 1997.3 918.8 2005.9 916.8 2010 C914.8 2014 903.8 2022.8 902.1 2027.4 C900.4 2032.1 907.1 2047.2 902.1 2049.8 C897.1 2052.4 864.5 2051.5 859.2 2049.8 C854 2048.1 859 2038.7 857.4 2035.4 C855.8 2032.1 847.6 2027.5 845.8 2021.6 C843.9 2015.7 842.3 1991 841.8 1984.9 C841.3 1978.8 840.9 1974 841.8 1969.2 C842.7 1964.5 846.7 1948.8 849.4 1943.8 C852.2 1938.8 861 1930.2 865.1 1926.4 C869.2 1922.5 880.8 1912.6 884.7 1910.8Z" fill="#0000ff"/><g clip-path="url(#cl8)"><ellipse cx="892.3" cy="1969.2" rx="73.5" ry="91.9" fill="url(#jB)"/><ellipse cx="891.4" cy="1961.6" rx="45.9" ry="65.8" fill="url(#jY)"/></g>
<rect x="651" y="1723.7" width="327.7" height="326.1" fill="none" stroke="#000" stroke-width="3"/>
<line x1="809" y1="1723.7" x2="809" y2="2049.8" stroke="#000" stroke-width="3"/>
<line x1="651" y1="1904" x2="978.7" y2="1904" stroke="#000" stroke-width="3"/>
<rect x="808" y="1780.3" width="140.3" height="91.9" fill="none" stroke="#A0262A" stroke-width="2.6"/>
<line x1="651" y1="2049.8" x2="651" y2="2052.8" stroke="#555" stroke-width="1.3"/><line x1="659.2" y1="2049.8" x2="659.2" y2="2052.8" stroke="#555" stroke-width="1.3"/><line x1="667.4" y1="2049.8" x2="667.4" y2="2052.8" stroke="#555" stroke-width="1.3"/><line x1="675.5" y1="2049.8" x2="675.5" y2="2052.8" stroke="#555" stroke-width="1.3"/><line x1="683.7" y1="2049.8" x2="683.7" y2="2052.8" stroke="#555" stroke-width="1.3"/><line x1="691.9" y1="2049.8" x2="691.9" y2="2052.8" stroke="#555" stroke-width="1.3"/><line x1="700" y1="2049.8" x2="700" y2="2052.8" stroke="#555" stroke-width="1.3"/><line x1="708.2" y1="2049.8" x2="708.2" y2="2052.8" stroke="#555" stroke-width="1.3"/><line x1="716.4" y1="2049.8" x2="716.4" y2="2052.8" stroke="#555" stroke-width="1.3"/><line x1="724.6" y1="2049.8" x2="724.6" y2="2052.8" stroke="#555" stroke-width="1.3"/><line x1="732.8" y1="2049.8" x2="732.8" y2="2052.8" stroke="#555" stroke-width="1.3"/><line x1="740.9" y1="2049.8" x2="740.9" y2="2052.8" stroke="#555" stroke-width="1.3"/><line x1="749.1" y1="2049.8" x2="749.1" y2="2052.8" stroke="#555" stroke-width="1.3"/><line x1="757.3" y1="2049.8" x2="757.3" y2="2052.8" stroke="#555" stroke-width="1.3"/><line x1="765.5" y1="2049.8" x2="765.5" y2="2052.8" stroke="#555" stroke-width="1.3"/><line x1="773.6" y1="2049.8" x2="773.6" y2="2052.8" stroke="#555" stroke-width="1.3"/><line x1="781.8" y1="2049.8" x2="781.8" y2="2052.8" stroke="#555" stroke-width="1.3"/><line x1="790" y1="2049.8" x2="790" y2="2052.8" stroke="#555" stroke-width="1.3"/><line x1="798.1" y1="2049.8" x2="798.1" y2="2052.8" stroke="#555" stroke-width="1.3"/><line x1="806.3" y1="2049.8" x2="806.3" y2="2052.8" stroke="#555" stroke-width="1.3"/><line x1="814.5" y1="2049.8" x2="814.5" y2="2052.8" stroke="#555" stroke-width="1.3"/><line x1="822.7" y1="2049.8" x2="822.7" y2="2052.8" stroke="#555" stroke-width="1.3"/><line x1="830.9" y1="2049.8" x2="830.9" y2="2052.8" stroke="#555" stroke-width="1.3"/><line x1="839" y1="2049.8" x2="839" y2="2052.8" stroke="#555" stroke-width="1.3"/><line x1="847.2" y1="2049.8" x2="847.2" y2="2052.8" stroke="#555" stroke-width="1.3"/><line x1="855.4" y1="2049.8" x2="855.4" y2="2052.8" stroke="#555" stroke-width="1.3"/><line x1="863.5" y1="2049.8" x2="863.5" y2="2052.8" stroke="#555" stroke-width="1.3"/><line x1="871.7" y1="2049.8" x2="871.7" y2="2052.8" stroke="#555" stroke-width="1.3"/><line x1="879.9" y1="2049.8" x2="879.9" y2="2052.8" stroke="#555" stroke-width="1.3"/><line x1="888.1" y1="2049.8" x2="888.1" y2="2052.8" stroke="#555" stroke-width="1.3"/><line x1="896.2" y1="2049.8" x2="896.2" y2="2052.8" stroke="#555" stroke-width="1.3"/><line x1="904.4" y1="2049.8" x2="904.4" y2="2052.8" stroke="#555" stroke-width="1.3"/><line x1="912.6" y1="2049.8" x2="912.6" y2="2052.8" stroke="#555" stroke-width="1.3"/><line x1="920.8" y1="2049.8" x2="920.8" y2="2052.8" stroke="#555" stroke-width="1.3"/><line x1="929" y1="2049.8" x2="929" y2="2052.8" stroke="#555" stroke-width="1.3"/><line x1="937.1" y1="2049.8" x2="937.1" y2="2052.8" stroke="#555" stroke-width="1.3"/><line x1="945.3" y1="2049.8" x2="945.3" y2="2052.8" stroke="#555" stroke-width="1.3"/><line x1="953.5" y1="2049.8" x2="953.5" y2="2052.8" stroke="#555" stroke-width="1.3"/><line x1="961.6" y1="2049.8" x2="961.6" y2="2052.8" stroke="#555" stroke-width="1.3"/><line x1="969.8" y1="2049.8" x2="969.8" y2="2052.8" stroke="#555" stroke-width="1.3"/><line x1="978" y1="2049.8" x2="978" y2="2052.8" stroke="#555" stroke-width="1.3"/>
<line x1="646.5" y1="1723.7" x2="649.5" y2="1723.7" stroke="#444" stroke-width="1.6"/><line x1="646.5" y1="1735.3" x2="649.5" y2="1735.3" stroke="#444" stroke-width="1.6"/><line x1="646.5" y1="1747" x2="649.5" y2="1747" stroke="#444" stroke-width="1.6"/><line x1="646.5" y1="1758.6" x2="649.5" y2="1758.6" stroke="#444" stroke-width="1.6"/><line x1="646.5" y1="1770.3" x2="649.5" y2="1770.3" stroke="#444" stroke-width="1.6"/><line x1="646.5" y1="1781.9" x2="649.5" y2="1781.9" stroke="#444" stroke-width="1.6"/><line x1="646.5" y1="1793.6" x2="649.5" y2="1793.6" stroke="#444" stroke-width="1.6"/><line x1="646.5" y1="1805.2" x2="649.5" y2="1805.2" stroke="#444" stroke-width="1.6"/><line x1="646.5" y1="1816.9" x2="649.5" y2="1816.9" stroke="#444" stroke-width="1.6"/><line x1="646.5" y1="1828.5" x2="649.5" y2="1828.5" stroke="#444" stroke-width="1.6"/><line x1="646.5" y1="1840.2" x2="649.5" y2="1840.2" stroke="#444" stroke-width="1.6"/><line x1="646.5" y1="1851.8" x2="649.5" y2="1851.8" stroke="#444" stroke-width="1.6"/><line x1="646.5" y1="1863.5" x2="649.5" y2="1863.5" stroke="#444" stroke-width="1.6"/><line x1="646.5" y1="1875.1" x2="649.5" y2="1875.1" stroke="#444" stroke-width="1.6"/><line x1="646.5" y1="1886.8" x2="649.5" y2="1886.8" stroke="#444" stroke-width="1.6"/><line x1="646.5" y1="1898.4" x2="649.5" y2="1898.4" stroke="#444" stroke-width="1.6"/><line x1="646.5" y1="1910" x2="649.5" y2="1910" stroke="#444" stroke-width="1.6"/><line x1="646.5" y1="1921.7" x2="649.5" y2="1921.7" stroke="#444" stroke-width="1.6"/><line x1="646.5" y1="1933.3" x2="649.5" y2="1933.3" stroke="#444" stroke-width="1.6"/><line x1="646.5" y1="1945" x2="649.5" y2="1945" stroke="#444" stroke-width="1.6"/><line x1="646.5" y1="1956.6" x2="649.5" y2="1956.6" stroke="#444" stroke-width="1.6"/><line x1="646.5" y1="1968.3" x2="649.5" y2="1968.3" stroke="#444" stroke-width="1.6"/><line x1="646.5" y1="1979.9" x2="649.5" y2="1979.9" stroke="#444" stroke-width="1.6"/><line x1="646.5" y1="1991.6" x2="649.5" y2="1991.6" stroke="#444" stroke-width="1.6"/><line x1="646.5" y1="2003.2" x2="649.5" y2="2003.2" stroke="#444" stroke-width="1.6"/><line x1="646.5" y1="2014.9" x2="649.5" y2="2014.9" stroke="#444" stroke-width="1.6"/><line x1="646.5" y1="2026.5" x2="649.5" y2="2026.5" stroke="#444" stroke-width="1.6"/><line x1="646.5" y1="2038.2" x2="649.5" y2="2038.2" stroke="#444" stroke-width="1.6"/><line x1="646.5" y1="2049.8" x2="649.5" y2="2049.8" stroke="#444" stroke-width="1.6"/>
<line x1="645" y1="1723.8" x2="651" y2="1723.8" stroke="#000" stroke-width="3"/>
<line x1="645" y1="1817.4" x2="651" y2="1817.4" stroke="#000" stroke-width="3"/>
<line x1="645" y1="1910.7" x2="651" y2="1910.7" stroke="#000" stroke-width="3"/>
<line x1="645" y1="2003.1" x2="651" y2="2003.1" stroke="#000" stroke-width="3"/>
<text x="639.3" y="1727" font-size="18" text-anchor="start" fill="#111111" font-weight="normal" transform="rotate(-90 639.3 1727)">10</text><text x="632" y="1702.2" font-size="13" text-anchor="start" fill="#111111" font-weight="normal" transform="rotate(-90 632 1702.2)">2</text>
<text x="639.3" y="1817.7" font-size="18" text-anchor="start" fill="#111111" font-weight="normal" transform="rotate(-90 639.3 1817.7)">10</text><text x="632" y="1793.7" font-size="13" text-anchor="start" fill="#111111" font-weight="normal" transform="rotate(-90 632 1793.7)">1</text>
<text x="639.3" y="1910.9" font-size="18" text-anchor="start" fill="#111111" font-weight="normal" transform="rotate(-90 639.3 1910.9)">10</text><text x="632" y="1888.4" font-size="13" text-anchor="start" fill="#111111" font-weight="normal" transform="rotate(-90 632 1888.4)">0</text>
<text x="639.3" y="2051.2" font-size="17" text-anchor="start" fill="#111111" font-weight="normal" transform="rotate(-90 639.3 2051.2)">10</text><text x="632" y="2025.3" font-size="14" text-anchor="start" fill="#111111" font-weight="normal" transform="rotate(-90 632 2025.3)">-1.5</text>
<line x1="651" y1="2049.8" x2="651" y2="2056" stroke="#000" stroke-width="3"/>
<line x1="791" y1="2049.8" x2="791" y2="2056" stroke="#000" stroke-width="3"/>
<line x1="884.7" y1="2049.8" x2="884.7" y2="2056" stroke="#000" stroke-width="3"/>
<line x1="978" y1="2049.8" x2="978" y2="2056" stroke="#000" stroke-width="3"/>
<text x="636.1" y="2076.4" font-size="18" text-anchor="start" fill="#111111" font-weight="normal">10</text><text x="661.8" y="2067.6" font-size="13" text-anchor="start" fill="#111111" font-weight="normal">-1.5</text>
<text x="776" y="2076.4" font-size="18" text-anchor="start" fill="#111111" font-weight="normal">10</text><text x="804" y="2067.6" font-size="13" text-anchor="start" fill="#111111" font-weight="normal">0</text>
<text x="867.8" y="2076.4" font-size="18" text-anchor="start" fill="#111111" font-weight="normal">10</text><text x="894" y="2067.6" font-size="13" text-anchor="start" fill="#111111" font-weight="normal">1</text>
<text x="961.2" y="2076.4" font-size="18" text-anchor="start" fill="#111111" font-weight="normal">10</text><text x="987" y="2067.6" font-size="13" text-anchor="start" fill="#111111" font-weight="normal">2</text>
<text x="656.5" y="1750.3" font-size="28" text-anchor="start" fill="#111111" font-weight="normal" textLength="139.4" lengthAdjust="spacingAndGlyphs">CD3-CD4+</text>
<text x="656.5" y="1777.8" font-size="28" text-anchor="start" fill="#111111" font-weight="normal" textLength="77" lengthAdjust="spacingAndGlyphs">1.60%</text>
<text x="827.4" y="1750.3" font-size="28" text-anchor="start" fill="#111111" font-weight="normal" textLength="146" lengthAdjust="spacingAndGlyphs">CD3+CD4+</text>
<text x="973.4" y="1777.8" font-size="28" text-anchor="end" fill="#111111" font-weight="normal" textLength="96" lengthAdjust="spacingAndGlyphs">43.63%</text>
<text x="656" y="2027.4" font-size="13" text-anchor="start" fill="#111111" font-weight="normal" textLength="67.5" lengthAdjust="spacingAndGlyphs">CD3-CD4-</text>
<text x="656" y="2044.3" font-size="13" text-anchor="start" fill="#111111" font-weight="normal" textLength="49" lengthAdjust="spacingAndGlyphs">26.72%</text>
<text x="904" y="2030.5" font-size="13" text-anchor="start" fill="#111111" font-weight="normal" textLength="71" lengthAdjust="spacingAndGlyphs">CD3+CD4-</text>
<text x="975" y="2047.3" font-size="13" text-anchor="end" fill="#111111" font-weight="normal" textLength="49" lengthAdjust="spacingAndGlyphs">28.05%</text>
<line x1="595" y1="1354.8" x2="595" y2="1992" stroke="#000" stroke-width="2.5"/><path d="M595 1342.8 L588 1356.8 L602 1356.8Z" fill="#000"/>
<text x="607.6" y="2030.5" font-size="29" text-anchor="middle" fill="#111111" font-weight="normal" textLength="55" lengthAdjust="spacingAndGlyphs" transform="rotate(-90 607.6 2030.5)">CD4</text>
<text x="602.3" y="2102" font-size="29" text-anchor="start" fill="#111111" font-weight="normal" textLength="56.4" lengthAdjust="spacingAndGlyphs">CD3</text>
<line x1="660.2" y1="2094.8" x2="925.4" y2="2094.8" stroke="#000" stroke-width="2.5"/><path d="M937.4 2094.8 L923.4 2087.8 L923.4 2101.8Z" fill="#000"/>
<clipPath id="cl9"><path d="M1189.8 1455.3 C1193.4 1452.4 1208.1 1450.9 1212.1 1450.9 C1216.1 1450.9 1221.2 1451.7 1224 1455.3 C1226.7 1459 1234.1 1476.2 1235.9 1482.1 C1237.6 1488 1237.3 1501 1238.8 1505.9 C1240.4 1510.7 1247.8 1518.1 1249.2 1523.7 C1250.6 1529.2 1250 1547.2 1250.7 1553.4 C1251.4 1559.6 1254.8 1572.8 1255.2 1577.2 C1255.5 1581.5 1252.5 1588.5 1253.7 1590.5 C1254.9 1592.6 1263.1 1592.9 1265.6 1595 C1268 1597.1 1271.7 1606.1 1274.5 1608.4 C1277.3 1610.6 1288 1611.9 1289.3 1614.3 C1290.7 1616.8 1288.5 1627.1 1286.4 1629.2 C1284.3 1631.3 1276 1630.9 1271.5 1632.2 C1267 1633.4 1254 1638.2 1247.7 1639.6 C1241.5 1641 1225 1644 1218 1644 C1211.1 1644 1194.5 1641.8 1188.3 1639.6 C1182.1 1637.3 1168.3 1629.2 1164.5 1624.7 C1160.7 1620.2 1156 1607.9 1155.6 1601 C1155.3 1594 1159.8 1575 1161.6 1565.3 C1163.3 1555.6 1168.4 1526.1 1170.5 1517.7 C1172.6 1509.4 1178.2 1498.8 1179.4 1494 C1180.6 1489.1 1179.7 1480.6 1180.9 1476.1 C1182.1 1471.6 1186.2 1458.3 1189.8 1455.3Z"/></clipPath><path d="M1189.8 1455.3 C1193.4 1452.4 1208.1 1450.9 1212.1 1450.9 C1216.1 1450.9 1221.2 1451.7 1224 1455.3 C1226.7 1459 1234.1 1476.2 1235.9 1482.1 C1237.6 1488 1237.3 1501 1238.8 1505.9 C1240.4 1510.7 1247.8 1518.1 1249.2 1523.7 C1250.6 1529.2 1250 1547.2 1250.7 1553.4 C1251.4 1559.6 1254.8 1572.8 1255.2 1577.2 C1255.5 1581.5 1252.5 1588.5 1253.7 1590.5 C1254.9 1592.6 1263.1 1592.9 1265.6 1595 C1268 1597.1 1271.7 1606.1 1274.5 1608.4 C1277.3 1610.6 1288 1611.9 1289.3 1614.3 C1290.7 1616.8 1288.5 1627.1 1286.4 1629.2 C1284.3 1631.3 1276 1630.9 1271.5 1632.2 C1267 1633.4 1254 1638.2 1247.7 1639.6 C1241.5 1641 1225 1644 1218 1644 C1211.1 1644 1194.5 1641.8 1188.3 1639.6 C1182.1 1637.3 1168.3 1629.2 1164.5 1624.7 C1160.7 1620.2 1156 1607.9 1155.6 1601 C1155.3 1594 1159.8 1575 1161.6 1565.3 C1163.3 1555.6 1168.4 1526.1 1170.5 1517.7 C1172.6 1509.4 1178.2 1498.8 1179.4 1494 C1180.6 1489.1 1179.7 1480.6 1180.9 1476.1 C1182.1 1471.6 1186.2 1458.3 1189.8 1455.3Z" fill="#0000ff"/><g clip-path="url(#cl9)"><ellipse cx="1206.1" cy="1532.6" rx="77.3" ry="154.5" fill="url(#jB)"/><ellipse cx="1262.6" cy="1618.8" rx="38.6" ry="23.8" fill="url(#jB)"/><ellipse cx="1203.8" cy="1578.7" rx="40.1" ry="86.2" fill="url(#jR)"/></g>
<path d="M1253.7 1583.1 H1372 V1645 H1244.8 V1627.7Z" fill="none" stroke="#A0262A" stroke-width="2.6"/>
<rect x="1089.6" y="1333.5" width="329" height="325.4" fill="none" stroke="#000" stroke-width="3"/>
<line x1="1090" y1="1658.9" x2="1090" y2="1661.9" stroke="#555" stroke-width="1.3"/><line x1="1100.9" y1="1658.9" x2="1100.9" y2="1661.9" stroke="#555" stroke-width="1.3"/><line x1="1111.9" y1="1658.9" x2="1111.9" y2="1661.9" stroke="#555" stroke-width="1.3"/><line x1="1122.8" y1="1658.9" x2="1122.8" y2="1661.9" stroke="#555" stroke-width="1.3"/><line x1="1133.7" y1="1658.9" x2="1133.7" y2="1661.9" stroke="#555" stroke-width="1.3"/><line x1="1144.7" y1="1658.9" x2="1144.7" y2="1661.9" stroke="#555" stroke-width="1.3"/><line x1="1155.6" y1="1658.9" x2="1155.6" y2="1661.9" stroke="#555" stroke-width="1.3"/><line x1="1166.5" y1="1658.9" x2="1166.5" y2="1661.9" stroke="#555" stroke-width="1.3"/><line x1="1177.5" y1="1658.9" x2="1177.5" y2="1661.9" stroke="#555" stroke-width="1.3"/><line x1="1188.4" y1="1658.9" x2="1188.4" y2="1661.9" stroke="#555" stroke-width="1.3"/><line x1="1199.3" y1="1658.9" x2="1199.3" y2="1661.9" stroke="#555" stroke-width="1.3"/><line x1="1210.3" y1="1658.9" x2="1210.3" y2="1661.9" stroke="#555" stroke-width="1.3"/><line x1="1221.2" y1="1658.9" x2="1221.2" y2="1661.9" stroke="#555" stroke-width="1.3"/><line x1="1232.1" y1="1658.9" x2="1232.1" y2="1661.9" stroke="#555" stroke-width="1.3"/><line x1="1243.1" y1="1658.9" x2="1243.1" y2="1661.9" stroke="#555" stroke-width="1.3"/><line x1="1254" y1="1658.9" x2="1254" y2="1661.9" stroke="#555" stroke-width="1.3"/><line x1="1264.9" y1="1658.9" x2="1264.9" y2="1661.9" stroke="#555" stroke-width="1.3"/><line x1="1275.9" y1="1658.9" x2="1275.9" y2="1661.9" stroke="#555" stroke-width="1.3"/><line x1="1286.8" y1="1658.9" x2="1286.8" y2="1661.9" stroke="#555" stroke-width="1.3"/><line x1="1297.7" y1="1658.9" x2="1297.7" y2="1661.9" stroke="#555" stroke-width="1.3"/><line x1="1308.7" y1="1658.9" x2="1308.7" y2="1661.9" stroke="#555" stroke-width="1.3"/><line x1="1319.6" y1="1658.9" x2="1319.6" y2="1661.9" stroke="#555" stroke-width="1.3"/><line x1="1330.5" y1="1658.9" x2="1330.5" y2="1661.9" stroke="#555" stroke-width="1.3"/><line x1="1341.5" y1="1658.9" x2="1341.5" y2="1661.9" stroke="#555" stroke-width="1.3"/><line x1="1352.4" y1="1658.9" x2="1352.4" y2="1661.9" stroke="#555" stroke-width="1.3"/><line x1="1363.3" y1="1658.9" x2="1363.3" y2="1661.9" stroke="#555" stroke-width="1.3"/><line x1="1374.3" y1="1658.9" x2="1374.3" y2="1661.9" stroke="#555" stroke-width="1.3"/><line x1="1385.2" y1="1658.9" x2="1385.2" y2="1661.9" stroke="#555" stroke-width="1.3"/><line x1="1396.1" y1="1658.9" x2="1396.1" y2="1661.9" stroke="#555" stroke-width="1.3"/><line x1="1407.1" y1="1658.9" x2="1407.1" y2="1661.9" stroke="#555" stroke-width="1.3"/><line x1="1418" y1="1658.9" x2="1418" y2="1661.9" stroke="#555" stroke-width="1.3"/>
<line x1="1083" y1="1381.8" x2="1089.6" y2="1381.8" stroke="#000" stroke-width="3"/><line x1="1083" y1="1461.9" x2="1089.6" y2="1461.9" stroke="#000" stroke-width="3"/><line x1="1083" y1="1541.9" x2="1089.6" y2="1541.9" stroke="#000" stroke-width="3"/><line x1="1083" y1="1596" x2="1089.6" y2="1596" stroke="#000" stroke-width="3"/><line x1="1083" y1="1639.5" x2="1089.6" y2="1639.5" stroke="#000" stroke-width="3"/><line x1="1083" y1="1656" x2="1089.6" y2="1656" stroke="#000" stroke-width="3"/><text x="1076.7" y="1355" font-size="14" text-anchor="start" fill="#111111" font-weight="normal" transform="rotate(-90 1076.7 1355)">10</text><text x="1071" y="1332.6" font-size="13" text-anchor="start" fill="#111111" font-weight="normal" transform="rotate(-90 1071 1332.6)">1.5</text><text x="1076.7" y="1481.6" font-size="14" text-anchor="start" fill="#111111" font-weight="normal" transform="rotate(-90 1076.7 1481.6)">10</text><text x="1071" y="1466" font-size="13" text-anchor="start" fill="#111111" font-weight="normal" transform="rotate(-90 1071 1466)">1.1</text><text x="1076.7" y="1561.7" font-size="14" text-anchor="start" fill="#111111" font-weight="normal" transform="rotate(-90 1076.7 1561.7)">10</text><text x="1071" y="1540.6" font-size="13" text-anchor="start" fill="#111111" font-weight="normal" transform="rotate(-90 1071 1540.6)">0.6</text><text x="1076.7" y="1606.6" font-size="14" text-anchor="start" fill="#111111" font-weight="normal" transform="rotate(-90 1076.7 1606.6)">0</text><text x="1076.7" y="1654.4" font-size="14" text-anchor="start" fill="#111111" font-weight="normal" transform="rotate(-90 1076.7 1654.4)">-10</text><text x="1071" y="1626" font-size="13" text-anchor="start" fill="#111111" font-weight="normal" transform="rotate(-90 1071 1626)">0.7</text>
<line x1="1090" y1="1658.9" x2="1090" y2="1665" stroke="#000" stroke-width="3"/>
<line x1="1131.2" y1="1658.9" x2="1131.2" y2="1665" stroke="#000" stroke-width="3"/>
<line x1="1172" y1="1658.9" x2="1172" y2="1665" stroke="#000" stroke-width="3"/>
<line x1="1321.4" y1="1658.9" x2="1321.4" y2="1665" stroke="#000" stroke-width="3"/>
<line x1="1418" y1="1658.9" x2="1418" y2="1665" stroke="#000" stroke-width="3"/>
<text x="1073.8" y="1685" font-size="16" text-anchor="start" fill="#111111" font-weight="normal">-10</text><text x="1095" y="1679" font-size="13" text-anchor="start" fill="#111111" font-weight="normal">0</text>
<text x="1126.5" y="1685" font-size="16" text-anchor="start" fill="#111111" font-weight="normal">0</text>
<text x="1158" y="1685" font-size="16" text-anchor="start" fill="#111111" font-weight="normal">10</text><text x="1175" y="1679" font-size="13" text-anchor="start" fill="#111111" font-weight="normal">0</text>
<text x="1306" y="1685" font-size="16" text-anchor="start" fill="#111111" font-weight="normal">10</text><text x="1323" y="1679" font-size="13" text-anchor="start" fill="#111111" font-weight="normal">1</text>
<text x="1402" y="1685" font-size="16" text-anchor="start" fill="#111111" font-weight="normal">10</text><text x="1418.6" y="1679" font-size="13" text-anchor="start" fill="#111111" font-weight="normal">1.5</text>
<text x="1081.3" y="1319.5" font-size="28" text-anchor="start" fill="#0E820E" font-weight="normal" textLength="169.4" lengthAdjust="spacingAndGlyphs">Lymphocytes</text>
<text x="1255" y="1319.5" font-size="28" text-anchor="start" fill="#111111" font-weight="normal" textLength="154.7" lengthAdjust="spacingAndGlyphs">/CD3+CD4+</text>
<text x="1411.2" y="1366.2" font-size="27" text-anchor="end" fill="#A0262A" font-weight="normal" textLength="301.6" lengthAdjust="spacingAndGlyphs">Treg(CD45+CD3+CD4+</text>
<text x="1411.2" y="1400.4" font-size="27" text-anchor="end" fill="#A0262A" font-weight="normal" textLength="243.5" lengthAdjust="spacingAndGlyphs">CD25hiCD127Low)</text>
<text x="1411.2" y="1434.5" font-size="27" text-anchor="end" fill="#A0262A" font-weight="normal" textLength="77" lengthAdjust="spacingAndGlyphs">1.84%</text>
<clipPath id="cl10"><path d="M1212.1 1827.9 C1213.3 1827.9 1215.3 1836.1 1218 1838.3 C1220.8 1840.6 1232.6 1845.3 1235.9 1847.2 C1239.1 1849.1 1245.2 1851.5 1246.3 1854.7 C1247.3 1857.8 1243.6 1868.9 1244.8 1874 C1246 1879 1255.4 1892.2 1256.7 1897.7 C1257.9 1903.3 1255.2 1916 1255.2 1921.5 C1255.2 1927.1 1256 1939.7 1256.7 1945.3 C1257.4 1950.8 1260.4 1963.9 1261.1 1969.1 C1261.8 1974.3 1259.7 1987.1 1262.6 1989.9 C1265.5 1992.6 1281.2 1991.1 1286.4 1992.8 C1291.6 1994.6 1303.4 2002.8 1307.2 2004.7 C1311 2006.6 1315.6 2008.5 1319.1 2009.2 C1322.5 2009.9 1333.6 2009.5 1336.9 2010.7 C1340.2 2011.9 1346.6 2017.3 1347.3 2019.6 C1348 2021.8 1345.4 2028.1 1342.8 2030 C1340.2 2031.9 1332.6 2035.1 1325 2035.9 C1317.4 2036.8 1286.8 2036.7 1277.5 2037.4 C1268.1 2038.1 1249.3 2040.5 1244.8 2041.9 C1240.3 2043.3 1241.3 2048.4 1238.8 2049.3 C1236.4 2050.2 1228.1 2049.8 1224 2049.3 C1219.8 2048.8 1208 2046.4 1203.2 2044.8 C1198.3 2043.3 1186.9 2038.9 1182.4 2035.9 C1177.9 2033 1167.5 2023.6 1164.5 2019.6 C1161.6 2015.6 1157.8 2006.3 1157.1 2001.8 C1156.4 1997.2 1157.5 1985.8 1158.6 1981 C1159.6 1976.1 1164.3 1967.1 1166 1960.1 C1167.8 1953.2 1171.7 1930.2 1173.4 1921.5 C1175.2 1912.8 1179.1 1891.7 1180.9 1885.9 C1182.6 1880 1186.1 1874.1 1188.3 1871 C1190.6 1867.9 1197.9 1862.9 1200.2 1859.1 C1202.4 1855.3 1206.2 1841.9 1207.6 1838.3 C1209 1834.7 1210.9 1827.9 1212.1 1827.9Z"/></clipPath><path d="M1212.1 1827.9 C1213.3 1827.9 1215.3 1836.1 1218 1838.3 C1220.8 1840.6 1232.6 1845.3 1235.9 1847.2 C1239.1 1849.1 1245.2 1851.5 1246.3 1854.7 C1247.3 1857.8 1243.6 1868.9 1244.8 1874 C1246 1879 1255.4 1892.2 1256.7 1897.7 C1257.9 1903.3 1255.2 1916 1255.2 1921.5 C1255.2 1927.1 1256 1939.7 1256.7 1945.3 C1257.4 1950.8 1260.4 1963.9 1261.1 1969.1 C1261.8 1974.3 1259.7 1987.1 1262.6 1989.9 C1265.5 1992.6 1281.2 1991.1 1286.4 1992.8 C1291.6 1994.6 1303.4 2002.8 1307.2 2004.7 C1311 2006.6 1315.6 2008.5 1319.1 2009.2 C1322.5 2009.9 1333.6 2009.5 1336.9 2010.7 C1340.2 2011.9 1346.6 2017.3 1347.3 2019.6 C1348 2021.8 1345.4 2028.1 1342.8 2030 C1340.2 2031.9 1332.6 2035.1 1325 2035.9 C1317.4 2036.8 1286.8 2036.7 1277.5 2037.4 C1268.1 2038.1 1249.3 2040.5 1244.8 2041.9 C1240.3 2043.3 1241.3 2048.4 1238.8 2049.3 C1236.4 2050.2 1228.1 2049.8 1224 2049.3 C1219.8 2048.8 1208 2046.4 1203.2 2044.8 C1198.3 2043.3 1186.9 2038.9 1182.4 2035.9 C1177.9 2033 1167.5 2023.6 1164.5 2019.6 C1161.6 2015.6 1157.8 2006.3 1157.1 2001.8 C1156.4 1997.2 1157.5 1985.8 1158.6 1981 C1159.6 1976.1 1164.3 1967.1 1166 1960.1 C1167.8 1953.2 1171.7 1930.2 1173.4 1921.5 C1175.2 1912.8 1179.1 1891.7 1180.9 1885.9 C1182.6 1880 1186.1 1874.1 1188.3 1871 C1190.6 1867.9 1197.9 1862.9 1200.2 1859.1 C1202.4 1855.3 1206.2 1841.9 1207.6 1838.3 C1209 1834.7 1210.9 1827.9 1212.1 1827.9Z" fill="#0000ff"/><g clip-path="url(#cl10)"><ellipse cx="1215.1" cy="1927.5" rx="77.3" ry="154.5" fill="url(#jB)"/><ellipse cx="1256.7" cy="2016.6" rx="62.4" ry="28.2" fill="url(#jL)"/><ellipse cx="1207.6" cy="1975" rx="55" ry="89.2" fill="url(#jR)"/></g>
<path d="M1256.7 1975.6 L1372 1975.6 L1372 2038 L1244.8 2038 L1244.8 2021.1Z" fill="none" stroke="#A0262A" stroke-width="2.6"/>
<rect x="1089.6" y="1725.4" width="329" height="326.3" fill="none" stroke="#000" stroke-width="3"/>
<line x1="1090" y1="2051.7" x2="1090" y2="2054.7" stroke="#555" stroke-width="1.3"/><line x1="1100.9" y1="2051.7" x2="1100.9" y2="2054.7" stroke="#555" stroke-width="1.3"/><line x1="1111.9" y1="2051.7" x2="1111.9" y2="2054.7" stroke="#555" stroke-width="1.3"/><line x1="1122.8" y1="2051.7" x2="1122.8" y2="2054.7" stroke="#555" stroke-width="1.3"/><line x1="1133.7" y1="2051.7" x2="1133.7" y2="2054.7" stroke="#555" stroke-width="1.3"/><line x1="1144.7" y1="2051.7" x2="1144.7" y2="2054.7" stroke="#555" stroke-width="1.3"/><line x1="1155.6" y1="2051.7" x2="1155.6" y2="2054.7" stroke="#555" stroke-width="1.3"/><line x1="1166.5" y1="2051.7" x2="1166.5" y2="2054.7" stroke="#555" stroke-width="1.3"/><line x1="1177.5" y1="2051.7" x2="1177.5" y2="2054.7" stroke="#555" stroke-width="1.3"/><line x1="1188.4" y1="2051.7" x2="1188.4" y2="2054.7" stroke="#555" stroke-width="1.3"/><line x1="1199.3" y1="2051.7" x2="1199.3" y2="2054.7" stroke="#555" stroke-width="1.3"/><line x1="1210.3" y1="2051.7" x2="1210.3" y2="2054.7" stroke="#555" stroke-width="1.3"/><line x1="1221.2" y1="2051.7" x2="1221.2" y2="2054.7" stroke="#555" stroke-width="1.3"/><line x1="1232.1" y1="2051.7" x2="1232.1" y2="2054.7" stroke="#555" stroke-width="1.3"/><line x1="1243.1" y1="2051.7" x2="1243.1" y2="2054.7" stroke="#555" stroke-width="1.3"/><line x1="1254" y1="2051.7" x2="1254" y2="2054.7" stroke="#555" stroke-width="1.3"/><line x1="1264.9" y1="2051.7" x2="1264.9" y2="2054.7" stroke="#555" stroke-width="1.3"/><line x1="1275.9" y1="2051.7" x2="1275.9" y2="2054.7" stroke="#555" stroke-width="1.3"/><line x1="1286.8" y1="2051.7" x2="1286.8" y2="2054.7" stroke="#555" stroke-width="1.3"/><line x1="1297.7" y1="2051.7" x2="1297.7" y2="2054.7" stroke="#555" stroke-width="1.3"/><line x1="1308.7" y1="2051.7" x2="1308.7" y2="2054.7" stroke="#555" stroke-width="1.3"/><line x1="1319.6" y1="2051.7" x2="1319.6" y2="2054.7" stroke="#555" stroke-width="1.3"/><line x1="1330.5" y1="2051.7" x2="1330.5" y2="2054.7" stroke="#555" stroke-width="1.3"/><line x1="1341.5" y1="2051.7" x2="1341.5" y2="2054.7" stroke="#555" stroke-width="1.3"/><line x1="1352.4" y1="2051.7" x2="1352.4" y2="2054.7" stroke="#555" stroke-width="1.3"/><line x1="1363.3" y1="2051.7" x2="1363.3" y2="2054.7" stroke="#555" stroke-width="1.3"/><line x1="1374.3" y1="2051.7" x2="1374.3" y2="2054.7" stroke="#555" stroke-width="1.3"/><line x1="1385.2" y1="2051.7" x2="1385.2" y2="2054.7" stroke="#555" stroke-width="1.3"/><line x1="1396.1" y1="2051.7" x2="1396.1" y2="2054.7" stroke="#555" stroke-width="1.3"/><line x1="1407.1" y1="2051.7" x2="1407.1" y2="2054.7" stroke="#555" stroke-width="1.3"/><line x1="1418" y1="2051.7" x2="1418" y2="2054.7" stroke="#555" stroke-width="1.3"/>
<line x1="1083" y1="1773.7" x2="1089.6" y2="1773.7" stroke="#000" stroke-width="3"/><line x1="1083" y1="1853.8" x2="1089.6" y2="1853.8" stroke="#000" stroke-width="3"/><line x1="1083" y1="1933.8" x2="1089.6" y2="1933.8" stroke="#000" stroke-width="3"/><line x1="1083" y1="1987.9" x2="1089.6" y2="1987.9" stroke="#000" stroke-width="3"/><line x1="1083" y1="2031.4" x2="1089.6" y2="2031.4" stroke="#000" stroke-width="3"/><line x1="1083" y1="2047.9" x2="1089.6" y2="2047.9" stroke="#000" stroke-width="3"/><text x="1076.7" y="1746.9" font-size="14" text-anchor="start" fill="#111111" font-weight="normal" transform="rotate(-90 1076.7 1746.9)">10</text><text x="1071" y="1724.5" font-size="13" text-anchor="start" fill="#111111" font-weight="normal" transform="rotate(-90 1071 1724.5)">1.5</text><text x="1076.7" y="1873.5" font-size="14" text-anchor="start" fill="#111111" font-weight="normal" transform="rotate(-90 1076.7 1873.5)">10</text><text x="1071" y="1857.9" font-size="13" text-anchor="start" fill="#111111" font-weight="normal" transform="rotate(-90 1071 1857.9)">1.1</text><text x="1076.7" y="1953.6" font-size="14" text-anchor="start" fill="#111111" font-weight="normal" transform="rotate(-90 1076.7 1953.6)">10</text><text x="1071" y="1932.5" font-size="13" text-anchor="start" fill="#111111" font-weight="normal" transform="rotate(-90 1071 1932.5)">0.6</text><text x="1076.7" y="1998.5" font-size="14" text-anchor="start" fill="#111111" font-weight="normal" transform="rotate(-90 1076.7 1998.5)">0</text><text x="1076.7" y="2046.3" font-size="14" text-anchor="start" fill="#111111" font-weight="normal" transform="rotate(-90 1076.7 2046.3)">-10</text><text x="1071" y="2017.9" font-size="13" text-anchor="start" fill="#111111" font-weight="normal" transform="rotate(-90 1071 2017.9)">0.7</text>
<line x1="1090" y1="2051.7" x2="1090" y2="2058" stroke="#000" stroke-width="3"/>
<line x1="1131.2" y1="2051.7" x2="1131.2" y2="2058" stroke="#000" stroke-width="3"/>
<line x1="1172" y1="2051.7" x2="1172" y2="2058" stroke="#000" stroke-width="3"/>
<line x1="1321.4" y1="2051.7" x2="1321.4" y2="2058" stroke="#000" stroke-width="3"/>
<line x1="1418" y1="2051.7" x2="1418" y2="2058" stroke="#000" stroke-width="3"/>
<text x="1073.8" y="2078" font-size="16" text-anchor="start" fill="#111111" font-weight="normal">-10</text><text x="1095" y="2072" font-size="13" text-anchor="start" fill="#111111" font-weight="normal">0</text>
<text x="1126.5" y="2078" font-size="16" text-anchor="start" fill="#111111" font-weight="normal">0</text>
<text x="1158" y="2078" font-size="16" text-anchor="start" fill="#111111" font-weight="normal">10</text><text x="1175" y="2072" font-size="13" text-anchor="start" fill="#111111" font-weight="normal">0</text>
<text x="1306" y="2078" font-size="16" text-anchor="start" fill="#111111" font-weight="normal">10</text><text x="1323" y="2072" font-size="13" text-anchor="start" fill="#111111" font-weight="normal">1</text>
<text x="1402" y="2078" font-size="16" text-anchor="start" fill="#111111" font-weight="normal">10</text><text x="1418.6" y="2072" font-size="13" text-anchor="start" fill="#111111" font-weight="normal">1.5</text>
<text x="1409.7" y="1765.5" font-size="27" text-anchor="end" fill="#A0262A" font-weight="normal" textLength="303" lengthAdjust="spacingAndGlyphs">Treg(CD45+CD3+CD4+</text>
<text x="1409.7" y="1799.7" font-size="27" text-anchor="end" fill="#A0262A" font-weight="normal" textLength="243.5" lengthAdjust="spacingAndGlyphs">CD25hiCD127Low)</text>
<text x="1409.7" y="1833.8" font-size="27" text-anchor="end" fill="#A0262A" font-weight="normal" textLength="79" lengthAdjust="spacingAndGlyphs">6.39%</text>
<line x1="1036.2" y1="1353" x2="1036.2" y2="1943.8" stroke="#000" stroke-width="2.5"/><path d="M1036.2 1341 L1029.2 1355 L1043.2 1355Z" fill="#000"/>
<text x="1047.5" y="2007.5" font-size="29" text-anchor="middle" fill="#111111" font-weight="normal" textLength="89" lengthAdjust="spacingAndGlyphs" transform="rotate(-90 1047.5 2007.5)">CD127</text>
<text x="1062.3" y="2103" font-size="29" text-anchor="start" fill="#111111" font-weight="normal" textLength="73" lengthAdjust="spacingAndGlyphs">CD25</text>
<line x1="1144.5" y1="2094.7" x2="1383.4" y2="2094.7" stroke="#000" stroke-width="2.5"/><path d="M1395.4 2094.7 L1381.4 2087.7 L1381.4 2101.7Z" fill="#000"/>
<line x1="189.8" y1="2334.2" x2="508.6" y2="2334.2" stroke="#111" stroke-width="1.6" stroke-dasharray="2 1"/>
<path d="M275.9 2143.3 C276.2 2147.5 276.8 2161.1 277.5 2168.6 C278.1 2176.1 279.3 2182.2 279.8 2188.1 C280.3 2193.9 280.6 2198.5 280.6 2203.7 C280.5 2208.9 279.9 2214.1 279.4 2219.3 C279 2224.5 276.8 2229.2 277.8 2234.9 C278.9 2240.5 282.4 2246.7 285.6 2253.2 C288.9 2259.7 291.8 2267.1 297.3 2273.8 C302.9 2280.5 312.9 2286.8 318.8 2293.3 C324.6 2299.8 329.8 2307 332.4 2312.8 C335 2318.6 335.2 2323.2 334.4 2328.4 C333.5 2333.6 331.1 2338.1 327.3 2344 C323.6 2349.8 317.3 2355.7 311.8 2363.5 C306.2 2371.3 298.8 2382.3 294.2 2390.7 C289.7 2399.2 286.9 2407.6 284.5 2414.1 C282 2420.6 280.8 2422.9 279.4 2429.7 C278 2436.5 276.5 2450.8 275.9 2455 L275.9 2455 C275.3 2450.8 273.8 2436.5 272.4 2429.7 C271 2422.9 269.8 2420.6 267.3 2414.1 C264.9 2407.6 262.1 2399.2 257.6 2390.7 C253 2382.3 245.6 2371.3 240 2363.5 C234.5 2355.7 228.2 2349.8 224.5 2344 C220.7 2338.1 218.3 2333.6 217.4 2328.4 C216.6 2323.2 216.8 2318.6 219.4 2312.8 C222 2307 227.2 2299.8 233 2293.3 C238.9 2286.8 248.9 2280.5 254.5 2273.8 C260 2267.1 262.9 2259.7 266.2 2253.2 C269.4 2246.7 272.9 2240.5 274 2234.9 C275 2229.2 272.8 2224.5 272.4 2219.3 C271.9 2214.1 271.3 2208.9 271.2 2203.7 C271.2 2198.5 271.5 2193.9 272 2188.1 C272.5 2182.2 273.7 2176.1 274.3 2168.6 C275 2161.1 275.6 2147.5 275.9 2143.3Z" fill="#F2AC5E" stroke="#BDBDBD" stroke-width="2.4"/>
<path d="M422.8 2127.7 C423.1 2130.6 424 2140.4 424.7 2145.2 C425.5 2150.1 426.9 2151.7 427.5 2156.9 C428.1 2162.1 428.4 2169.9 428.3 2176.4 C428.1 2182.9 427.2 2189.4 426.7 2195.9 C426.2 2202.4 425.5 2208.9 425.5 2215.4 C425.5 2221.9 423.9 2227.7 426.7 2234.9 C429.5 2242 436.4 2250.4 442.3 2258.2 C448.1 2266 456.1 2273.2 461.8 2281.6 C467.5 2290.1 475.2 2301.1 476.6 2308.9 C478 2316.7 474 2321.2 470.3 2328.4 C466.7 2335.5 459.6 2343.3 454.8 2351.8 C449.9 2360.2 445.4 2369.3 441.1 2379 C436.8 2388.8 431.8 2401.8 429 2410.2 C426.3 2418.7 425.8 2422.2 424.7 2429.7 C423.7 2437.2 423.1 2450.8 422.8 2455 L422.8 2455 C422.5 2450.8 421.9 2437.2 420.9 2429.7 C419.8 2422.2 419.3 2418.7 416.6 2410.2 C413.8 2401.8 408.8 2388.8 404.5 2379 C400.2 2369.3 395.7 2360.2 390.8 2351.8 C386 2343.3 378.9 2335.5 375.3 2328.4 C371.6 2321.2 367.6 2316.7 369 2308.9 C370.4 2301.1 378.1 2290.1 383.8 2281.6 C389.5 2273.2 397.5 2266 403.3 2258.2 C409.2 2250.4 416.1 2242 418.9 2234.9 C421.7 2227.7 420.1 2221.9 420.1 2215.4 C420.1 2208.9 419.4 2202.4 418.9 2195.9 C418.4 2189.4 417.5 2182.9 417.3 2176.4 C417.2 2169.9 417.5 2162.1 418.1 2156.9 C418.7 2151.7 420.1 2150.1 420.9 2145.2 C421.6 2140.4 422.5 2130.6 422.8 2127.7Z" fill="#B07CB4" stroke="#BDBDBD" stroke-width="2.4"/>
<line x1="200.7" y1="2336.2" x2="350" y2="2336.2" stroke="#111" stroke-width="2.6"/>
<line x1="348" y1="2319.4" x2="498" y2="2319.4" stroke="#111" stroke-width="2.6"/>
<line x1="273.9" y1="2455" x2="277.9" y2="2455" stroke="#000" stroke-width="1"/>
<line x1="262.4" y1="2283.1" x2="289.4" y2="2283.1" stroke="#fff" stroke-width="2.8"/><line x1="262.4" y1="2291.8" x2="289.4" y2="2291.8" stroke="#fff" stroke-width="2.8"/><line x1="262.4" y1="2300.5" x2="289.4" y2="2300.5" stroke="#fff" stroke-width="2.8"/><line x1="262.4" y1="2307.4" x2="289.4" y2="2307.4" stroke="#fff" stroke-width="2.8"/><line x1="262.4" y1="2314.4" x2="289.4" y2="2314.4" stroke="#fff" stroke-width="2.8"/><line x1="262.4" y1="2319.6" x2="289.4" y2="2319.6" stroke="#fff" stroke-width="2.8"/><line x1="262.4" y1="2324.8" x2="289.4" y2="2324.8" stroke="#fff" stroke-width="2.8"/><line x1="262.4" y1="2328.2" x2="289.4" y2="2328.2" stroke="#fff" stroke-width="2.8"/><line x1="262.4" y1="2333.4" x2="289.4" y2="2333.4" stroke="#fff" stroke-width="2.8"/><line x1="262.4" y1="2336.9" x2="289.4" y2="2336.9" stroke="#fff" stroke-width="2.8"/><line x1="262.4" y1="2340.4" x2="289.4" y2="2340.4" stroke="#fff" stroke-width="2.8"/><line x1="262.4" y1="2345.6" x2="289.4" y2="2345.6" stroke="#fff" stroke-width="2.8"/><line x1="262.4" y1="2349.1" x2="289.4" y2="2349.1" stroke="#fff" stroke-width="2.8"/><line x1="262.4" y1="2357.7" x2="289.4" y2="2357.7" stroke="#fff" stroke-width="2.8"/><line x1="262.4" y1="2375.1" x2="289.4" y2="2375.1" stroke="#fff" stroke-width="2.8"/><line x1="262.4" y1="2378.5" x2="289.4" y2="2378.5" stroke="#fff" stroke-width="2.8"/><line x1="262.4" y1="2383.7" x2="289.4" y2="2383.7" stroke="#fff" stroke-width="2.8"/><line x1="262.4" y1="2390.7" x2="289.4" y2="2390.7" stroke="#fff" stroke-width="2.8"/><line x1="262.4" y1="2395.9" x2="289.4" y2="2395.9" stroke="#fff" stroke-width="2.8"/><line x1="262.4" y1="2401.1" x2="289.4" y2="2401.1" stroke="#fff" stroke-width="2.8"/>
<line x1="409.3" y1="2271" x2="436.3" y2="2271" stroke="#fff" stroke-width="2.8"/><line x1="409.3" y1="2279.7" x2="436.3" y2="2279.7" stroke="#fff" stroke-width="2.8"/><line x1="409.3" y1="2293.5" x2="436.3" y2="2293.5" stroke="#fff" stroke-width="2.8"/><line x1="409.3" y1="2298.8" x2="436.3" y2="2298.8" stroke="#fff" stroke-width="2.8"/><line x1="409.3" y1="2305.7" x2="436.3" y2="2305.7" stroke="#fff" stroke-width="2.8"/><line x1="409.3" y1="2309.2" x2="436.3" y2="2309.2" stroke="#fff" stroke-width="2.8"/><line x1="409.3" y1="2312.6" x2="436.3" y2="2312.6" stroke="#fff" stroke-width="2.8"/><line x1="409.3" y1="2316.1" x2="436.3" y2="2316.1" stroke="#fff" stroke-width="2.8"/><line x1="409.3" y1="2319.6" x2="436.3" y2="2319.6" stroke="#fff" stroke-width="2.8"/><line x1="409.3" y1="2331.7" x2="436.3" y2="2331.7" stroke="#fff" stroke-width="2.8"/><line x1="409.3" y1="2335.2" x2="436.3" y2="2335.2" stroke="#fff" stroke-width="2.8"/><line x1="409.3" y1="2340.4" x2="436.3" y2="2340.4" stroke="#fff" stroke-width="2.8"/><line x1="409.3" y1="2349.1" x2="436.3" y2="2349.1" stroke="#fff" stroke-width="2.8"/><line x1="409.3" y1="2352.5" x2="436.3" y2="2352.5" stroke="#fff" stroke-width="2.8"/><line x1="409.3" y1="2362.9" x2="436.3" y2="2362.9" stroke="#fff" stroke-width="2.8"/><line x1="409.3" y1="2373.3" x2="436.3" y2="2373.3" stroke="#fff" stroke-width="2.8"/><line x1="409.3" y1="2390.7" x2="436.3" y2="2390.7" stroke="#fff" stroke-width="2.8"/><line x1="409.3" y1="2401.1" x2="436.3" y2="2401.1" stroke="#fff" stroke-width="2.8"/>
<line x1="262" y1="2209.9" x2="290" y2="2209.9" stroke="#111" stroke-width="2.4"/><line x1="270.9" y1="2210.6" x2="280.9" y2="2210.6" stroke="#fff" stroke-width="2.8"/>
<line x1="409" y1="2187.7" x2="437" y2="2187.7" stroke="#111" stroke-width="2.4"/><line x1="417.8" y1="2188.8" x2="427.8" y2="2188.8" stroke="#fff" stroke-width="2.8"/>
<rect x="189.8" y="2132.8" width="318.8" height="322.2" fill="none" stroke="#000" stroke-width="2.2"/>
<line x1="184" y1="2421.9" x2="189.8" y2="2421.9" stroke="#000" stroke-width="2"/>
<text x="177" y="2431.9" font-size="25" text-anchor="end" fill="#111111" font-weight="normal">0</text>
<line x1="184" y1="2352.5" x2="189.8" y2="2352.5" stroke="#000" stroke-width="2"/>
<text x="177" y="2362.5" font-size="25" text-anchor="end" fill="#111111" font-weight="normal">20</text>
<line x1="184" y1="2283.1" x2="189.8" y2="2283.1" stroke="#000" stroke-width="2"/>
<text x="177" y="2293.1" font-size="25" text-anchor="end" fill="#111111" font-weight="normal">40</text>
<line x1="184" y1="2213.8" x2="189.8" y2="2213.8" stroke="#000" stroke-width="2"/>
<text x="177" y="2223.8" font-size="25" text-anchor="end" fill="#111111" font-weight="normal">60</text>
<line x1="184" y1="2144.4" x2="189.8" y2="2144.4" stroke="#000" stroke-width="2"/>
<text x="177" y="2154.4" font-size="25" text-anchor="end" fill="#111111" font-weight="normal">80</text>
<text x="131.5" y="2278.5" font-size="28.5" text-anchor="middle" fill="#111111" font-weight="normal" textLength="189" lengthAdjust="spacingAndGlyphs" transform="rotate(-90 131.5 2278.5)">% CD45+ cells</text>
<text x="216.3" y="2484.3" font-size="27" text-anchor="start" fill="#111111" font-weight="normal" textLength="277.8" lengthAdjust="spacingAndGlyphs">SC (n=30) LC (n=22)</text>
<line x1="647" y1="2291.5" x2="966.5" y2="2291.5" stroke="#111" stroke-width="1.6" stroke-dasharray="2 1"/>
<path d="M732.3 2165.3 C732.7 2169.4 733.8 2184.1 734.8 2190.3 C735.8 2196.6 737.2 2198.7 738.6 2202.9 C740 2207 741.4 2210.7 743.3 2215.4 C745.1 2220.1 747.2 2226.3 749.5 2231 C751.9 2235.7 755 2238.9 757.4 2243.6 C759.7 2248.3 762.2 2253.5 763.6 2259.2 C765.1 2265 765.9 2271.8 766.1 2278 C766.4 2284.3 765.9 2291.1 765.2 2296.8 C764.5 2302.6 763.9 2307.8 762.1 2312.5 C760.2 2317.2 757.1 2320.3 754.2 2325 C751.4 2329.7 747.1 2336 744.8 2340.7 C742.5 2345.4 741.2 2349.5 740.4 2353.2 C739.7 2356.8 739.4 2359.4 740.1 2362.6 C740.9 2365.7 743.8 2369.4 744.8 2372 C745.9 2374.6 746.4 2375.6 746.4 2378.2 C746.4 2380.8 745.9 2384 744.8 2387.6 C743.8 2391.3 741.7 2395.5 740.1 2400.2 C738.6 2404.9 736.7 2410.1 735.4 2415.8 C734.1 2421.6 732.8 2431.5 732.3 2434.6 L732.3 2434.6 C731.8 2431.5 730.5 2421.6 729.2 2415.8 C727.9 2410.1 726 2404.9 724.5 2400.2 C722.9 2395.5 720.8 2391.3 719.8 2387.6 C718.7 2384 718.2 2380.8 718.2 2378.2 C718.2 2375.6 718.7 2374.6 719.8 2372 C720.8 2369.4 723.7 2365.7 724.5 2362.6 C725.2 2359.4 724.9 2356.8 724.2 2353.2 C723.4 2349.5 722.1 2345.4 719.8 2340.7 C717.5 2336 713.2 2329.7 710.4 2325 C707.5 2320.3 704.4 2317.2 702.5 2312.5 C700.7 2307.8 700.1 2302.6 699.4 2296.8 C698.7 2291.1 698.2 2284.3 698.5 2278 C698.7 2271.8 699.5 2265 701 2259.2 C702.4 2253.5 704.9 2248.3 707.2 2243.6 C709.6 2238.9 712.7 2235.7 715.1 2231 C717.4 2226.3 719.5 2220.1 721.3 2215.4 C723.2 2210.7 724.6 2207 726 2202.9 C727.4 2198.7 728.8 2196.6 729.8 2190.3 C730.8 2184.1 731.9 2169.4 732.3 2165.3Z" fill="#F2AC5E" stroke="#BDBDBD" stroke-width="2.4"/>
<path d="M880 2193.5 C880.5 2198.2 881.3 2213.8 883.1 2221.6 C885 2229.5 886.3 2234.2 891 2240.4 C895.7 2246.7 904.8 2253 911.3 2259.2 C917.8 2265.5 925.4 2272.8 930.1 2278 C934.8 2283.2 939.5 2286.4 939.5 2290.5 C939.5 2294.7 934.8 2297.9 930.1 2303.1 C925.4 2308.3 917.1 2315.6 911.3 2321.9 C905.6 2328.1 900.1 2334.4 895.7 2340.7 C891.2 2346.9 887.3 2353.4 884.7 2359.4 C882.1 2365.5 880.8 2373.8 880 2376.7 L880 2376.7 C879.2 2373.8 877.9 2365.5 875.3 2359.4 C872.7 2353.4 868.8 2346.9 864.3 2340.7 C859.9 2334.4 854.4 2328.1 848.7 2321.9 C842.9 2315.6 834.6 2308.3 829.9 2303.1 C825.2 2297.9 820.5 2294.7 820.5 2290.5 C820.5 2286.4 825.2 2283.2 829.9 2278 C834.6 2272.8 842.2 2265.5 848.7 2259.2 C855.2 2253 864.3 2246.7 869 2240.4 C873.7 2234.2 875 2229.5 876.9 2221.6 C878.7 2213.8 879.5 2198.2 880 2193.5Z" fill="#B07CB4" stroke="#BDBDBD" stroke-width="2.4"/>
<line x1="658.7" y1="2293" x2="807.4" y2="2293" stroke="#111" stroke-width="2.6"/>
<line x1="805.9" y1="2290.5" x2="954.6" y2="2290.5" stroke="#111" stroke-width="2.6"/>
<line x1="719.8" y1="2252" x2="744.8" y2="2252" stroke="#fff" stroke-width="2.8"/><line x1="719.8" y1="2259" x2="744.8" y2="2259" stroke="#fff" stroke-width="2.8"/><line x1="719.8" y1="2265.9" x2="744.8" y2="2265.9" stroke="#fff" stroke-width="2.8"/><line x1="719.8" y1="2271.1" x2="744.8" y2="2271.1" stroke="#fff" stroke-width="2.8"/><line x1="719.8" y1="2281.6" x2="744.8" y2="2281.6" stroke="#fff" stroke-width="2.8"/><line x1="719.8" y1="2286.8" x2="744.8" y2="2286.8" stroke="#fff" stroke-width="2.8"/><line x1="719.8" y1="2292" x2="744.8" y2="2292" stroke="#fff" stroke-width="2.8"/><line x1="719.8" y1="2297.2" x2="744.8" y2="2297.2" stroke="#fff" stroke-width="2.8"/><line x1="719.8" y1="2302.4" x2="744.8" y2="2302.4" stroke="#fff" stroke-width="2.8"/><line x1="719.8" y1="2309.4" x2="744.8" y2="2309.4" stroke="#fff" stroke-width="2.8"/><line x1="719.8" y1="2314.6" x2="744.8" y2="2314.6" stroke="#fff" stroke-width="2.8"/><line x1="719.8" y1="2319.8" x2="744.8" y2="2319.8" stroke="#fff" stroke-width="2.8"/><line x1="719.8" y1="2325" x2="744.8" y2="2325" stroke="#fff" stroke-width="2.8"/><line x1="719.8" y1="2330.2" x2="744.8" y2="2330.2" stroke="#fff" stroke-width="2.8"/><line x1="719.8" y1="2342.4" x2="744.8" y2="2342.4" stroke="#fff" stroke-width="2.8"/><line x1="719.8" y1="2358" x2="744.8" y2="2358" stroke="#fff" stroke-width="2.8"/><line x1="719.8" y1="2378.9" x2="744.8" y2="2378.9" stroke="#fff" stroke-width="2.8"/><line x1="719.8" y1="2382.4" x2="744.8" y2="2382.4" stroke="#fff" stroke-width="2.8"/><line x1="719.8" y1="2387.6" x2="744.8" y2="2387.6" stroke="#fff" stroke-width="2.8"/><line x1="719.8" y1="2391.1" x2="744.8" y2="2391.1" stroke="#fff" stroke-width="2.8"/>
<line x1="867.5" y1="2265.9" x2="892.5" y2="2265.9" stroke="#fff" stroke-width="2.8"/><line x1="867.5" y1="2272.9" x2="892.5" y2="2272.9" stroke="#fff" stroke-width="2.8"/><line x1="867.5" y1="2279.8" x2="892.5" y2="2279.8" stroke="#fff" stroke-width="2.8"/><line x1="867.5" y1="2285" x2="892.5" y2="2285" stroke="#fff" stroke-width="2.8"/><line x1="867.5" y1="2290.3" x2="892.5" y2="2290.3" stroke="#fff" stroke-width="2.8"/><line x1="867.5" y1="2297.2" x2="892.5" y2="2297.2" stroke="#fff" stroke-width="2.8"/><line x1="867.5" y1="2302.4" x2="892.5" y2="2302.4" stroke="#fff" stroke-width="2.8"/><line x1="867.5" y1="2307.6" x2="892.5" y2="2307.6" stroke="#fff" stroke-width="2.8"/><line x1="867.5" y1="2314.6" x2="892.5" y2="2314.6" stroke="#fff" stroke-width="2.8"/><line x1="867.5" y1="2323.3" x2="892.5" y2="2323.3" stroke="#fff" stroke-width="2.8"/><line x1="867.5" y1="2326.8" x2="892.5" y2="2326.8" stroke="#fff" stroke-width="2.8"/>
<line x1="720" y1="2214.1" x2="745" y2="2214.1" stroke="#111" stroke-width="2.4"/><line x1="721.3" y1="2215.2" x2="743.3" y2="2215.2" stroke="#fff" stroke-width="2.8"/><line x1="721.3" y1="2231.2" x2="743.3" y2="2231.2" stroke="#fff" stroke-width="2.8"/>
<line x1="868" y1="2242.3" x2="892" y2="2242.3" stroke="#111" stroke-width="2.4"/><line x1="869" y1="2243.3" x2="891" y2="2243.3" stroke="#fff" stroke-width="2.8"/>
<rect x="647" y="2140.2" width="319.5" height="300.1" fill="none" stroke="#000" stroke-width="2.4"/>
<line x1="641" y1="2429.3" x2="647" y2="2429.3" stroke="#000" stroke-width="2"/>
<text x="636.5" y="2439.3" font-size="25" text-anchor="end" fill="#111111" font-weight="normal">0</text>
<line x1="641" y1="2359.8" x2="647" y2="2359.8" stroke="#000" stroke-width="2"/>
<text x="636.5" y="2369.8" font-size="25" text-anchor="end" fill="#111111" font-weight="normal">20</text>
<line x1="641" y1="2290.3" x2="647" y2="2290.3" stroke="#000" stroke-width="2"/>
<text x="636.5" y="2300.3" font-size="25" text-anchor="end" fill="#111111" font-weight="normal">40</text>
<line x1="641" y1="2220.7" x2="647" y2="2220.7" stroke="#000" stroke-width="2"/>
<text x="636.5" y="2230.7" font-size="25" text-anchor="end" fill="#111111" font-weight="normal">60</text>
<line x1="641" y1="2151.2" x2="647" y2="2151.2" stroke="#000" stroke-width="2"/>
<text x="636.5" y="2161.2" font-size="25" text-anchor="end" fill="#111111" font-weight="normal">80</text>
<line x1="732.3" y1="2440.3" x2="732.3" y2="2447" stroke="#000" stroke-width="2"/>
<line x1="880" y1="2440.3" x2="880" y2="2447" stroke="#000" stroke-width="2"/>
<text x="607" y="2285" font-size="28.5" text-anchor="middle" fill="#111111" font-weight="normal" textLength="249" lengthAdjust="spacingAndGlyphs" transform="rotate(-90 607 2285)">% CD4+CD3+ cells</text>
<text x="680.6" y="2480" font-size="27" text-anchor="start" fill="#111111" font-weight="normal" textLength="275.6" lengthAdjust="spacingAndGlyphs">SC (n=30) LC (n=22)</text>
<line x1="1088.2" y1="2306.1" x2="1406.9" y2="2306.1" stroke="#111" stroke-width="1.6" stroke-dasharray="2 1"/>
<path d="M1173.4 2192.1 C1173.7 2195.1 1174.2 2205.2 1174.9 2210.3 C1175.7 2215.4 1175.9 2217.9 1178 2222.5 C1180 2227 1183.8 2232.6 1187.1 2237.7 C1190.4 2242.8 1194.7 2247.3 1197.7 2252.9 C1200.8 2258.5 1203.6 2265.1 1205.3 2271.1 C1207.1 2277.2 1207.6 2282.3 1208.4 2289.4 C1209.1 2296.5 1209.4 2306.6 1209.9 2313.7 C1210.4 2320.8 1210.4 2326.9 1211.4 2332 C1212.4 2337 1214.5 2340.1 1216 2344.1 C1217.5 2348.2 1220.5 2352.2 1220.5 2356.3 C1220.5 2360.4 1218.8 2364.4 1216 2368.5 C1213.2 2372.5 1208.4 2376.6 1203.8 2380.6 C1199.3 2384.7 1192.9 2388.7 1188.6 2392.8 C1184.3 2396.9 1180.5 2399.9 1178 2405 C1175.4 2410 1174.2 2420.2 1173.4 2423.2 L1173.4 2423.2 C1172.6 2420.2 1171.4 2410 1168.8 2405 C1166.3 2399.9 1162.5 2396.9 1158.2 2392.8 C1153.9 2388.7 1147.5 2384.7 1143 2380.6 C1138.4 2376.6 1133.6 2372.5 1130.8 2368.5 C1128 2364.4 1126.3 2360.4 1126.3 2356.3 C1126.3 2352.2 1129.3 2348.2 1130.8 2344.1 C1132.3 2340.1 1134.4 2337 1135.4 2332 C1136.4 2326.9 1136.4 2320.8 1136.9 2313.7 C1137.4 2306.6 1137.7 2296.5 1138.4 2289.4 C1139.2 2282.3 1139.7 2277.2 1141.5 2271.1 C1143.2 2265.1 1146 2258.5 1149.1 2252.9 C1152.1 2247.3 1156.4 2242.8 1159.7 2237.7 C1163 2232.6 1166.8 2227 1168.8 2222.5 C1170.9 2217.9 1171.1 2215.4 1171.9 2210.3 C1172.6 2205.2 1173.1 2195.1 1173.4 2192.1Z" fill="#F2AC5E" stroke="#BDBDBD" stroke-width="2.4"/>
<path d="M1320.9 2158.6 C1321.2 2162.7 1321.7 2175.8 1322.4 2182.9 C1323.2 2190 1323.9 2194.6 1325.5 2201.2 C1327 2207.8 1329.3 2216.4 1331.5 2222.5 C1333.8 2228.6 1335.9 2232.6 1339.1 2237.7 C1342.4 2242.8 1346.8 2247.3 1351.3 2252.9 C1355.9 2258.5 1362.2 2265.1 1366.5 2271.1 C1370.8 2277.2 1374.9 2284.3 1377.2 2289.4 C1379.4 2294.5 1380.7 2297.5 1380.2 2301.6 C1379.7 2305.6 1377.9 2308.7 1374.1 2313.7 C1370.3 2318.8 1362.5 2326.9 1357.4 2332 C1352.3 2337 1347.8 2339.6 1343.7 2344.1 C1339.7 2348.7 1336.1 2354.3 1333.1 2359.3 C1330 2364.4 1327.2 2369.5 1325.5 2374.5 C1323.7 2379.6 1323.2 2384.2 1322.4 2389.8 C1321.7 2395.3 1321.2 2405 1320.9 2408 L1320.9 2408 C1320.6 2405 1320.1 2395.3 1319.4 2389.8 C1318.6 2384.2 1318.1 2379.6 1316.3 2374.5 C1314.6 2369.5 1311.8 2364.4 1308.7 2359.3 C1305.7 2354.3 1302.1 2348.7 1298.1 2344.1 C1294 2339.6 1289.5 2337 1284.4 2332 C1279.3 2326.9 1271.5 2318.8 1267.7 2313.7 C1263.9 2308.7 1262.1 2305.6 1261.6 2301.6 C1261.1 2297.5 1262.4 2294.5 1264.6 2289.4 C1266.9 2284.3 1271 2277.2 1275.3 2271.1 C1279.6 2265.1 1285.9 2258.5 1290.5 2252.9 C1295 2247.3 1299.4 2242.8 1302.7 2237.7 C1305.9 2232.6 1308 2228.6 1310.3 2222.5 C1312.5 2216.4 1314.8 2207.8 1316.3 2201.2 C1317.9 2194.6 1318.6 2190 1319.4 2182.9 C1320.1 2175.8 1320.6 2162.7 1320.9 2158.6Z" fill="#B07CB4" stroke="#BDBDBD" stroke-width="2.4"/>
<line x1="1098.8" y1="2323.5" x2="1247.9" y2="2323.5" stroke="#111" stroke-width="2.6"/>
<line x1="1246.4" y1="2296.4" x2="1395.4" y2="2296.4" stroke="#111" stroke-width="2.6"/>
<line x1="1160.9" y1="2244.2" x2="1185.9" y2="2244.2" stroke="#fff" stroke-width="2.8"/><line x1="1160.9" y1="2253.1" x2="1185.9" y2="2253.1" stroke="#fff" stroke-width="2.8"/><line x1="1160.9" y1="2268.7" x2="1185.9" y2="2268.7" stroke="#fff" stroke-width="2.8"/><line x1="1160.9" y1="2273.1" x2="1185.9" y2="2273.1" stroke="#fff" stroke-width="2.8"/><line x1="1160.9" y1="2277.5" x2="1185.9" y2="2277.5" stroke="#fff" stroke-width="2.8"/><line x1="1160.9" y1="2282" x2="1185.9" y2="2282" stroke="#fff" stroke-width="2.8"/><line x1="1160.9" y1="2288.6" x2="1185.9" y2="2288.6" stroke="#fff" stroke-width="2.8"/><line x1="1160.9" y1="2299.7" x2="1185.9" y2="2299.7" stroke="#fff" stroke-width="2.8"/><line x1="1160.9" y1="2304.2" x2="1185.9" y2="2304.2" stroke="#fff" stroke-width="2.8"/><line x1="1160.9" y1="2308.6" x2="1185.9" y2="2308.6" stroke="#fff" stroke-width="2.8"/><line x1="1160.9" y1="2317.5" x2="1185.9" y2="2317.5" stroke="#fff" stroke-width="2.8"/><line x1="1160.9" y1="2321.9" x2="1185.9" y2="2321.9" stroke="#fff" stroke-width="2.8"/><line x1="1160.9" y1="2326.4" x2="1185.9" y2="2326.4" stroke="#fff" stroke-width="2.8"/><line x1="1160.9" y1="2330.8" x2="1185.9" y2="2330.8" stroke="#fff" stroke-width="2.8"/><line x1="1160.9" y1="2335.3" x2="1185.9" y2="2335.3" stroke="#fff" stroke-width="2.8"/><line x1="1160.9" y1="2339.7" x2="1185.9" y2="2339.7" stroke="#fff" stroke-width="2.8"/><line x1="1160.9" y1="2353" x2="1185.9" y2="2353" stroke="#fff" stroke-width="2.8"/><line x1="1160.9" y1="2357.5" x2="1185.9" y2="2357.5" stroke="#fff" stroke-width="2.8"/><line x1="1160.9" y1="2361.9" x2="1185.9" y2="2361.9" stroke="#fff" stroke-width="2.8"/><line x1="1160.9" y1="2366.3" x2="1185.9" y2="2366.3" stroke="#fff" stroke-width="2.8"/><line x1="1160.9" y1="2370.8" x2="1185.9" y2="2370.8" stroke="#fff" stroke-width="2.8"/>
<line x1="1308.4" y1="2250.9" x2="1333.4" y2="2250.9" stroke="#fff" stroke-width="2.8"/><line x1="1308.4" y1="2257.6" x2="1333.4" y2="2257.6" stroke="#fff" stroke-width="2.8"/><line x1="1308.4" y1="2266.4" x2="1333.4" y2="2266.4" stroke="#fff" stroke-width="2.8"/><line x1="1308.4" y1="2273.1" x2="1333.4" y2="2273.1" stroke="#fff" stroke-width="2.8"/><line x1="1308.4" y1="2282" x2="1333.4" y2="2282" stroke="#fff" stroke-width="2.8"/><line x1="1308.4" y1="2288.6" x2="1333.4" y2="2288.6" stroke="#fff" stroke-width="2.8"/><line x1="1308.4" y1="2293.1" x2="1333.4" y2="2293.1" stroke="#fff" stroke-width="2.8"/><line x1="1308.4" y1="2297.5" x2="1333.4" y2="2297.5" stroke="#fff" stroke-width="2.8"/><line x1="1308.4" y1="2302" x2="1333.4" y2="2302" stroke="#fff" stroke-width="2.8"/><line x1="1308.4" y1="2310.8" x2="1333.4" y2="2310.8" stroke="#fff" stroke-width="2.8"/><line x1="1308.4" y1="2315.3" x2="1333.4" y2="2315.3" stroke="#fff" stroke-width="2.8"/><line x1="1308.4" y1="2319.7" x2="1333.4" y2="2319.7" stroke="#fff" stroke-width="2.8"/><line x1="1308.4" y1="2341.9" x2="1333.4" y2="2341.9" stroke="#fff" stroke-width="2.8"/>
<line x1="1309.9" y1="2355.2" x2="1331.9" y2="2355.2" stroke="#fff" stroke-width="2.8"/>
<line x1="1308" y1="2210.9" x2="1334" y2="2210.9" stroke="#111" stroke-width="2.4"/><line x1="1315.9" y1="2212.1" x2="1325.9" y2="2212.1" stroke="#fff" stroke-width="2.8"/>
<rect x="1088.2" y="2138.8" width="318.7" height="300.5" fill="none" stroke="#000" stroke-width="2.4"/>
<line x1="1082" y1="2428.5" x2="1088.2" y2="2428.5" stroke="#000" stroke-width="2"/>
<line x1="1082" y1="2373" x2="1088.2" y2="2373" stroke="#000" stroke-width="2"/>
<text x="1074" y="2383" font-size="25" text-anchor="end" fill="#111111" font-weight="normal">0</text>
<line x1="1082" y1="2317.5" x2="1088.2" y2="2317.5" stroke="#000" stroke-width="2"/>
<text x="1074" y="2327.5" font-size="25" text-anchor="end" fill="#111111" font-weight="normal">5</text>
<line x1="1082" y1="2262" x2="1088.2" y2="2262" stroke="#000" stroke-width="2"/>
<text x="1074" y="2272" font-size="25" text-anchor="end" fill="#111111" font-weight="normal">10</text>
<line x1="1082" y1="2206.5" x2="1088.2" y2="2206.5" stroke="#000" stroke-width="2"/>
<text x="1074" y="2216.5" font-size="25" text-anchor="end" fill="#111111" font-weight="normal">15</text>
<line x1="1082" y1="2151" x2="1088.2" y2="2151" stroke="#000" stroke-width="2"/>
<text x="1074" y="2161" font-size="25" text-anchor="end" fill="#111111" font-weight="normal">20</text>
<line x1="1173.4" y1="2439.3" x2="1173.4" y2="2446" stroke="#000" stroke-width="2"/>
<line x1="1320.9" y1="2439.3" x2="1320.9" y2="2446" stroke="#000" stroke-width="2"/>
<text x="1190" y="2175.3" font-size="27" text-anchor="start" fill="#111111" font-weight="normal" textLength="123.3" lengthAdjust="spacingAndGlyphs">p = 0.006</text>
<text x="1038" y="2281.8" font-size="28.5" text-anchor="middle" fill="#111111" font-weight="normal" textLength="289" lengthAdjust="spacingAndGlyphs" transform="rotate(-90 1038 2281.8)">% CD127-CD25+ cells</text>
<text x="1123.2" y="2471.9" font-size="27" text-anchor="start" fill="#111111" font-weight="normal" textLength="275.2" lengthAdjust="spacingAndGlyphs">SC (n=30) LC (n=22)</text>
</svg>
</body></html>
